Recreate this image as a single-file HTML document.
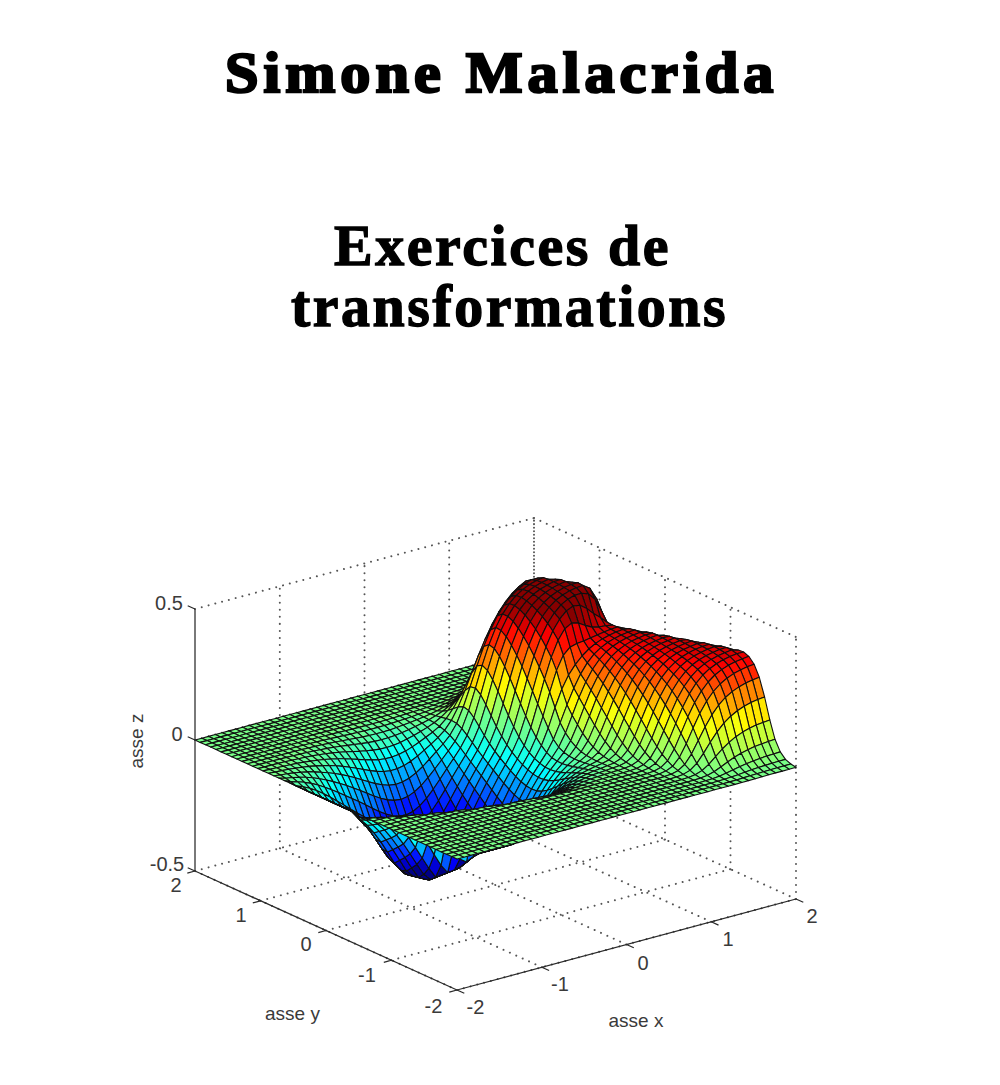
<!DOCTYPE html>
<html><head><meta charset="utf-8">
<style>
html,body{margin:0;padding:0;background:#fff;}
body{width:1000px;height:1085px;position:relative;overflow:hidden;}
.t{position:absolute;white-space:nowrap;color:#000;line-height:1;transform-origin:0 0;font-family:"Liberation Serif",serif;font-weight:bold;}
#author{font-size:60px;left:224.5px;top:44.3px;transform:scale(1.003,0.965);letter-spacing:5px;-webkit-text-stroke:2.6px #000;}
#l1{font-size:56px;left:334px;top:216.8px;transform:scale(1.034,1.02);letter-spacing:2.5px;-webkit-text-stroke:1.3px #000;}
#l2{font-size:56px;left:290.5px;top:277.2px;transform:scale(1.033,1.05);letter-spacing:2.5px;-webkit-text-stroke:1.3px #000;}
svg{position:absolute;left:0;top:0;}
</style></head><body>
<div class="t" id="author">Simone Malacrida</div>
<div class="t" id="l1">Exercices de</div>
<div class="t" id="l2">transformations</div>
<svg width="1000" height="1085" viewBox="0 0 1000 1085"><defs><filter id="bl" x="-5%" y="-5%" width="110%" height="110%"><feGaussianBlur stdDeviation="0.5"/></filter></defs><path d="M457.0 990.0L195.0 871.0M457.0 990.0L796.0 899.0M796.0 899.0L796.0 637.0M541.8 967.2L279.8 848.2M391.5 960.2L730.5 869.2M279.8 848.2L279.8 586.2M730.5 869.2L730.5 607.2M626.5 944.5L364.5 825.5M326.0 930.5L665.0 839.5M364.5 825.5L364.5 563.5M665.0 839.5L665.0 577.5M711.2 921.8L449.2 802.8M260.5 900.8L599.5 809.8M449.2 802.8L449.2 540.8M599.5 809.8L599.5 547.8M796.0 899.0L534.0 780.0M195.0 871.0L534.0 780.0M534.0 780.0L534.0 518.0M195.0 740.0L534.0 649.0M534.0 649.0L796.0 768.0M195.0 609.0L534.0 518.0M534.0 518.0L796.0 637.0" fill="none" stroke="#555" stroke-width="2.0" stroke-dasharray="0.01 7" stroke-linecap="round"/><path d="M534.0 780.0L534.0 518.0" fill="none" stroke="#555" stroke-width="2.0" stroke-dasharray="0.01 7" stroke-dashoffset="3.5" stroke-linecap="round"/><g stroke="#111" stroke-width="1.1" stroke-linejoin="round" filter="url(#bl)"><path fill="#78ff87" d="M532.5 653.2 539.2 651.4 534.0 649.0 527.2 650.8z"/><path fill="#78ff87" d="M525.7 655.0 532.5 653.2 527.2 650.8 520.4 652.6z"/><path fill="#78ff87" d="M537.7 655.6 544.5 653.8 539.2 651.4 532.5 653.2z"/><path fill="#78ff87" d="M518.9 656.8 525.7 655.0 520.4 652.6 513.7 654.5z"/><path fill="#78ff87" d="M530.9 657.4 537.7 655.6 532.5 653.2 525.7 655.0z"/><path fill="#78ff87" d="M542.9 657.9 549.7 656.1 544.5 653.8 537.7 655.6z"/><path fill="#78ff87" d="M512.1 658.6 518.9 656.8 513.7 654.5 506.9 656.3z"/><path fill="#78ff87" d="M524.1 659.2 530.9 657.4 525.7 655.0 518.9 656.8z"/><path fill="#78ff87" d="M536.2 659.7 542.9 657.9 537.7 655.6 530.9 657.4z"/><path fill="#78ff87" d="M548.2 660.3 555.0 658.5 549.7 656.1 542.9 657.9z"/><path fill="#78ff87" d="M505.3 660.5 512.1 658.6 506.9 656.3 500.1 658.1z"/><path fill="#78ff87" d="M517.4 661.0 524.1 659.2 518.9 656.8 512.1 658.6z"/><path fill="#78ff87" d="M529.4 661.5 536.2 659.7 530.9 657.4 524.1 659.2z"/><path fill="#78ff87" d="M541.4 662.1 548.2 660.3 542.9 657.9 536.2 659.7z"/><path fill="#78ff87" d="M498.6 662.3 505.3 660.5 500.1 658.1 493.3 659.9z"/><path fill="#78ff87" d="M553.4 662.6 560.2 660.8 555.0 658.5 548.2 660.3z"/><path fill="#78ff87" d="M510.6 662.8 517.4 661.0 512.1 658.6 505.3 660.5z"/><path fill="#78ff87" d="M522.6 663.3 529.4 661.5 524.1 659.2 517.4 661.0z"/><path fill="#78ff87" d="M534.6 663.8 541.4 662.1 536.2 659.7 529.4 661.5z"/><path fill="#78ff87" d="M491.8 664.1 498.6 662.3 493.3 659.9 486.5 661.7z"/><path fill="#78ff87" d="M546.6 664.3 553.4 662.6 548.2 660.3 541.4 662.1z"/><path fill="#78ff87" d="M503.8 664.6 510.6 662.8 505.3 660.5 498.6 662.3z"/><path fill="#78ff87" d="M558.7 664.8 565.4 663.1 560.2 660.8 553.4 662.6z"/><path fill="#78ff87" d="M515.8 665.1 522.6 663.3 517.4 661.0 510.6 662.8z"/><path fill="#78ff87" d="M527.8 665.5 534.6 663.8 529.4 661.5 522.6 663.3z"/><path fill="#78ff87" d="M485.0 665.9 491.8 664.1 486.5 661.7 479.8 663.5z"/><path fill="#78ff87" d="M539.9 666.0 546.6 664.3 541.4 662.1 534.6 663.8z"/><path fill="#78ff87" d="M497.0 666.4 503.8 664.6 498.6 662.3 491.8 664.1z"/><path fill="#78ff87" d="M551.9 666.4 558.7 664.8 553.4 662.6 546.6 664.3z"/><path fill="#78ff87" d="M509.0 666.9 515.8 665.1 510.6 662.8 503.8 664.6z"/><path fill="#78ff87" d="M563.9 667.0 570.7 665.4 565.4 663.1 558.7 664.8z"/><path fill="#78ff87" d="M521.1 667.3 527.8 665.5 522.6 663.3 515.8 665.1z"/><path fill="#78ff87" d="M478.2 667.7 485.0 665.9 479.8 663.5 473.0 665.4z"/><path fill="#78ff87" d="M533.1 667.6 539.9 666.0 534.6 663.8 527.8 665.5z"/><path fill="#78ff87" d="M490.2 668.2 497.0 666.4 491.8 664.1 485.0 665.9z"/><path fill="#78ff87" d="M545.1 667.9 551.9 666.4 546.6 664.3 539.9 666.0z"/><path fill="#78ff87" d="M502.3 668.6 509.0 666.9 503.8 664.6 497.0 666.4z"/><path fill="#78ff87" d="M557.1 668.4 563.9 667.0 558.7 664.8 551.9 666.4z"/><path fill="#78ff87" d="M514.3 669.0 521.1 667.3 515.8 665.1 509.0 666.9z"/><path fill="#78ff87" d="M471.4 669.5 478.2 667.7 473.0 665.4 466.2 667.2z"/><path fill="#78ff87" d="M569.1 669.1 575.9 667.7 570.7 665.4 563.9 667.0z"/><path fill="#78ff87" d="M526.3 669.1 533.1 667.6 527.8 665.5 521.1 667.3z"/><path fill="#78ff87" d="M483.5 670.0 490.2 668.2 485.0 665.9 478.2 667.7z"/><path fill="#78ff87" d="M538.3 669.2 545.1 667.9 539.9 666.0 533.1 667.6z"/><path fill="#78ff87" d="M495.5 670.4 502.3 668.6 497.0 666.4 490.2 668.2z"/><path fill="#78ff87" d="M550.3 669.5 557.1 668.4 551.9 666.4 545.1 667.9z"/><path fill="#78ff87" d="M507.5 670.7 514.3 669.0 509.0 666.9 502.3 668.6z"/><path fill="#78ff87" d="M464.7 671.3 471.4 669.5 466.2 667.2 459.4 669.0z"/><path fill="#78ff87" d="M562.4 670.2 569.1 669.1 563.9 667.0 557.1 668.4z"/><path fill="#78ff87" d="M519.5 670.6 526.3 669.1 521.1 667.3 514.3 669.0z"/><path fill="#78ff87" d="M476.7 671.8 483.5 670.0 478.2 667.7 471.4 669.5z"/><path fill="#78ff87" d="M574.4 671.1 581.2 669.9 575.9 667.7 569.1 669.1z"/><path fill="#78ff87" d="M531.5 670.4 538.3 669.2 533.1 667.6 526.3 669.1z"/><path fill="#78ff87" d="M488.7 672.2 495.5 670.4 490.2 668.2 483.5 670.0z"/><path fill="#87ff78" d="M543.6 670.3 550.3 669.5 545.1 667.9 538.3 669.2z"/><path fill="#78ff87" d="M500.7 672.4 507.5 670.7 502.3 668.6 495.5 670.4z"/><path fill="#78ff87" d="M457.9 673.2 464.7 671.3 459.4 669.0 452.6 670.8z"/><path fill="#87ff78" d="M555.6 670.9 562.4 670.2 557.1 668.4 550.3 669.5z"/><path fill="#78ff87" d="M512.7 672.2 519.5 670.6 514.3 669.0 507.5 670.7z"/><path fill="#78ff87" d="M469.9 673.6 476.7 671.8 471.4 669.5 464.7 671.3z"/><path fill="#78ff87" d="M567.6 671.9 574.4 671.1 569.1 669.1 562.4 670.2z"/><path fill="#87ff78" d="M524.8 671.5 531.5 670.4 526.3 669.1 519.5 670.6z"/><path fill="#78ff87" d="M481.9 674.0 488.7 672.2 483.5 670.0 476.7 671.8z"/><path fill="#78ff87" d="M579.6 673.1 586.4 672.0 581.2 669.9 574.4 671.1z"/><path fill="#87ff78" d="M536.8 670.8 543.6 670.3 538.3 669.2 531.5 670.4z"/><path fill="#78ff87" d="M493.9 674.1 500.7 672.4 495.5 670.4 488.7 672.2z"/><path fill="#78ff87" d="M451.1 675.0 457.9 673.2 452.6 670.8 445.9 672.6z"/><path fill="#87ff78" d="M548.8 670.9 555.6 670.9 550.3 669.5 543.6 670.3z"/><path fill="#78ff87" d="M506.0 673.7 512.7 672.2 507.5 670.7 500.7 672.4z"/><path fill="#78ff87" d="M463.1 675.5 469.9 673.6 464.7 671.3 457.9 673.2z"/><path fill="#87ff78" d="M560.8 672.0 567.6 671.9 562.4 670.2 555.6 670.9z"/><path fill="#87ff78" d="M518.0 672.6 524.8 671.5 519.5 670.6 512.7 672.2z"/><path fill="#78ff87" d="M475.1 675.8 481.9 674.0 476.7 671.8 469.9 673.6z"/><path fill="#87ff78" d="M572.8 673.5 579.6 673.1 574.4 671.1 567.6 671.9z"/><path fill="#97ff68" d="M530.0 671.0 536.8 670.8 531.5 670.4 524.8 671.5z"/><path fill="#78ff87" d="M487.2 675.9 493.9 674.1 488.7 672.2 481.9 674.0z"/><path fill="#78ff87" d="M584.9 674.9 591.6 674.1 586.4 672.0 579.6 673.1z"/><path fill="#78ff87" d="M444.3 676.8 451.1 675.0 445.9 672.6 439.1 674.5z"/><path fill="#97ff68" d="M542.0 670.3 548.8 670.9 543.6 670.3 536.8 670.8z"/><path fill="#78ff87" d="M499.2 675.4 506.0 673.7 500.7 672.4 493.9 674.1z"/><path fill="#78ff87" d="M456.3 677.3 463.1 675.5 457.9 673.2 451.1 675.0z"/><path fill="#97ff68" d="M554.0 671.2 560.8 672.0 555.6 670.9 548.8 670.9z"/><path fill="#87ff78" d="M511.2 673.9 518.0 672.6 512.7 672.2 506.0 673.7z"/><path fill="#78ff87" d="M468.4 677.6 475.1 675.8 469.9 673.6 463.1 675.5z"/><path fill="#87ff78" d="M566.1 672.9 572.8 673.5 567.6 671.9 560.8 672.0z"/><path fill="#97ff68" d="M523.2 671.3 530.0 671.0 524.8 671.5 518.0 672.6z"/><path fill="#78ff87" d="M480.4 677.7 487.2 675.9 481.9 674.0 475.1 675.8z"/><path fill="#87ff78" d="M578.1 674.8 584.9 674.9 579.6 673.1 572.8 673.5z"/><path fill="#78ff87" d="M437.5 678.6 444.3 676.8 439.1 674.5 432.3 676.3z"/><path fill="#a7ff58" d="M535.2 669.1 542.0 670.3 536.8 670.8 530.0 671.0z"/><path fill="#78ff87" d="M492.4 677.1 499.2 675.4 493.9 674.1 487.2 675.9z"/><path fill="#87ff78" d="M590.1 676.5 596.9 676.1 591.6 674.1 584.9 674.9z"/><path fill="#78ff87" d="M449.6 679.1 456.3 677.3 451.1 675.0 444.3 676.8z"/><path fill="#a7ff58" d="M547.3 669.1 554.0 671.2 548.8 670.9 542.0 670.3z"/><path fill="#87ff78" d="M504.4 675.3 511.2 673.9 506.0 673.7 499.2 675.4z"/><path fill="#78ff87" d="M461.6 679.5 468.4 677.6 463.1 675.5 456.3 677.3z"/><path fill="#a7ff58" d="M559.3 671.1 566.1 672.9 560.8 672.0 554.0 671.2z"/><path fill="#97ff68" d="M516.4 671.7 523.2 671.3 518.0 672.6 511.2 673.9z"/><path fill="#78ff87" d="M473.6 679.6 480.4 677.7 475.1 675.8 468.4 677.6z"/><path fill="#97ff68" d="M571.3 673.6 578.1 674.8 572.8 673.5 566.1 672.9z"/><path fill="#78ff87" d="M430.8 680.5 437.5 678.6 432.3 676.3 425.5 678.1z"/><path fill="#b7ff48" d="M528.5 667.6 535.2 669.1 530.0 671.0 523.2 671.3z"/><path fill="#78ff87" d="M485.6 679.0 492.4 677.1 487.2 675.9 480.4 677.7z"/><path fill="#87ff78" d="M583.3 675.9 590.1 676.5 584.9 674.9 578.1 674.8z"/><path fill="#78ff87" d="M442.8 681.0 449.6 679.1 444.3 676.8 437.5 678.6z"/><path fill="#b7ff48" d="M540.5 665.9 547.3 669.1 542.0 670.3 535.2 669.1z"/><path fill="#87ff78" d="M497.6 677.0 504.4 675.3 499.2 675.4 492.4 677.1z"/><path fill="#87ff78" d="M595.3 677.9 602.1 677.9 596.9 676.1 590.1 676.5z"/><path fill="#78ff87" d="M454.8 681.3 461.6 679.5 456.3 677.3 449.6 679.1z"/><path fill="#b7ff48" d="M552.5 667.5 559.3 671.1 554.0 671.2 547.3 669.1z"/><path fill="#a7ff58" d="M509.7 672.6 516.4 671.7 511.2 673.9 504.4 675.3z"/><path fill="#78ff87" d="M466.8 681.5 473.6 679.6 468.4 677.6 461.6 679.5z"/><path fill="#78ff87" d="M424.0 682.3 430.8 680.5 425.5 678.1 418.7 679.9z"/><path fill="#a7ff58" d="M564.5 670.6 571.3 673.6 566.1 672.9 559.3 671.1z"/><path fill="#c7ff38" d="M521.7 666.3 528.5 667.6 523.2 671.3 516.4 671.7z"/><path fill="#78ff87" d="M478.8 680.9 485.6 679.0 480.4 677.7 473.6 679.6z"/><path fill="#78ff87" d="M436.0 682.8 442.8 681.0 437.5 678.6 430.8 680.5z"/><path fill="#a7ff58" d="M576.5 673.9 583.3 675.9 578.1 674.8 571.3 673.6z"/><path fill="#87ff78" d="M490.9 678.9 497.6 677.0 492.4 677.1 485.6 679.0z"/><path fill="#d7ff28" d="M533.7 661.9 540.5 665.9 535.2 669.1 528.5 667.6z"/><path fill="#97ff68" d="M588.6 676.7 595.3 677.9 590.1 676.5 583.3 675.9z"/><path fill="#78ff87" d="M448.0 683.2 454.8 681.3 449.6 679.1 442.8 681.0z"/><path fill="#d7ff28" d="M545.7 662.2 552.5 667.5 547.3 669.1 540.5 665.9z"/><path fill="#a7ff58" d="M502.9 674.1 509.7 672.6 504.4 675.3 497.6 677.0z"/><path fill="#87ff78" d="M600.6 679.1 607.4 679.6 602.1 677.9 595.3 677.9z"/><path fill="#78ff87" d="M460.0 683.4 466.8 681.5 461.6 679.5 454.8 681.3z"/><path fill="#78ff87" d="M417.2 684.1 424.0 682.3 418.7 679.9 412.0 681.7z"/><path fill="#c7ff38" d="M557.7 665.6 564.5 670.6 559.3 671.1 552.5 667.5z"/><path fill="#78ff87" d="M472.1 683.0 478.8 680.9 473.6 679.6 466.8 681.5z"/><path fill="#c7ff38" d="M514.9 665.8 521.7 666.3 516.4 671.7 509.7 672.6z"/><path fill="#78ff87" d="M429.2 684.6 436.0 682.8 430.8 680.5 424.0 682.3z"/><path fill="#b7ff48" d="M569.8 669.8 576.5 673.9 571.3 673.6 564.5 670.6z"/><path fill="#87ff78" d="M484.1 681.1 490.9 678.9 485.6 679.0 478.8 680.9z"/><path fill="#f7ff08" d="M526.9 657.8 533.7 661.9 528.5 667.6 521.7 666.3z"/><path fill="#78ff87" d="M441.2 685.1 448.0 683.2 442.8 681.0 436.0 682.8z"/><path fill="#a7ff58" d="M581.8 673.8 588.6 676.7 583.3 675.9 576.5 673.9z"/><path fill="#a7ff58" d="M496.1 676.2 502.9 674.1 497.6 677.0 490.9 678.9z"/><path fill="#78ff87" d="M453.3 685.3 460.0 683.4 454.8 681.3 448.0 683.2z"/><path fill="#97ff68" d="M593.8 677.2 600.6 679.1 595.3 677.9 588.6 676.7z"/><path fill="#fff700" d="M538.9 655.4 545.7 662.2 540.5 665.9 533.7 661.9z"/><path fill="#78ff87" d="M410.4 685.9 417.2 684.1 412.0 681.7 405.2 683.6z"/><path fill="#97ff68" d="M605.8 680.0 612.6 681.1 607.4 679.6 600.6 679.1z"/><path fill="#f7ff08" d="M551.0 658.3 557.7 665.6 552.5 667.5 545.7 662.2z"/><path fill="#78ff87" d="M465.3 685.1 472.1 683.0 466.8 681.5 460.0 683.4z"/><path fill="#d7ff28" d="M508.1 666.6 514.9 665.8 509.7 672.6 502.9 674.1z"/><path fill="#78ff87" d="M422.4 686.5 429.2 684.6 424.0 682.3 417.2 684.1z"/><path fill="#e7ff18" d="M563.0 663.3 569.8 669.8 564.5 670.6 557.7 665.6z"/><path fill="#87ff78" d="M477.3 683.5 484.1 681.1 478.8 680.9 472.1 683.0z"/><path fill="#78ff87" d="M434.5 686.9 441.2 685.1 436.0 682.8 429.2 684.6z"/><path fill="#fff700" d="M520.1 654.7 526.9 657.8 521.7 666.3 514.9 665.8z"/><path fill="#c7ff38" d="M575.0 668.5 581.8 673.8 576.5 673.9 569.8 669.8z"/><path fill="#97ff68" d="M489.3 678.9 496.1 676.2 490.9 678.9 484.1 681.1z"/><path fill="#78ff87" d="M446.5 687.3 453.3 685.3 448.0 683.2 441.2 685.1z"/><path fill="#b7ff48" d="M587.0 673.2 593.8 677.2 588.6 676.7 581.8 673.8z"/><path fill="#ffc700" d="M532.2 647.9 538.9 655.4 533.7 661.9 526.9 657.8z"/><path fill="#78ff87" d="M403.6 687.8 410.4 685.9 405.2 683.6 398.4 685.4z"/><path fill="#78ff87" d="M458.5 687.2 465.3 685.1 460.0 683.4 453.3 685.3z"/><path fill="#a7ff58" d="M599.0 677.2 605.8 680.0 600.6 679.1 593.8 677.2z"/><path fill="#d7ff28" d="M501.3 668.8 508.1 666.6 502.9 674.1 496.1 676.2z"/><path fill="#ffd700" d="M544.2 648.8 551.0 658.3 545.7 662.2 538.9 655.4z"/><path fill="#78ff87" d="M415.7 688.3 422.4 686.5 417.2 684.1 410.4 685.9z"/><path fill="#97ff68" d="M611.1 680.5 617.8 682.3 612.6 681.1 605.8 680.0z"/><path fill="#87ff78" d="M470.5 685.9 477.3 683.5 472.1 683.0 465.3 685.1z"/><path fill="#ffe700" d="M556.2 654.1 563.0 663.3 557.7 665.6 551.0 658.3z"/><path fill="#78ff87" d="M427.7 688.8 434.5 686.9 429.2 684.6 422.4 686.5z"/><path fill="#ffe700" d="M513.4 653.6 520.1 654.7 514.9 665.8 508.1 666.6z"/><path fill="#f7ff08" d="M568.2 660.5 575.0 668.5 569.8 669.8 563.0 663.3z"/><path fill="#97ff68" d="M482.5 682.0 489.3 678.9 484.1 681.1 477.3 683.5z"/><path fill="#78ff87" d="M439.7 689.2 446.5 687.3 441.2 685.1 434.5 686.9z"/><path fill="#78ff87" d="M396.9 689.6 403.6 687.8 398.4 685.4 391.6 687.2z"/><path fill="#e7ff18" d="M580.2 666.7 587.0 673.2 581.8 673.8 575.0 668.5z"/><path fill="#ffa700" d="M525.4 641.1 532.2 647.9 526.9 657.8 520.1 654.7z"/><path fill="#78ff87" d="M451.7 689.2 458.5 687.2 453.3 685.3 446.5 687.3z"/><path fill="#c7ff38" d="M494.6 672.3 501.3 668.8 496.1 676.2 489.3 678.9z"/><path fill="#c7ff38" d="M592.3 672.1 599.0 677.2 593.8 677.2 587.0 673.2z"/><path fill="#78ff87" d="M408.9 690.1 415.7 688.3 410.4 685.9 403.6 687.8z"/><path fill="#ff9700" d="M537.4 638.2 544.2 648.8 538.9 655.4 532.2 647.9z"/><path fill="#87ff78" d="M463.7 688.4 470.5 685.9 465.3 685.1 458.5 687.2z"/><path fill="#b7ff48" d="M604.3 676.8 611.1 680.5 605.8 680.0 599.0 677.2z"/><path fill="#78ff87" d="M420.9 690.7 427.7 688.8 422.4 686.5 415.7 688.3z"/><path fill="#ffa700" d="M549.4 642.5 556.2 654.1 551.0 658.3 544.2 648.8z"/><path fill="#ffe700" d="M506.6 655.2 513.4 653.6 508.1 666.6 501.3 668.8z"/><path fill="#a7ff58" d="M616.3 680.7 623.1 683.3 617.8 682.3 611.1 680.5z"/><path fill="#97ff68" d="M475.8 685.2 482.5 682.0 477.3 683.5 470.5 685.9z"/><path fill="#ffc700" d="M561.4 649.7 568.2 660.5 563.0 663.3 556.2 654.1z"/><path fill="#78ff87" d="M432.9 691.1 439.7 689.2 434.5 686.9 427.7 688.8z"/><path fill="#78ff87" d="M390.1 691.4 396.9 689.6 391.6 687.2 384.8 689.0z"/><path fill="#ffe700" d="M573.5 657.2 580.2 666.7 575.0 668.5 568.2 660.5z"/><path fill="#ff8700" d="M518.6 636.8 525.4 641.1 520.1 654.7 513.4 653.6z"/><path fill="#78ff87" d="M444.9 691.3 451.7 689.2 446.5 687.3 439.7 689.2z"/><path fill="#b7ff48" d="M487.8 676.7 494.6 672.3 489.3 678.9 482.5 682.0z"/><path fill="#78ff87" d="M402.1 692.0 408.9 690.1 403.6 687.8 396.9 689.6z"/><path fill="#f7ff08" d="M585.5 664.3 592.3 672.1 587.0 673.2 580.2 666.7z"/><path fill="#78ff87" d="M457.0 690.8 463.7 688.4 458.5 687.2 451.7 689.2z"/><path fill="#ff5800" d="M530.6 627.8 537.4 638.2 532.2 647.9 525.4 641.1z"/><path fill="#78ff87" d="M414.1 692.5 420.9 690.7 415.7 688.3 408.9 690.1z"/><path fill="#d7ff28" d="M597.5 670.5 604.3 676.8 599.0 677.2 592.3 672.1z"/><path fill="#ffe700" d="M499.8 659.4 506.6 655.2 501.3 668.8 494.6 672.3z"/><path fill="#ff6800" d="M542.6 629.4 549.4 642.5 544.2 648.8 537.4 638.2z"/><path fill="#87ff78" d="M469.0 688.5 475.8 685.2 470.5 685.9 463.7 688.4z"/><path fill="#c7ff38" d="M609.5 675.8 616.3 680.7 611.1 680.5 604.3 676.8z"/><path fill="#78ff87" d="M426.1 693.0 432.9 691.1 427.7 688.8 420.9 690.7z"/><path fill="#78ff87" d="M383.3 693.2 390.1 691.4 384.8 689.0 378.1 690.9z"/><path fill="#ff7800" d="M554.7 636.4 561.4 649.7 556.2 654.1 549.4 642.5z"/><path fill="#b7ff48" d="M621.5 680.7 628.3 684.3 623.1 683.3 616.3 680.7z"/><path fill="#ff7800" d="M511.8 636.2 518.6 636.8 513.4 653.6 506.6 655.2z"/><path fill="#a7ff58" d="M481.0 681.5 487.8 676.7 482.5 682.0 475.8 685.2z"/><path fill="#78ff87" d="M438.2 693.3 444.9 691.3 439.7 689.2 432.9 691.1z"/><path fill="#ffa700" d="M566.7 644.9 573.5 657.2 568.2 660.5 561.4 649.7z"/><path fill="#78ff87" d="M395.3 693.8 402.1 692.0 396.9 689.6 390.1 691.4z"/><path fill="#ffc700" d="M578.7 653.4 585.5 664.3 580.2 666.7 573.5 657.2z"/><path fill="#78ff87" d="M450.2 693.1 457.0 690.8 451.7 689.2 444.9 691.3z"/><path fill="#78ff87" d="M407.3 694.3 414.1 692.5 408.9 690.1 402.1 692.0z"/><path fill="#ff2800" d="M523.8 619.8 530.6 627.8 525.4 641.1 518.6 636.8z"/><path fill="#f7ff08" d="M493.0 665.6 499.8 659.4 494.6 672.3 487.8 676.7z"/><path fill="#ffe700" d="M590.7 661.2 597.5 670.5 592.3 672.1 585.5 664.3z"/><path fill="#87ff78" d="M462.2 691.5 469.0 688.5 463.7 688.4 457.0 690.8z"/><path fill="#78ff87" d="M419.4 694.8 426.1 693.0 420.9 690.7 414.1 692.5z"/><path fill="#f7ff08" d="M602.7 668.2 609.5 675.8 604.3 676.8 597.5 670.5z"/><path fill="#ff1800" d="M535.9 616.5 542.6 629.4 537.4 638.2 530.6 627.8z"/><path fill="#78ff87" d="M376.5 695.1 383.3 693.2 378.1 690.9 371.3 692.7z"/><path fill="#a7ff58" d="M474.2 686.3 481.0 681.5 475.8 685.2 469.0 688.5z"/><path fill="#ff8700" d="M505.0 640.0 511.8 636.2 506.6 655.2 499.8 659.4z"/><path fill="#d7ff28" d="M614.8 674.5 621.5 680.7 616.3 680.7 609.5 675.8z"/><path fill="#78ff87" d="M431.4 695.2 438.2 693.3 432.9 691.1 426.1 693.0z"/><path fill="#ff3800" d="M547.9 621.7 554.7 636.4 549.4 642.5 542.6 629.4z"/><path fill="#78ff87" d="M388.5 695.6 395.3 693.8 390.1 691.4 383.3 693.2z"/><path fill="#ff5800" d="M559.9 630.3 566.7 644.9 561.4 649.7 554.7 636.4z"/><path fill="#b7ff48" d="M626.8 681.6 633.6 686.0 628.3 684.3 621.5 680.7z"/><path fill="#78ff87" d="M443.4 695.2 450.2 693.1 444.9 691.3 438.2 693.3z"/><path fill="#e7ff18" d="M486.2 673.0 493.0 665.6 487.8 676.7 481.0 681.5z"/><path fill="#78ff87" d="M400.6 696.2 407.3 694.3 402.1 692.0 395.3 693.8z"/><path fill="#ff8700" d="M571.9 639.8 578.7 653.4 573.5 657.2 566.7 644.9z"/><path fill="#ff1800" d="M517.1 616.0 523.8 619.8 518.6 636.8 511.8 636.2z"/><path fill="#87ff78" d="M455.4 694.3 462.2 691.5 457.0 690.8 450.2 693.1z"/><path fill="#ffa700" d="M583.9 649.0 590.7 661.2 585.5 664.3 578.7 653.4z"/><path fill="#78ff87" d="M412.6 696.7 419.4 694.8 414.1 692.5 407.3 694.3z"/><path fill="#78ff87" d="M369.7 696.9 376.5 695.1 371.3 692.7 364.5 694.5z"/><path fill="#ffd700" d="M596.0 657.6 602.7 668.2 597.5 670.5 590.7 661.2z"/><path fill="#d70000" d="M529.1 605.7 535.9 616.5 530.6 627.8 523.8 619.8z"/><path fill="#ffa700" d="M498.3 647.7 505.0 640.0 499.8 659.4 493.0 665.6z"/><path fill="#97ff68" d="M467.4 690.6 474.2 686.3 469.0 688.5 462.2 691.5z"/><path fill="#78ff87" d="M424.6 697.1 431.4 695.2 426.1 693.0 419.4 694.8z"/><path fill="#fff700" d="M608.0 665.5 614.8 674.5 609.5 675.8 602.7 668.2z"/><path fill="#78ff87" d="M381.8 697.4 388.5 695.6 383.3 693.2 376.5 695.1z"/><path fill="#e70000" d="M541.1 607.3 547.9 621.7 542.6 629.4 535.9 616.5z"/><path fill="#78ff87" d="M436.6 697.3 443.4 695.2 438.2 693.3 431.4 695.2z"/><path fill="#e7ff18" d="M620.0 673.9 626.8 681.6 621.5 680.7 614.8 674.5z"/><path fill="#c7ff38" d="M479.5 680.4 486.2 673.0 481.0 681.5 474.2 686.3z"/><path fill="#78ff87" d="M393.8 698.0 400.6 696.2 395.3 693.8 388.5 695.6z"/><path fill="#ff0800" d="M553.1 614.7 559.9 630.3 554.7 636.4 547.9 621.7z"/><path fill="#ff1800" d="M510.3 618.0 517.1 616.0 511.8 636.2 505.0 640.0z"/><path fill="#b7ff48" d="M632.0 683.0 638.8 687.3 633.6 686.0 626.8 681.6z"/><path fill="#78ff87" d="M448.6 696.8 455.4 694.3 450.2 693.1 443.4 695.2z"/><path fill="#ff2800" d="M565.1 624.3 571.9 639.8 566.7 644.9 559.9 630.3z"/><path fill="#78ff87" d="M405.8 698.5 412.6 696.7 407.3 694.3 400.6 696.2z"/><path fill="#ff5800" d="M577.2 634.3 583.9 649.0 578.7 653.4 571.9 639.8z"/><path fill="#78ff87" d="M363.0 698.7 369.7 696.9 364.5 694.5 357.7 696.3z"/><path fill="#ffc700" d="M491.5 658.1 498.3 647.7 493.0 665.6 486.2 673.0z"/><path fill="#87ff78" d="M460.7 694.3 467.4 690.6 462.2 691.5 455.4 694.3z"/><path fill="#78ff87" d="M417.8 699.0 424.6 697.1 419.4 694.8 412.6 696.7z"/><path fill="#b70000" d="M522.3 599.4 529.1 605.7 523.8 619.8 517.1 616.0z"/><path fill="#ff8700" d="M589.2 644.1 596.0 657.6 590.7 661.2 583.9 649.0z"/><path fill="#78ff87" d="M375.0 699.3 381.8 697.4 376.5 695.1 369.7 696.9z"/><path fill="#ffb700" d="M601.2 653.5 608.0 665.5 602.7 668.2 596.0 657.6z"/><path fill="#78ff87" d="M429.8 699.3 436.6 697.3 431.4 695.2 424.6 697.1z"/><path fill="#b7ff48" d="M472.7 686.7 479.5 680.4 474.2 686.3 467.4 690.6z"/><path fill="#a70000" d="M534.3 595.3 541.1 607.3 535.9 616.5 529.1 605.7z"/><path fill="#78ff87" d="M387.0 699.8 393.8 698.0 388.5 695.6 381.8 697.4z"/><path fill="#ffd700" d="M613.2 663.0 620.0 673.9 614.8 674.5 608.0 665.5z"/><path fill="#ff3800" d="M503.5 625.9 510.3 618.0 505.0 640.0 498.3 647.7z"/><path fill="#78ff87" d="M441.9 699.1 448.6 696.8 443.4 695.2 436.6 697.3z"/><path fill="#b70000" d="M546.3 599.9 553.1 614.7 547.9 621.7 541.1 607.3z"/><path fill="#e7ff18" d="M625.2 675.6 632.0 683.0 626.8 681.6 620.0 673.9z"/><path fill="#78ff87" d="M399.0 700.4 405.8 698.5 400.6 696.2 393.8 698.0z"/><path fill="#fff700" d="M484.7 668.7 491.5 658.1 486.2 673.0 479.5 680.4z"/><path fill="#d70000" d="M558.4 608.3 565.1 624.3 559.9 630.3 553.1 614.7z"/><path fill="#78ff87" d="M356.2 700.5 363.0 698.7 357.7 696.3 350.9 698.1z"/><path fill="#c7ff38" d="M637.3 682.9 644.0 687.6 638.8 687.3 632.0 683.0z"/><path fill="#87ff78" d="M453.9 697.4 460.7 694.3 455.4 694.3 448.6 696.8z"/><path fill="#ff0800" d="M570.4 618.2 577.2 634.3 571.9 639.8 565.1 624.3z"/><path fill="#78ff87" d="M411.0 700.9 417.8 699.0 412.6 696.7 405.8 698.5z"/><path fill="#a70000" d="M515.5 599.3 522.3 599.4 517.1 616.0 510.3 618.0z"/><path fill="#78ff87" d="M368.2 701.1 375.0 699.3 369.7 696.9 363.0 698.7z"/><path fill="#ff3800" d="M582.4 628.6 589.2 644.1 583.9 649.0 577.2 634.3z"/><path fill="#a7ff58" d="M465.9 692.0 472.7 686.7 467.4 690.6 460.7 694.3z"/><path fill="#78ff87" d="M423.1 701.2 429.8 699.3 424.6 697.1 417.8 699.0z"/><path fill="#ff6800" d="M594.4 638.9 601.2 653.5 596.0 657.6 589.2 644.1z"/><path fill="#ff6800" d="M496.7 638.2 503.5 625.9 498.3 647.7 491.5 658.1z"/><path fill="#78ff87" d="M380.2 701.6 387.0 699.8 381.8 697.4 375.0 699.3z"/><path fill="#870000" d="M527.5 587.9 534.3 595.3 529.1 605.7 522.3 599.4z"/><path fill="#ff9700" d="M606.4 649.3 613.2 663.0 608.0 665.5 601.2 653.5z"/><path fill="#78ff87" d="M435.1 701.3 441.9 699.1 436.6 697.3 429.8 699.3z"/><path fill="#78ff87" d="M392.2 702.2 399.0 700.4 393.8 698.0 387.0 699.8z"/><path fill="#e7ff18" d="M477.9 678.0 484.7 668.7 479.5 680.4 472.7 686.7z"/><path fill="#ffd700" d="M618.5 664.0 625.2 675.6 620.0 673.9 613.2 663.0z"/><path fill="#870000" d="M539.6 588.0 546.3 599.9 541.1 607.3 534.3 595.3z"/><path fill="#78ff87" d="M349.4 702.3 356.2 700.5 350.9 698.1 344.2 700.0z"/><path fill="#87ff78" d="M447.1 700.3 453.9 697.4 448.6 696.8 441.9 699.1z"/><path fill="#f7ff08" d="M630.5 675.9 637.3 682.9 632.0 683.0 625.2 675.6z"/><path fill="#870000" d="M551.6 593.9 558.4 608.3 553.1 614.7 546.3 599.9z"/><path fill="#78ff87" d="M404.3 702.7 411.0 700.9 405.8 698.5 399.0 700.4z"/><path fill="#c70000" d="M508.7 606.2 515.5 599.3 510.3 618.0 503.5 625.9z"/><path fill="#78ff87" d="M361.4 702.9 368.2 701.1 363.0 698.7 356.2 700.5z"/><path fill="#d7ff28" d="M642.5 681.8 649.3 687.4 644.0 687.6 637.3 682.9z"/><path fill="#b70000" d="M563.6 602.5 570.4 618.2 565.1 624.3 558.4 608.3z"/><path fill="#97ff68" d="M459.1 696.5 465.9 692.0 460.7 694.3 453.9 697.4z"/><path fill="#ff9700" d="M489.9 651.1 496.7 638.2 491.5 658.1 484.7 668.7z"/><path fill="#78ff87" d="M416.3 703.2 423.1 701.2 417.8 699.0 411.0 700.9z"/><path fill="#d70000" d="M575.6 612.3 582.4 628.6 577.2 634.3 570.4 618.2z"/><path fill="#78ff87" d="M373.4 703.5 380.2 701.6 375.0 699.3 368.2 701.1z"/><path fill="#870000" d="M520.8 587.0 527.5 587.9 522.3 599.4 515.5 599.3z"/><path fill="#ff0800" d="M587.6 622.8 594.4 638.9 589.2 644.1 582.4 628.6z"/><path fill="#78ff87" d="M428.3 703.4 435.1 701.3 429.8 699.3 423.1 701.2z"/><path fill="#c7ff38" d="M471.1 685.9 477.9 678.0 472.7 686.7 465.9 692.0z"/><path fill="#78ff87" d="M385.5 704.0 392.2 702.2 387.0 699.8 380.2 701.6z"/><path fill="#ff3800" d="M599.7 633.6 606.4 649.3 601.2 653.5 594.4 638.9z"/><path fill="#78ff87" d="M342.6 704.2 349.4 702.3 344.2 700.0 337.4 701.8z"/><path fill="#870000" d="M532.8 581.2 539.6 588.0 534.3 595.3 527.5 587.9z"/><path fill="#78ff87" d="M440.3 702.8 447.1 700.3 441.9 699.1 435.1 701.3z"/><path fill="#ff8700" d="M611.7 648.2 618.5 664.0 613.2 663.0 606.4 649.3z"/><path fill="#f70000" d="M502.0 617.8 508.7 606.2 503.5 625.9 496.7 638.2z"/><path fill="#78ff87" d="M397.5 704.6 404.3 702.7 399.0 700.4 392.2 702.2z"/><path fill="#ffd700" d="M623.7 665.9 630.5 675.9 625.2 675.6 618.5 664.0z"/><path fill="#78ff87" d="M354.6 704.7 361.4 702.9 356.2 700.5 349.4 702.3z"/><path fill="#870000" d="M544.8 583.2 551.6 593.9 546.3 599.9 539.6 588.0z"/><path fill="#ffc700" d="M483.2 663.3 489.9 651.1 484.7 668.7 477.9 678.0z"/><path fill="#87ff78" d="M452.3 700.3 459.1 696.5 453.9 697.4 447.1 700.3z"/><path fill="#fff700" d="M635.7 674.1 642.5 681.8 637.3 682.9 630.5 675.9z"/><path fill="#78ff87" d="M409.5 705.1 416.3 703.2 411.0 700.9 404.3 702.7z"/><path fill="#870000" d="M556.8 589.2 563.6 602.5 558.4 608.3 551.6 593.9z"/><path fill="#78ff87" d="M366.7 705.3 373.4 703.5 368.2 701.1 361.4 702.9z"/><path fill="#e7ff18" d="M647.7 680.2 654.5 686.7 649.3 687.4 642.5 681.8z"/><path fill="#870000" d="M514.0 593.1 520.8 587.0 515.5 599.3 508.7 606.2z"/><path fill="#870000" d="M568.8 597.3 575.6 612.3 570.4 618.2 563.6 602.5z"/><path fill="#78ff87" d="M421.5 705.4 428.3 703.4 423.1 701.2 416.3 703.2z"/><path fill="#b7ff48" d="M464.4 692.6 471.1 685.9 465.9 692.0 459.1 696.5z"/><path fill="#78ff87" d="M378.7 705.9 385.5 704.0 380.2 701.6 373.4 703.5z"/><path fill="#b70000" d="M580.9 606.8 587.6 622.8 582.4 628.6 575.6 612.3z"/><path fill="#ff2800" d="M495.2 630.6 502.0 617.8 496.7 638.2 489.9 651.1z"/><path fill="#78ff87" d="M335.8 706.0 342.6 704.2 337.4 701.8 330.6 703.6z"/><path fill="#78ff87" d="M433.5 705.2 440.3 702.8 435.1 701.3 428.3 703.4z"/><path fill="#e70000" d="M592.9 617.1 599.7 633.6 594.4 638.9 587.6 622.8z"/><path fill="#870000" d="M526.0 581.0 532.8 581.2 527.5 587.9 520.8 587.0z"/><path fill="#78ff87" d="M390.7 706.4 397.5 704.6 392.2 702.2 385.5 704.0z"/><path fill="#fff700" d="M476.4 674.5 483.2 663.3 477.9 678.0 471.1 685.9z"/><path fill="#ff2800" d="M604.9 630.3 611.7 648.2 606.4 649.3 599.7 633.6z"/><path fill="#78ff87" d="M347.9 706.5 354.6 704.7 349.4 702.3 342.6 704.2z"/><path fill="#87ff78" d="M445.6 703.6 452.3 700.3 447.1 700.3 440.3 702.8z"/><path fill="#ff8700" d="M616.9 652.4 623.7 665.9 618.5 664.0 611.7 648.2z"/><path fill="#870000" d="M538.0 578.1 544.8 583.2 539.6 588.0 532.8 581.2z"/><path fill="#78ff87" d="M402.7 707.0 409.5 705.1 404.3 702.7 397.5 704.6z"/><path fill="#ffc700" d="M628.9 664.2 635.7 674.1 630.5 675.9 623.7 665.9z"/><path fill="#78ff87" d="M359.9 707.1 366.7 705.3 361.4 702.9 354.6 704.7z"/><path fill="#a70000" d="M507.2 602.2 514.0 593.1 508.7 606.2 502.0 617.8z"/><path fill="#870000" d="M550.0 580.4 556.8 589.2 551.6 593.9 544.8 583.2z"/><path fill="#a7ff58" d="M457.6 698.2 464.4 692.6 459.1 696.5 452.3 700.3z"/><path fill="#78ff87" d="M414.7 707.4 421.5 705.4 416.3 703.2 409.5 705.1z"/><path fill="#ffe700" d="M641.0 671.6 647.7 680.2 642.5 681.8 635.7 674.1z"/><path fill="#ff6800" d="M488.4 644.1 495.2 630.6 489.9 651.1 483.2 663.3z"/><path fill="#78ff87" d="M371.9 707.7 378.7 705.9 373.4 703.5 366.7 705.3z"/><path fill="#870000" d="M562.1 585.6 568.8 597.3 563.6 602.5 556.8 589.2z"/><path fill="#78ff87" d="M329.1 707.8 335.8 706.0 330.6 703.6 323.8 705.4z"/><path fill="#fff700" d="M653.0 678.1 659.8 685.6 654.5 686.7 647.7 680.2z"/><path fill="#78ff87" d="M426.8 707.5 433.5 705.2 428.3 703.4 421.5 705.4z"/><path fill="#870000" d="M519.2 586.4 526.0 581.0 520.8 587.0 514.0 593.1z"/><path fill="#870000" d="M574.1 592.9 580.9 606.8 575.6 612.3 568.8 597.3z"/><path fill="#78ff87" d="M383.9 708.3 390.7 706.4 385.5 704.0 378.7 705.9z"/><path fill="#e7ff18" d="M469.6 684.3 476.4 674.5 471.1 685.9 464.4 692.6z"/><path fill="#78ff87" d="M341.1 708.4 347.9 706.5 342.6 704.2 335.8 706.0z"/><path fill="#970000" d="M586.1 601.7 592.9 617.1 587.6 622.8 580.9 606.8z"/><path fill="#78ff87" d="M438.8 706.6 445.6 703.6 440.3 702.8 433.5 705.2z"/><path fill="#78ff87" d="M395.9 708.8 402.7 707.0 397.5 704.6 390.7 706.4z"/><path fill="#c70000" d="M598.1 612.8 604.9 630.3 599.7 633.6 592.9 617.1z"/><path fill="#870000" d="M531.2 579.7 538.0 578.1 532.8 581.2 526.0 581.0z"/><path fill="#c70000" d="M500.4 613.0 507.2 602.2 502.0 617.8 495.2 630.6z"/><path fill="#78ff87" d="M353.1 708.9 359.9 707.1 354.6 704.7 347.9 706.5z"/><path fill="#ff2800" d="M610.1 634.9 616.9 652.4 611.7 648.2 604.9 630.3z"/><path fill="#ff8700" d="M622.2 652.7 628.9 664.2 623.7 665.9 616.9 652.4z"/><path fill="#97ff68" d="M450.8 703.0 457.6 698.2 452.3 700.3 445.6 703.6z"/><path fill="#ff9700" d="M481.6 657.6 488.4 644.1 483.2 663.3 476.4 674.5z"/><path fill="#78ff87" d="M408.0 709.4 414.7 707.4 409.5 705.1 402.7 707.0z"/><path fill="#870000" d="M543.3 577.7 550.0 580.4 544.8 583.2 538.0 578.1z"/><path fill="#78ff87" d="M365.1 709.5 371.9 707.7 366.7 705.3 359.9 707.1z"/><path fill="#ffa700" d="M634.2 661.2 641.0 671.6 635.7 674.1 628.9 664.2z"/><path fill="#78ff87" d="M322.3 709.6 329.1 707.8 323.8 705.4 317.0 707.2z"/><path fill="#78ff87" d="M420.0 709.7 426.8 707.5 421.5 705.4 414.7 707.4z"/><path fill="#870000" d="M555.3 579.2 562.1 585.6 556.8 589.2 550.0 580.4z"/><path fill="#870000" d="M512.4 593.2 519.2 586.4 514.0 593.1 507.2 602.2z"/><path fill="#c7ff38" d="M462.8 692.7 469.6 684.3 464.4 692.6 457.6 698.2z"/><path fill="#ffc700" d="M646.2 668.6 653.0 678.1 647.7 680.2 641.0 671.6z"/><path fill="#78ff87" d="M377.1 710.1 383.9 708.3 378.7 705.9 371.9 707.7z"/><path fill="#870000" d="M567.3 583.3 574.1 592.9 568.8 597.3 562.1 585.6z"/><path fill="#78ff87" d="M334.3 710.2 341.1 708.4 335.8 706.0 329.1 707.8z"/><path fill="#ffe700" d="M658.2 675.6 665.0 684.0 659.8 685.6 653.0 678.1z"/><path fill="#78ff87" d="M432.0 709.3 438.8 706.6 433.5 705.2 426.8 707.5z"/><path fill="#f70000" d="M493.6 625.3 500.4 613.0 495.2 630.6 488.4 644.1z"/><path fill="#78ff87" d="M389.2 710.7 395.9 708.8 390.7 706.4 383.9 708.3z"/><path fill="#870000" d="M524.5 584.1 531.2 579.7 526.0 581.0 519.2 586.4z"/><path fill="#870000" d="M579.3 589.5 586.1 601.7 580.9 606.8 574.1 592.9z"/><path fill="#78ff87" d="M346.3 710.7 353.1 708.9 347.9 706.5 341.1 708.4z"/><path fill="#ffc700" d="M474.8 670.7 481.6 657.6 476.4 674.5 469.6 684.3z"/><path fill="#87ff78" d="M444.0 707.1 450.8 703.0 445.6 703.6 438.8 706.6z"/><path fill="#870000" d="M591.3 597.8 598.1 612.8 592.9 617.1 586.1 601.7z"/><path fill="#78ff87" d="M401.2 711.3 408.0 709.4 402.7 707.0 395.9 708.8z"/><path fill="#c70000" d="M603.4 615.4 610.1 634.9 604.9 630.3 598.1 612.8z"/><path fill="#870000" d="M536.5 580.6 543.3 577.7 538.0 578.1 531.2 579.7z"/><path fill="#ff3800" d="M615.4 639.9 622.2 652.7 616.9 652.4 610.1 634.9z"/><path fill="#78ff87" d="M358.3 711.3 365.1 709.5 359.9 707.1 353.1 708.9z"/><path fill="#870000" d="M505.7 601.6 512.4 593.2 507.2 602.2 500.4 613.0z"/><path fill="#78ff87" d="M315.5 711.4 322.3 709.6 317.0 707.2 310.3 709.1z"/><path fill="#ff6800" d="M627.4 649.9 634.2 661.2 628.9 664.2 622.2 652.7z"/><path fill="#78ff87" d="M413.2 711.8 420.0 709.7 414.7 707.4 408.0 709.4z"/><path fill="#a7ff58" d="M456.0 699.9 462.8 692.7 457.6 698.2 450.8 703.0z"/><path fill="#870000" d="M548.5 579.3 555.3 579.2 550.0 580.4 543.3 577.7z"/><path fill="#78ff87" d="M370.4 711.9 377.1 710.1 371.9 707.7 365.1 709.5z"/><path fill="#ff8700" d="M639.4 657.7 646.2 668.6 641.0 671.6 634.2 661.2z"/><path fill="#ff3800" d="M486.9 639.1 493.6 625.3 488.4 644.1 481.6 657.6z"/><path fill="#78ff87" d="M327.5 712.0 334.3 710.2 329.1 707.8 322.3 709.6z"/><path fill="#78ff87" d="M425.2 711.9 432.0 709.3 426.8 707.5 420.0 709.7z"/><path fill="#870000" d="M560.5 579.6 567.3 583.3 562.1 585.6 555.3 579.2z"/><path fill="#870000" d="M517.7 589.6 524.5 584.1 519.2 586.4 512.4 593.2z"/><path fill="#78ff87" d="M382.4 712.6 389.2 710.7 383.9 708.3 377.1 710.1z"/><path fill="#ffa700" d="M651.4 665.4 658.2 675.6 653.0 678.1 646.2 668.6z"/><path fill="#fff700" d="M468.1 682.7 474.8 670.7 469.6 684.3 462.8 692.7z"/><path fill="#78ff87" d="M339.5 712.6 346.3 710.7 341.1 708.4 334.3 710.2z"/><path fill="#870000" d="M572.5 582.3 579.3 589.5 574.1 592.9 567.3 583.3z"/><path fill="#87ff78" d="M437.2 710.7 444.0 707.1 438.8 706.6 432.0 709.3z"/><path fill="#ffc700" d="M663.5 672.7 670.2 682.0 665.0 684.0 658.2 675.6z"/><path fill="#78ff87" d="M394.4 713.3 401.2 711.3 395.9 708.8 389.2 710.7z"/><path fill="#870000" d="M529.7 584.5 536.5 580.6 531.2 579.7 524.5 584.1z"/><path fill="#870000" d="M584.6 587.3 591.3 597.8 586.1 601.7 579.3 589.5z"/><path fill="#78ff87" d="M351.6 713.1 358.3 711.3 353.1 708.9 346.3 710.7z"/><path fill="#b70000" d="M498.9 611.9 505.7 601.6 500.4 613.0 493.6 625.3z"/><path fill="#78ff87" d="M308.7 713.3 315.5 711.4 310.3 709.1 303.5 710.9z"/><path fill="#97ff68" d="M449.3 706.0 456.0 699.9 450.8 703.0 444.0 707.1z"/><path fill="#870000" d="M596.6 598.7 603.4 615.4 598.1 612.8 591.3 597.8z"/><path fill="#78ff87" d="M406.4 713.9 413.2 711.8 408.0 709.4 401.2 711.3z"/><path fill="#f70000" d="M608.6 626.0 615.4 639.9 610.1 634.9 603.4 615.4z"/><path fill="#870000" d="M541.7 582.6 548.5 579.3 543.3 577.7 536.5 580.6z"/><path fill="#ff7800" d="M480.1 653.9 486.9 639.1 481.6 657.6 474.8 670.7z"/><path fill="#78ff87" d="M363.6 713.8 370.4 711.9 365.1 709.5 358.3 711.3z"/><path fill="#ff2800" d="M620.6 638.9 627.4 649.9 622.2 652.7 615.4 639.9z"/><path fill="#78ff87" d="M320.7 713.8 327.5 712.0 322.3 709.6 315.5 711.4z"/><path fill="#78ff87" d="M418.4 714.3 425.2 711.9 420.0 709.7 413.2 711.8z"/><path fill="#870000" d="M510.9 596.4 517.7 589.6 512.4 593.2 505.7 601.6z"/><path fill="#ff4800" d="M632.6 646.5 639.4 657.7 634.2 661.2 627.4 649.9z"/><path fill="#870000" d="M553.7 581.8 560.5 579.6 555.3 579.2 548.5 579.3z"/><path fill="#d7ff28" d="M461.3 693.4 468.1 682.7 462.8 692.7 456.0 699.9z"/><path fill="#78ff87" d="M375.6 714.4 382.4 712.6 377.1 710.1 370.4 711.9z"/><path fill="#78ff87" d="M332.8 714.4 339.5 712.6 334.3 710.2 327.5 712.0z"/><path fill="#ff6800" d="M644.7 654.2 651.4 665.4 646.2 668.6 639.4 657.7z"/><path fill="#78ff87" d="M430.5 713.9 437.2 710.7 432.0 709.3 425.2 711.9z"/><path fill="#870000" d="M565.8 581.6 572.5 582.3 567.3 583.3 560.5 579.6z"/><path fill="#78ff87" d="M387.6 715.2 394.4 713.3 389.2 710.7 382.4 712.6z"/><path fill="#e70000" d="M492.1 624.3 498.9 611.9 493.6 625.3 486.9 639.1z"/><path fill="#870000" d="M522.9 589.4 529.7 584.5 524.5 584.1 517.7 589.6z"/><path fill="#ff9700" d="M656.7 662.0 663.5 672.7 658.2 675.6 651.4 665.4z"/><path fill="#78ff87" d="M344.8 715.0 351.6 713.1 346.3 710.7 339.5 712.6z"/><path fill="#870000" d="M577.8 582.8 584.6 587.3 579.3 589.5 572.5 582.3z"/><path fill="#87ff78" d="M442.5 711.2 449.3 706.0 444.0 707.1 437.2 710.7z"/><path fill="#78ff87" d="M301.9 715.1 308.7 713.3 303.5 710.9 296.7 712.7z"/><path fill="#ffb700" d="M473.3 668.9 480.1 653.9 474.8 670.7 468.1 682.7z"/><path fill="#ffb700" d="M668.7 669.6 675.5 679.6 670.2 682.0 663.5 672.7z"/><path fill="#78ff87" d="M399.6 716.0 406.4 713.9 401.2 711.3 394.4 713.3z"/><path fill="#870000" d="M534.9 586.4 541.7 582.6 536.5 580.6 529.7 584.5z"/><path fill="#78ff87" d="M356.8 715.6 363.6 713.8 358.3 711.3 351.6 713.1z"/><path fill="#870000" d="M589.8 588.2 596.6 598.7 591.3 597.8 584.6 587.3z"/><path fill="#a70000" d="M601.8 611.5 608.6 626.0 603.4 615.4 596.6 598.7z"/><path fill="#78ff87" d="M314.0 715.6 320.7 713.8 315.5 711.4 308.7 713.3z"/><path fill="#870000" d="M504.1 605.1 510.9 596.4 505.7 601.6 498.9 611.9z"/><path fill="#f70000" d="M613.8 629.4 620.6 638.9 615.4 639.9 608.6 626.0z"/><path fill="#78ff87" d="M411.7 716.7 418.4 714.3 413.2 711.8 406.4 713.9z"/><path fill="#b7ff48" d="M454.5 702.7 461.3 693.4 456.0 699.9 449.3 706.0z"/><path fill="#870000" d="M547.0 585.2 553.7 581.8 548.5 579.3 541.7 582.6z"/><path fill="#78ff87" d="M368.8 716.3 375.6 714.4 370.4 711.9 363.6 713.8z"/><path fill="#ff1800" d="M625.9 636.4 632.6 646.5 627.4 649.9 620.6 638.9z"/><path fill="#78ff87" d="M326.0 716.2 332.8 714.4 327.5 712.0 320.7 713.8z"/><path fill="#ff2800" d="M485.3 638.9 492.1 624.3 486.9 639.1 480.1 653.9z"/><path fill="#78ff87" d="M423.7 716.9 430.5 713.9 425.2 711.9 418.4 714.3z"/><path fill="#870000" d="M516.1 595.6 522.9 589.4 517.7 589.6 510.9 596.4z"/><path fill="#870000" d="M559.0 584.6 565.8 581.6 560.5 579.6 553.7 581.8z"/><path fill="#ff3800" d="M637.9 643.3 644.7 654.2 639.4 657.7 632.6 646.5z"/><path fill="#78ff87" d="M380.8 717.1 387.6 715.2 382.4 712.6 375.6 714.4z"/><path fill="#78ff87" d="M338.0 716.8 344.8 715.0 339.5 712.6 332.8 714.4z"/><path fill="#ffe700" d="M466.5 683.5 473.3 668.9 468.1 682.7 461.3 693.4z"/><path fill="#78ff87" d="M435.7 715.8 442.5 711.2 437.2 710.7 430.5 713.9z"/><path fill="#ff5800" d="M649.9 650.7 656.7 662.0 651.4 665.4 644.7 654.2z"/><path fill="#78ff87" d="M295.2 716.9 301.9 715.1 296.7 712.7 289.9 714.5z"/><path fill="#870000" d="M571.0 584.5 577.8 582.8 572.5 582.3 565.8 581.6z"/><path fill="#78ff87" d="M392.9 718.0 399.6 716.0 394.4 713.3 387.6 715.2z"/><path fill="#870000" d="M528.2 591.3 534.9 586.4 529.7 584.5 522.9 589.4z"/><path fill="#78ff87" d="M350.0 717.4 356.8 715.6 351.6 713.1 344.8 715.0z"/><path fill="#ff7800" d="M661.9 658.4 668.7 669.6 663.5 672.7 656.7 662.0z"/><path fill="#b70000" d="M497.3 616.1 504.1 605.1 498.9 611.9 492.1 624.3z"/><path fill="#78ff87" d="M307.2 717.5 314.0 715.6 308.7 713.3 301.9 715.1z"/><path fill="#870000" d="M583.0 585.4 589.8 588.2 584.6 587.3 577.8 582.8z"/><path fill="#97ff68" d="M447.7 710.6 454.5 702.7 449.3 706.0 442.5 711.2z"/><path fill="#68ff97" d="M404.9 719.0 411.7 716.7 406.4 713.9 399.6 716.0z"/><path fill="#ff9700" d="M673.9 666.2 680.7 676.8 675.5 679.6 668.7 669.6z"/><path fill="#870000" d="M540.2 589.2 547.0 585.2 541.7 582.6 534.9 586.4z"/><path fill="#870000" d="M595.0 599.2 601.8 611.5 596.6 598.7 589.8 588.2z"/><path fill="#78ff87" d="M362.0 718.1 368.8 716.3 363.6 713.8 356.8 715.6z"/><path fill="#c70000" d="M607.1 622.2 613.8 629.4 608.6 626.0 601.8 611.5z"/><path fill="#ff6800" d="M478.5 655.3 485.3 638.9 480.1 653.9 473.3 668.9z"/><path fill="#78ff87" d="M319.2 718.0 326.0 716.2 320.7 713.8 314.0 715.6z"/><path fill="#68ff97" d="M416.9 719.8 423.7 716.9 418.4 714.3 411.7 716.7z"/><path fill="#e70000" d="M619.1 628.9 625.9 636.4 620.6 638.9 613.8 629.4z"/><path fill="#870000" d="M509.4 603.7 516.1 595.6 510.9 596.4 504.1 605.1z"/><path fill="#870000" d="M552.2 588.1 559.0 584.6 553.7 581.8 547.0 585.2z"/><path fill="#78ff87" d="M374.1 719.0 380.8 717.1 375.6 714.4 368.8 716.3z"/><path fill="#d7ff28" d="M459.7 697.0 466.5 683.5 461.3 693.4 454.5 702.7z"/><path fill="#78ff87" d="M331.2 718.6 338.0 716.8 332.8 714.4 326.0 716.2z"/><path fill="#f70000" d="M631.1 634.2 637.9 643.3 632.6 646.5 625.9 636.4z"/><path fill="#78ff87" d="M428.9 719.7 435.7 715.8 430.5 713.9 423.7 716.9z"/><path fill="#78ff87" d="M288.4 718.7 295.2 716.9 289.9 714.5 283.1 716.3z"/><path fill="#870000" d="M564.2 587.6 571.0 584.5 565.8 581.6 559.0 584.6z"/><path fill="#78ff87" d="M386.1 720.0 392.9 718.0 387.6 715.2 380.8 717.1z"/><path fill="#870000" d="M521.4 597.5 528.2 591.3 522.9 589.4 516.1 595.6z"/><path fill="#e70000" d="M490.6 629.9 497.3 616.1 492.1 624.3 485.3 638.9z"/><path fill="#ff1800" d="M643.1 640.5 649.9 650.7 644.7 654.2 637.9 643.3z"/><path fill="#78ff87" d="M343.2 719.2 350.0 717.4 344.8 715.0 338.0 716.8z"/><path fill="#78ff87" d="M440.9 717.3 447.7 710.6 442.5 711.2 435.7 715.8z"/><path fill="#78ff87" d="M300.4 719.3 307.2 717.5 301.9 715.1 295.2 716.9z"/><path fill="#870000" d="M576.2 587.7 583.0 585.4 577.8 582.8 571.0 584.5z"/><path fill="#ff3800" d="M655.1 647.5 661.9 658.4 656.7 662.0 649.9 650.7z"/><path fill="#ffb700" d="M471.8 672.9 478.5 655.3 473.3 668.9 466.5 683.5z"/><path fill="#68ff97" d="M398.1 721.3 404.9 719.0 399.6 716.0 392.9 718.0z"/><path fill="#870000" d="M533.4 594.3 540.2 589.2 534.9 586.4 528.2 591.3z"/><path fill="#78ff87" d="M355.3 719.9 362.0 718.1 356.8 715.6 350.0 717.4z"/><path fill="#ff5800" d="M667.2 654.9 673.9 666.2 668.7 669.6 661.9 658.4z"/><path fill="#870000" d="M588.3 593.9 595.0 599.2 589.8 588.2 583.0 585.4z"/><path fill="#78ff87" d="M312.4 719.8 319.2 718.0 314.0 715.6 307.2 717.5z"/><path fill="#970000" d="M502.6 614.1 509.4 603.7 504.1 605.1 497.3 616.1z"/><path fill="#a70000" d="M600.3 617.5 607.1 622.2 601.8 611.5 595.0 599.2z"/><path fill="#68ff97" d="M410.1 722.5 416.9 719.8 411.7 716.7 404.9 719.0z"/><path fill="#a7ff58" d="M453.0 708.8 459.7 697.0 454.5 702.7 447.7 710.6z"/><path fill="#870000" d="M545.4 592.5 552.2 588.1 547.0 585.2 540.2 589.2z"/><path fill="#78ff87" d="M367.3 720.8 374.1 719.0 368.8 716.3 362.0 718.1z"/><path fill="#ff7800" d="M679.2 662.6 686.0 673.7 680.7 676.8 673.9 666.2z"/><path fill="#c70000" d="M612.3 625.1 619.1 628.9 613.8 629.4 607.1 622.2z"/><path fill="#78ff87" d="M324.4 720.4 331.2 718.6 326.0 716.2 319.2 718.0z"/><path fill="#68ff97" d="M422.1 723.3 428.9 719.7 423.7 716.9 416.9 719.8z"/><path fill="#ff3800" d="M483.8 646.6 490.6 629.9 485.3 638.9 478.5 655.3z"/><path fill="#870000" d="M514.6 605.6 521.4 597.5 516.1 595.6 509.4 603.7z"/><path fill="#78ff87" d="M281.6 720.5 288.4 718.7 283.1 716.3 276.4 718.2z"/><path fill="#d70000" d="M624.3 628.4 631.1 634.2 625.9 636.4 619.1 628.9z"/><path fill="#870000" d="M557.4 591.4 564.2 587.6 559.0 584.6 552.2 588.1z"/><path fill="#78ff87" d="M379.3 722.0 386.1 720.0 380.8 717.1 374.1 719.0z"/><path fill="#78ff87" d="M336.5 721.0 343.2 719.2 338.0 716.8 331.2 718.6z"/><path fill="#fff700" d="M465.0 690.6 471.8 672.9 466.5 683.5 459.7 697.0z"/><path fill="#68ff97" d="M434.2 722.8 440.9 717.3 435.7 715.8 428.9 719.7z"/><path fill="#e70000" d="M636.3 632.7 643.1 640.5 637.9 643.3 631.1 634.2z"/><path fill="#78ff87" d="M293.6 721.1 300.4 719.3 295.2 716.9 288.4 718.7z"/><path fill="#870000" d="M569.5 590.9 576.2 587.7 571.0 584.5 564.2 587.6z"/><path fill="#68ff97" d="M391.3 723.4 398.1 721.3 392.9 718.0 386.1 720.0z"/><path fill="#870000" d="M526.6 600.9 533.4 594.3 528.2 591.3 521.4 597.5z"/><path fill="#78ff87" d="M348.5 721.7 355.3 719.9 350.0 717.4 343.2 719.2z"/><path fill="#ff0800" d="M648.4 638.1 655.1 647.5 649.9 650.7 643.1 640.5z"/><path fill="#d70000" d="M495.8 627.6 502.6 614.1 497.3 616.1 490.6 629.9z"/><path fill="#78ff87" d="M305.6 721.7 312.4 719.8 307.2 717.5 300.4 719.3z"/><path fill="#87ff78" d="M446.2 718.6 453.0 708.8 447.7 710.6 440.9 717.3z"/><path fill="#870000" d="M581.5 593.2 588.3 593.9 583.0 585.4 576.2 587.7z"/><path fill="#68ff97" d="M403.3 725.1 410.1 722.5 404.9 719.0 398.1 721.3z"/><path fill="#870000" d="M538.6 598.1 545.4 592.5 540.2 589.2 533.4 594.3z"/><path fill="#ff1800" d="M660.4 644.5 667.2 654.9 661.9 658.4 655.1 647.5z"/><path fill="#970000" d="M593.5 613.6 600.3 617.5 595.0 599.2 588.3 593.9z"/><path fill="#78ff87" d="M360.5 722.6 367.3 720.8 362.0 718.1 355.3 719.9z"/><path fill="#ff8700" d="M477.0 665.9 483.8 646.6 478.5 655.3 471.8 672.9z"/><path fill="#c70000" d="M605.5 625.7 612.3 625.1 607.1 622.2 600.3 617.5z"/><path fill="#78ff87" d="M317.7 722.2 324.4 720.4 319.2 718.0 312.4 719.8z"/><path fill="#ff3800" d="M672.4 651.6 679.2 662.6 673.9 666.2 667.2 654.9z"/><path fill="#68ff97" d="M415.4 726.6 422.1 723.3 416.9 719.8 410.1 722.5z"/><path fill="#970000" d="M507.8 616.4 514.6 605.6 509.4 603.7 502.6 614.1z"/><path fill="#870000" d="M550.7 596.2 557.4 591.4 552.2 588.1 545.4 592.5z"/><path fill="#78ff87" d="M274.8 722.4 281.6 720.5 276.4 718.2 269.6 720.0z"/><path fill="#b7ff48" d="M458.2 706.9 465.0 690.6 459.7 697.0 453.0 708.8z"/><path fill="#68ff97" d="M372.5 723.8 379.3 722.0 374.1 719.0 367.3 720.8z"/><path fill="#c70000" d="M617.5 626.9 624.3 628.4 619.1 628.9 612.3 625.1z"/><path fill="#ff5800" d="M684.4 659.1 691.2 670.3 686.0 673.7 679.2 662.6z"/><path fill="#78ff87" d="M329.7 722.8 336.5 721.0 331.2 718.6 324.4 720.4z"/><path fill="#58ffa7" d="M427.4 727.4 434.2 722.8 428.9 719.7 422.1 723.3z"/><path fill="#870000" d="M519.8 609.7 526.6 600.9 521.4 597.5 514.6 605.6z"/><path fill="#78ff87" d="M286.8 722.9 293.6 721.1 288.4 718.7 281.6 720.5z"/><path fill="#870000" d="M562.7 595.0 569.5 590.9 564.2 587.6 557.4 591.4z"/><path fill="#ff1800" d="M489.0 644.7 495.8 627.6 490.6 629.9 483.8 646.6z"/><path fill="#68ff97" d="M384.5 725.5 391.3 723.4 386.1 720.0 379.3 722.0z"/><path fill="#d70000" d="M629.6 628.7 636.3 632.7 631.1 634.2 624.3 628.4z"/><path fill="#78ff87" d="M341.7 723.5 348.5 721.7 343.2 719.2 336.5 721.0z"/><path fill="#68ff97" d="M439.4 726.3 446.2 718.6 440.9 717.3 434.2 722.8z"/><path fill="#ffd700" d="M470.2 686.7 477.0 665.9 471.8 672.9 465.0 690.6z"/><path fill="#d70000" d="M641.6 631.9 648.4 638.1 643.1 640.5 636.3 632.7z"/><path fill="#78ff87" d="M298.9 723.5 305.6 721.7 300.4 719.3 293.6 721.1z"/><path fill="#870000" d="M574.7 595.2 581.5 593.2 576.2 587.7 569.5 590.9z"/><path fill="#68ff97" d="M396.6 727.6 403.3 725.1 398.1 721.3 391.3 723.4z"/><path fill="#870000" d="M531.9 605.4 538.6 598.1 533.4 594.3 526.6 600.9z"/><path fill="#78ff87" d="M353.7 724.4 360.5 722.6 355.3 719.9 348.5 721.7z"/><path fill="#870000" d="M586.7 608.4 593.5 613.6 588.3 593.9 581.5 593.2z"/><path fill="#d70000" d="M501.0 630.5 507.8 616.4 502.6 614.1 495.8 627.6z"/><path fill="#e70000" d="M653.6 636.4 660.4 644.5 655.1 647.5 648.4 638.1z"/><path fill="#c70000" d="M598.7 627.0 605.5 625.7 600.3 617.5 593.5 613.6z"/><path fill="#78ff87" d="M310.9 724.0 317.7 722.2 312.4 719.8 305.6 721.7z"/><path fill="#58ffa7" d="M408.6 729.7 415.4 726.6 410.1 722.5 403.3 725.1z"/><path fill="#87ff78" d="M451.4 720.4 458.2 706.9 453.0 708.8 446.2 718.6z"/><path fill="#870000" d="M543.9 602.5 550.7 596.2 545.4 592.5 538.6 598.1z"/><path fill="#78ff87" d="M268.0 724.2 274.8 722.4 269.6 720.0 262.8 721.8z"/><path fill="#ff0800" d="M665.6 642.0 672.4 651.6 667.2 654.9 660.4 644.5z"/><path fill="#68ff97" d="M365.7 725.6 372.5 723.8 367.3 720.8 360.5 722.6z"/><path fill="#c70000" d="M610.8 629.2 617.5 626.9 612.3 625.1 605.5 625.7z"/><path fill="#ff7800" d="M482.2 665.3 489.0 644.7 483.8 646.6 477.0 665.9z"/><path fill="#78ff87" d="M322.9 724.6 329.7 722.8 324.4 720.4 317.7 722.2z"/><path fill="#58ffa7" d="M420.6 731.5 427.4 727.4 422.1 723.3 415.4 726.6z"/><path fill="#a70000" d="M513.1 621.4 519.8 609.7 514.6 605.6 507.8 616.4z"/><path fill="#ff2800" d="M677.6 648.6 684.4 659.1 679.2 662.6 672.4 651.6z"/><path fill="#870000" d="M555.9 600.3 562.7 595.0 557.4 591.4 550.7 596.2z"/><path fill="#78ff87" d="M280.1 724.7 286.8 722.9 281.6 720.5 274.8 722.4z"/><path fill="#68ff97" d="M377.8 727.4 384.5 725.5 379.3 722.0 372.5 723.8z"/><path fill="#c70000" d="M622.8 629.5 629.6 628.7 624.3 628.4 617.5 626.9z"/><path fill="#c7ff38" d="M463.4 706.8 470.2 686.7 465.0 690.6 458.2 706.9z"/><path fill="#78ff87" d="M334.9 725.3 341.7 723.5 336.5 721.0 329.7 722.8z"/><path fill="#ff4800" d="M689.7 655.7 696.4 666.8 691.2 670.3 684.4 659.1z"/><path fill="#58ffa7" d="M432.6 732.2 439.4 726.3 434.2 722.8 427.4 727.4z"/><path fill="#870000" d="M525.1 615.2 531.9 605.4 526.6 600.9 519.8 609.7z"/><path fill="#870000" d="M567.9 599.2 574.7 595.2 569.5 590.9 562.7 595.0z"/><path fill="#78ff87" d="M292.1 725.3 298.9 723.5 293.6 721.1 286.8 722.9z"/><path fill="#58ffa7" d="M389.8 729.9 396.6 727.6 391.3 723.4 384.5 725.5z"/><path fill="#ff2800" d="M494.3 648.6 501.0 630.5 495.8 627.6 489.0 644.7z"/><path fill="#c70000" d="M634.8 630.0 641.6 631.9 636.3 632.7 629.6 628.7z"/><path fill="#78ff87" d="M346.9 726.1 353.7 724.4 348.5 721.7 341.7 723.5z"/><path fill="#870000" d="M579.9 605.2 586.7 608.4 581.5 593.2 574.7 595.2z"/><path fill="#58ffa7" d="M444.6 730.4 451.4 720.4 446.2 718.6 439.4 726.3z"/><path fill="#78ff87" d="M304.1 725.9 310.9 724.0 305.6 721.7 298.9 723.5z"/><path fill="#58ffa7" d="M401.8 732.7 408.6 729.7 403.3 725.1 396.6 727.6z"/><path fill="#870000" d="M537.1 610.7 543.9 602.5 538.6 598.1 531.9 605.4z"/><path fill="#b70000" d="M592.0 627.1 598.7 627.0 593.5 613.6 586.7 608.4z"/><path fill="#d70000" d="M646.8 632.1 653.6 636.4 648.4 638.1 641.6 631.9z"/><path fill="#ffd700" d="M475.5 688.2 482.2 665.3 477.0 665.9 470.2 686.7z"/><path fill="#78ff87" d="M261.3 726.0 268.0 724.2 262.8 721.8 256.0 723.6z"/><path fill="#78ff87" d="M359.0 727.4 365.7 725.6 360.5 722.6 353.7 724.4z"/><path fill="#e70000" d="M506.3 636.8 513.1 621.4 507.8 616.4 501.0 630.5z"/><path fill="#d70000" d="M604.0 631.9 610.8 629.2 605.5 625.7 598.7 627.0z"/><path fill="#d70000" d="M658.8 635.5 665.6 642.0 660.4 644.5 653.6 636.4z"/><path fill="#48ffb7" d="M413.8 735.4 420.6 731.5 415.4 726.6 408.6 729.7z"/><path fill="#78ff87" d="M316.1 726.4 322.9 724.6 317.7 722.2 310.9 724.0z"/><path fill="#870000" d="M549.1 607.3 555.9 600.3 550.7 596.2 543.9 602.5z"/><path fill="#87ff78" d="M456.7 723.5 463.4 706.8 458.2 706.9 451.4 720.4z"/><path fill="#78ff87" d="M273.3 726.6 280.1 724.7 274.8 722.4 268.0 724.2z"/><path fill="#68ff97" d="M371.0 729.3 377.8 727.4 372.5 723.8 365.7 725.6z"/><path fill="#c70000" d="M616.0 632.1 622.8 629.5 617.5 626.9 610.8 629.2z"/><path fill="#f70000" d="M670.9 640.2 677.6 648.6 672.4 651.6 665.6 642.0z"/><path fill="#ff8700" d="M487.5 670.6 494.3 648.6 489.0 644.7 482.2 665.3z"/><path fill="#48ffb7" d="M425.8 737.3 432.6 732.2 427.4 727.4 420.6 731.5z"/><path fill="#b70000" d="M518.3 628.3 525.1 615.2 519.8 609.7 513.1 621.4z"/><path fill="#78ff87" d="M328.1 727.1 334.9 725.3 329.7 722.8 322.9 724.6z"/><path fill="#870000" d="M561.1 604.9 567.9 599.2 562.7 595.0 555.9 600.3z"/><path fill="#78ff87" d="M285.3 727.1 292.1 725.3 286.8 722.9 280.1 724.7z"/><path fill="#58ffa7" d="M383.0 732.0 389.8 729.9 384.5 725.5 377.8 727.4z"/><path fill="#ff0800" d="M682.9 646.0 689.7 655.7 684.4 659.1 677.6 648.6z"/><path fill="#c70000" d="M628.0 632.2 634.8 630.0 629.6 628.7 622.8 629.5z"/><path fill="#c7ff38" d="M468.7 710.6 475.5 688.2 470.2 686.7 463.4 706.8z"/><path fill="#48ffb7" d="M437.9 737.7 444.6 730.4 439.4 726.3 432.6 732.2z"/><path fill="#78ff87" d="M340.2 727.9 346.9 726.1 341.7 723.5 334.9 725.3z"/><path fill="#970000" d="M530.3 621.8 537.1 610.7 531.9 605.4 525.1 615.2z"/><path fill="#870000" d="M573.2 606.1 579.9 605.2 574.7 595.2 567.9 599.2z"/><path fill="#ff2800" d="M694.9 652.6 701.7 663.3 696.4 666.8 689.7 655.7z"/><path fill="#48ffb7" d="M395.0 735.4 401.8 732.7 396.6 727.6 389.8 729.9z"/><path fill="#78ff87" d="M297.3 727.7 304.1 725.9 298.9 723.5 292.1 725.3z"/><path fill="#ff3800" d="M499.5 656.5 506.3 636.8 501.0 630.5 494.3 648.6z"/><path fill="#a70000" d="M585.2 625.4 592.0 627.1 586.7 608.4 579.9 605.2z"/><path fill="#c70000" d="M640.0 632.4 646.8 632.1 641.6 631.9 634.8 630.0z"/><path fill="#78ff87" d="M254.5 727.8 261.3 726.0 256.0 723.6 249.2 725.4z"/><path fill="#78ff87" d="M352.2 729.1 359.0 727.4 353.7 724.4 346.9 726.1z"/><path fill="#58ffa7" d="M449.9 735.3 456.7 723.5 451.4 720.4 444.6 730.4z"/><path fill="#d70000" d="M597.2 634.9 604.0 631.9 598.7 627.0 592.0 627.1z"/><path fill="#38ffc7" d="M407.0 739.1 413.8 735.4 408.6 729.7 401.8 732.7z"/><path fill="#870000" d="M542.3 616.7 549.1 607.3 543.9 602.5 537.1 610.7z"/><path fill="#78ff87" d="M309.3 728.3 316.1 726.4 310.9 724.0 304.1 725.9z"/><path fill="#ffe700" d="M480.7 694.9 487.5 670.6 482.2 665.3 475.5 688.2z"/><path fill="#c70000" d="M652.1 633.1 658.8 635.5 653.6 636.4 646.8 632.1z"/><path fill="#78ff87" d="M266.5 728.4 273.3 726.6 268.0 724.2 261.3 726.0z"/><path fill="#ff0800" d="M511.5 645.4 518.3 628.3 513.1 621.4 506.3 636.8z"/><path fill="#68ff97" d="M364.2 730.9 371.0 729.3 365.7 725.6 359.0 727.4z"/><path fill="#d70000" d="M609.2 635.2 616.0 632.1 610.8 629.2 604.0 631.9z"/><path fill="#38ffc7" d="M419.1 742.2 425.8 737.3 420.6 731.5 413.8 735.4z"/><path fill="#78ff87" d="M321.4 728.9 328.1 727.1 322.9 724.6 316.1 726.4z"/><path fill="#870000" d="M554.4 612.8 561.1 604.9 555.9 600.3 549.1 607.3z"/><path fill="#d70000" d="M664.1 635.4 670.9 640.2 665.6 642.0 658.8 635.5z"/><path fill="#78ff87" d="M461.9 728.6 468.7 710.6 463.4 706.8 456.7 723.5z"/><path fill="#78ff87" d="M278.5 728.9 285.3 727.1 280.1 724.7 273.3 726.6z"/><path fill="#58ffa7" d="M376.2 733.8 383.0 732.0 377.8 727.4 371.0 729.3z"/><path fill="#d70000" d="M621.2 635.0 628.0 632.2 622.8 629.5 616.0 632.1z"/><path fill="#ffa700" d="M492.7 679.9 499.5 656.5 494.3 648.6 487.5 670.6z"/><path fill="#d70000" d="M523.5 636.5 530.3 621.8 525.1 615.2 518.3 628.3z"/><path fill="#28ffd7" d="M431.1 744.1 437.9 737.7 432.6 732.2 425.8 737.3z"/><path fill="#e70000" d="M676.1 639.1 682.9 646.0 677.6 648.6 670.9 640.2z"/><path fill="#78ff87" d="M333.4 729.6 340.2 727.9 334.9 725.3 328.1 727.1z"/><path fill="#870000" d="M566.4 610.9 573.2 606.1 567.9 599.2 561.1 604.9z"/><path fill="#48ffb7" d="M388.2 737.8 395.0 735.4 389.8 729.9 383.0 732.0z"/><path fill="#78ff87" d="M290.5 729.5 297.3 727.7 292.1 725.3 285.3 727.1z"/><path fill="#f70000" d="M688.1 644.0 694.9 652.6 689.7 655.7 682.9 646.0z"/><path fill="#a7ff58" d="M473.9 717.8 480.7 694.9 475.5 688.2 468.7 710.6z"/><path fill="#c70000" d="M633.3 635.0 640.0 632.4 634.8 630.0 628.0 632.2z"/><path fill="#970000" d="M578.4 622.9 585.2 625.4 579.9 605.2 573.2 606.1z"/><path fill="#78ff87" d="M247.7 729.6 254.5 727.8 249.2 725.4 242.5 727.3z"/><path fill="#28ffd7" d="M443.1 744.0 449.9 735.3 444.6 730.4 437.9 737.7z"/><path fill="#78ff87" d="M345.4 730.7 352.2 729.1 346.9 726.1 340.2 727.9z"/><path fill="#b70000" d="M535.6 629.3 542.3 616.7 537.1 610.7 530.3 621.8z"/><path fill="#d70000" d="M590.4 638.0 597.2 634.9 592.0 627.1 585.2 625.4z"/><path fill="#ff6800" d="M504.7 666.7 511.5 645.4 506.3 636.8 499.5 656.5z"/><path fill="#38ffc7" d="M400.3 742.4 407.0 739.1 401.8 732.7 395.0 735.4z"/><path fill="#78ff87" d="M302.6 730.1 309.3 728.3 304.1 725.9 297.3 727.7z"/><path fill="#ff1800" d="M700.1 649.9 706.9 659.9 701.7 663.3 694.9 652.6z"/><path fill="#c70000" d="M645.3 635.1 652.1 633.1 646.8 632.1 640.0 632.4z"/><path fill="#78ff87" d="M259.7 730.2 266.5 728.4 261.3 726.0 254.5 727.8z"/><path fill="#68ff97" d="M357.4 732.5 364.2 730.9 359.0 727.4 352.2 729.1z"/><path fill="#48ffb7" d="M455.1 741.3 461.9 728.6 456.7 723.5 449.9 735.3z"/><path fill="#d70000" d="M602.4 638.9 609.2 635.2 604.0 631.9 597.2 634.9z"/><path fill="#28ffd7" d="M412.3 746.9 419.1 742.2 413.8 735.4 407.0 739.1z"/><path fill="#970000" d="M547.6 623.4 554.4 612.8 549.1 607.3 542.3 616.7z"/><path fill="#e7ff18" d="M485.9 704.8 492.7 679.9 487.5 670.6 480.7 694.9z"/><path fill="#78ff87" d="M314.6 730.7 321.4 728.9 316.1 726.4 309.3 728.3z"/><path fill="#ff2800" d="M516.8 655.4 523.5 636.5 518.3 628.3 511.5 645.4z"/><path fill="#c70000" d="M657.3 635.2 664.1 635.4 658.8 635.5 652.1 633.1z"/><path fill="#78ff87" d="M271.7 730.8 278.5 728.9 273.3 726.6 266.5 728.4z"/><path fill="#58ffa7" d="M369.4 735.5 376.2 733.8 371.0 729.3 364.2 730.9z"/><path fill="#18ffe7" d="M424.3 750.2 431.1 744.1 425.8 737.3 419.1 742.2z"/><path fill="#d70000" d="M614.5 638.4 621.2 635.0 616.0 632.1 609.2 635.2z"/><path fill="#870000" d="M559.6 619.2 566.4 610.9 561.1 604.9 554.4 612.8z"/><path fill="#78ff87" d="M326.6 731.4 333.4 729.6 328.1 727.1 321.4 728.9z"/><path fill="#68ff97" d="M467.1 735.4 473.9 717.8 468.7 710.6 461.9 728.6z"/><path fill="#c70000" d="M669.3 636.3 676.1 639.1 670.9 640.2 664.1 635.4z"/><path fill="#48ffb7" d="M381.5 739.8 388.2 737.8 383.0 732.0 376.2 733.8z"/><path fill="#78ff87" d="M283.8 731.3 290.5 729.5 285.3 727.1 278.5 728.9z"/><path fill="#ffd700" d="M498.0 691.4 504.7 666.7 499.5 656.5 492.7 679.9z"/><path fill="#f70000" d="M528.8 645.8 535.6 629.3 530.3 621.8 523.5 636.5z"/><path fill="#18ffe7" d="M436.3 751.7 443.1 744.0 437.9 737.7 431.1 744.1z"/><path fill="#d70000" d="M626.5 638.0 633.3 635.0 628.0 632.2 621.2 635.0z"/><path fill="#78ff87" d="M240.9 731.5 247.7 729.6 242.5 727.3 235.7 729.1z"/><path fill="#870000" d="M571.6 623.1 578.4 622.9 573.2 606.1 566.4 610.9z"/><path fill="#78ff87" d="M338.6 732.4 345.4 730.7 340.2 727.9 333.4 729.6z"/><path fill="#d70000" d="M681.3 638.8 688.1 644.0 682.9 646.0 676.1 639.1z"/><path fill="#38ffc7" d="M393.5 745.2 400.3 742.4 395.0 735.4 388.2 737.8z"/><path fill="#e70000" d="M583.6 640.9 590.4 638.0 585.2 625.4 578.4 622.9z"/><path fill="#78ff87" d="M295.8 731.9 302.6 730.1 297.3 727.7 290.5 729.5z"/><path fill="#87ff78" d="M479.2 726.7 485.9 704.8 480.7 694.9 473.9 717.8z"/><path fill="#18ffe7" d="M448.3 751.0 455.1 741.3 449.9 735.3 443.1 744.0z"/><path fill="#d70000" d="M638.5 637.9 645.3 635.1 640.0 632.4 633.3 635.0z"/><path fill="#78ff87" d="M252.9 732.0 259.7 730.2 254.5 727.8 247.7 729.6z"/><path fill="#d70000" d="M540.8 637.6 547.6 623.4 542.3 616.7 535.6 629.3z"/><path fill="#e70000" d="M693.4 642.7 700.1 649.9 694.9 652.6 688.1 644.0z"/><path fill="#68ff97" d="M350.6 734.1 357.4 732.5 352.2 729.1 345.4 730.7z"/><path fill="#ff9700" d="M510.0 678.5 516.8 655.4 511.5 645.4 504.7 666.7z"/><path fill="#e70000" d="M595.7 643.4 602.4 638.9 597.2 634.9 590.4 638.0z"/><path fill="#18ffe7" d="M405.5 751.1 412.3 746.9 407.0 739.1 400.3 742.4z"/><path fill="#78ff87" d="M307.8 732.5 314.6 730.7 309.3 728.3 302.6 730.1z"/><path fill="#f70000" d="M705.4 647.8 712.2 656.7 706.9 659.9 700.1 649.9z"/><path fill="#c70000" d="M650.5 637.8 657.3 635.2 652.1 633.1 645.3 635.1z"/><path fill="#78ff87" d="M265.0 732.6 271.7 730.8 266.5 728.4 259.7 730.2z"/><path fill="#68ff97" d="M362.7 736.9 369.4 735.5 364.2 730.9 357.4 732.5z"/><path fill="#28ffd7" d="M460.4 748.0 467.1 735.4 461.9 728.6 455.1 741.3z"/><path fill="#08fff7" d="M417.5 756.1 424.3 750.2 419.1 742.2 412.3 746.9z"/><path fill="#c7ff38" d="M491.2 715.9 498.0 691.4 492.7 679.9 485.9 704.8z"/><path fill="#e70000" d="M607.7 642.5 614.5 638.4 609.2 635.2 602.4 638.9z"/><path fill="#a70000" d="M552.8 631.0 559.6 619.2 554.4 612.8 547.6 623.4z"/><path fill="#ff5800" d="M522.0 666.6 528.8 645.8 523.5 636.5 516.8 655.4z"/><path fill="#78ff87" d="M319.8 733.1 326.6 731.4 321.4 728.9 314.6 730.7z"/><path fill="#c70000" d="M662.5 637.9 669.3 636.3 664.1 635.4 657.3 635.2z"/><path fill="#48ffb7" d="M374.7 741.4 381.5 739.8 376.2 733.8 369.4 735.5z"/><path fill="#78ff87" d="M277.0 733.1 283.8 731.3 278.5 728.9 271.7 730.8z"/><path fill="#00f7ff" d="M429.5 759.2 436.3 751.7 431.1 744.1 424.3 750.2z"/><path fill="#d70000" d="M619.7 641.7 626.5 638.0 621.2 635.0 614.5 638.4z"/><path fill="#a70000" d="M564.8 628.8 571.6 623.1 566.4 610.9 559.6 619.2z"/><path fill="#78ff87" d="M234.1 733.3 240.9 731.5 235.7 729.1 228.9 730.9z"/><path fill="#48ffb7" d="M472.4 742.8 479.2 726.7 473.9 717.8 467.1 735.4z"/><path fill="#78ff87" d="M331.8 734.1 338.6 732.4 333.4 729.6 326.6 731.4z"/><path fill="#fff700" d="M503.2 703.7 510.0 678.5 504.7 666.7 498.0 691.4z"/><path fill="#38ffc7" d="M386.7 747.5 393.5 745.2 388.2 737.8 381.5 739.8z"/><path fill="#c70000" d="M674.6 638.1 681.3 638.8 676.1 639.1 669.3 636.3z"/><path fill="#e70000" d="M576.9 643.6 583.6 640.9 578.4 622.9 571.6 623.1z"/><path fill="#ff2800" d="M534.0 656.0 540.8 637.6 535.6 629.3 528.8 645.8z"/><path fill="#78ff87" d="M289.0 733.7 295.8 731.9 290.5 729.5 283.8 731.3z"/><path fill="#00f7ff" d="M441.6 760.0 448.3 751.0 443.1 744.0 436.3 751.7z"/><path fill="#d70000" d="M631.7 641.1 638.5 637.9 633.3 635.0 626.5 638.0z"/><path fill="#78ff87" d="M246.2 733.8 252.9 732.0 247.7 729.6 240.9 731.5z"/><path fill="#f70000" d="M588.9 649.0 595.7 643.4 590.4 638.0 583.6 640.9z"/><path fill="#68ff97" d="M343.9 735.6 350.6 734.1 345.4 730.7 338.6 732.4z"/><path fill="#08fff7" d="M398.7 754.5 405.5 751.1 400.3 742.4 393.5 745.2z"/><path fill="#c70000" d="M686.6 639.5 693.4 642.7 688.1 644.0 681.3 638.8z"/><path fill="#68ff97" d="M484.4 735.7 491.2 715.9 485.9 704.8 479.2 726.7z"/><path fill="#78ff87" d="M301.0 734.3 307.8 732.5 302.6 730.1 295.8 731.9z"/><path fill="#00f7ff" d="M453.6 758.5 460.4 748.0 455.1 741.3 448.3 751.0z"/><path fill="#ffc700" d="M515.2 691.0 522.0 666.6 516.8 655.4 510.0 678.5z"/><path fill="#f70000" d="M546.0 646.9 552.8 631.0 547.6 623.4 540.8 637.6z"/><path fill="#d70000" d="M643.7 640.8 650.5 637.8 645.3 635.1 638.5 637.9z"/><path fill="#78ff87" d="M258.2 734.4 265.0 732.6 259.7 730.2 252.9 732.0z"/><path fill="#00f7ff" d="M410.7 761.3 417.5 756.1 412.3 746.9 405.5 751.1z"/><path fill="#68ff97" d="M355.9 738.2 362.7 736.9 357.4 732.5 350.6 734.1z"/><path fill="#f70000" d="M600.9 647.6 607.7 642.5 602.4 638.9 595.7 643.4z"/><path fill="#d70000" d="M698.6 642.2 705.4 647.8 700.1 649.9 693.4 642.7z"/><path fill="#78ff87" d="M313.0 734.9 319.8 733.1 314.6 730.7 307.8 732.5z"/><path fill="#00d7ff" d="M422.8 766.5 429.5 759.2 424.3 750.2 417.5 756.1z"/><path fill="#97ff68" d="M496.4 726.7 503.2 703.7 498.0 691.4 491.2 715.9z"/><path fill="#d70000" d="M655.8 640.7 662.5 637.9 657.3 635.2 650.5 637.8z"/><path fill="#18ffe7" d="M465.6 755.0 472.4 742.8 467.1 735.4 460.4 748.0z"/><path fill="#58ffa7" d="M367.9 742.6 374.7 741.4 369.4 735.5 362.7 736.9z"/><path fill="#78ff87" d="M270.2 735.0 277.0 733.1 271.7 730.8 265.0 732.6z"/><path fill="#d70000" d="M558.1 640.3 564.8 628.8 559.6 619.2 552.8 631.0z"/><path fill="#e70000" d="M710.6 646.4 717.4 653.9 712.2 656.7 705.4 647.8z"/><path fill="#e70000" d="M612.9 646.2 619.7 641.7 614.5 638.4 607.7 642.5z"/><path fill="#ff8700" d="M527.2 678.7 534.0 656.0 528.8 645.8 522.0 666.6z"/><path fill="#78ff87" d="M227.4 735.1 234.1 733.3 228.9 730.9 222.1 732.7z"/><path fill="#78ff87" d="M325.1 735.7 331.8 734.1 326.6 731.4 319.8 733.1z"/><path fill="#38ffc7" d="M379.9 749.1 386.7 747.5 381.5 739.8 374.7 741.4z"/><path fill="#00c7ff" d="M434.8 769.0 441.6 760.0 436.3 751.7 429.5 759.2z"/><path fill="#e70000" d="M570.1 647.2 576.9 643.6 571.6 623.1 564.8 628.8z"/><path fill="#c70000" d="M667.8 640.7 674.6 638.1 669.3 636.3 662.5 637.9z"/><path fill="#78ff87" d="M282.2 735.5 289.0 733.7 283.8 731.3 277.0 733.1z"/><path fill="#28ffd7" d="M477.6 750.1 484.4 735.7 479.2 726.7 472.4 742.8z"/><path fill="#e70000" d="M624.9 645.1 631.7 641.1 626.5 638.0 619.7 641.7z"/><path fill="#d7ff28" d="M508.4 715.8 515.2 691.0 510.0 678.5 503.2 703.7z"/><path fill="#78ff87" d="M239.4 735.7 246.2 733.8 240.9 731.5 234.1 733.3z"/><path fill="#ff1800" d="M582.1 656.0 588.9 649.0 583.6 640.9 576.9 643.6z"/><path fill="#08fff7" d="M391.9 757.1 398.7 754.5 393.5 745.2 386.7 747.5z"/><path fill="#68ff97" d="M337.1 737.1 343.9 735.6 338.6 732.4 331.8 734.1z"/><path fill="#ff4800" d="M539.3 667.2 546.0 646.9 540.8 637.6 534.0 656.0z"/><path fill="#00d7ff" d="M446.8 768.8 453.6 758.5 448.3 751.0 441.6 760.0z"/><path fill="#c70000" d="M679.8 640.8 686.6 639.5 681.3 638.8 674.6 638.1z"/><path fill="#78ff87" d="M294.2 736.1 301.0 734.3 295.8 731.9 289.0 733.7z"/><path fill="#d70000" d="M637.0 644.4 643.7 640.8 638.5 637.9 631.7 641.1z"/><path fill="#00e7ff" d="M404.0 765.6 410.7 761.3 405.5 751.1 398.7 754.5z"/><path fill="#ff0800" d="M594.1 654.2 600.9 647.6 595.7 643.4 588.9 649.0z"/><path fill="#78ff87" d="M251.4 736.2 258.2 734.4 252.9 732.0 246.2 733.8z"/><path fill="#68ff97" d="M349.1 739.5 355.9 738.2 350.6 734.1 343.9 735.6z"/><path fill="#58ffa7" d="M489.6 743.9 496.4 726.7 491.2 715.9 484.4 735.7z"/><path fill="#fff700" d="M520.5 703.8 527.2 678.7 522.0 666.6 515.2 691.0z"/><path fill="#c70000" d="M691.8 641.1 698.6 642.2 693.4 642.7 686.6 639.5z"/><path fill="#ff1800" d="M551.3 657.4 558.1 640.3 552.8 631.0 546.0 646.9z"/><path fill="#00e7ff" d="M458.8 766.2 465.6 755.0 460.4 748.0 453.6 758.5z"/><path fill="#78ff87" d="M306.3 736.7 313.0 734.9 307.8 732.5 301.0 734.3z"/><path fill="#00c7ff" d="M416.0 772.9 422.8 766.5 417.5 756.1 410.7 761.3z"/><path fill="#d70000" d="M649.0 643.9 655.8 640.7 650.5 637.8 643.7 640.8z"/><path fill="#58ffa7" d="M361.1 743.6 367.9 742.6 362.7 736.9 355.9 738.2z"/><path fill="#78ff87" d="M263.4 736.8 270.2 735.0 265.0 732.6 258.2 734.4z"/><path fill="#f70000" d="M606.1 652.0 612.9 646.2 607.7 642.5 600.9 647.6z"/><path fill="#c70000" d="M703.8 642.7 710.6 646.4 705.4 647.8 698.6 642.2z"/><path fill="#78ff87" d="M220.6 736.9 227.4 735.1 222.1 732.7 215.3 734.5z"/><path fill="#78ff87" d="M501.7 736.4 508.4 715.8 503.2 703.7 496.4 726.7z"/><path fill="#00a7ff" d="M428.0 777.7 434.8 769.0 429.5 759.2 422.8 766.5z"/><path fill="#78ff87" d="M318.3 737.5 325.1 735.7 319.8 733.1 313.0 734.9z"/><path fill="#ff0800" d="M563.3 655.3 570.1 647.2 564.8 628.8 558.1 640.3z"/><path fill="#00f7ff" d="M470.8 762.0 477.6 750.1 472.4 742.8 465.6 755.0z"/><path fill="#38ffc7" d="M373.1 750.1 379.9 749.1 374.7 741.4 367.9 742.6z"/><path fill="#ffb700" d="M532.5 691.3 539.3 667.2 534.0 656.0 527.2 678.7z"/><path fill="#d70000" d="M661.0 643.6 667.8 640.7 662.5 637.9 655.8 640.7z"/><path fill="#78ff87" d="M275.4 737.3 282.2 735.5 277.0 733.1 270.2 735.0z"/><path fill="#f70000" d="M618.2 650.2 624.9 645.1 619.7 641.7 612.9 646.2z"/><path fill="#d70000" d="M715.9 645.7 722.6 651.7 717.4 653.9 710.6 646.4z"/><path fill="#ff3800" d="M575.3 664.6 582.1 656.0 576.9 643.6 570.1 647.2z"/><path fill="#78ff87" d="M232.6 737.5 239.4 735.7 234.1 733.3 227.4 735.1z"/><path fill="#08fff7" d="M385.2 758.8 391.9 757.1 386.7 747.5 379.9 749.1z"/><path fill="#00a7ff" d="M440.0 779.2 446.8 768.8 441.6 760.0 434.8 769.0z"/><path fill="#78ff87" d="M330.3 738.6 337.1 737.1 331.8 734.1 325.1 735.7z"/><path fill="#d70000" d="M673.0 643.5 679.8 640.8 674.6 638.1 667.8 640.7z"/><path fill="#a7ff58" d="M513.7 727.1 520.5 703.8 515.2 691.0 508.4 715.8z"/><path fill="#18ffe7" d="M482.9 757.0 489.6 743.9 484.4 735.7 477.6 750.1z"/><path fill="#78ff87" d="M287.5 737.9 294.2 736.1 289.0 733.7 282.2 735.5z"/><path fill="#e70000" d="M630.2 648.8 637.0 644.4 631.7 641.1 624.9 645.1z"/><path fill="#ff2800" d="M587.3 662.9 594.1 654.2 588.9 649.0 582.1 656.0z"/><path fill="#00d7ff" d="M397.2 768.8 404.0 765.6 398.7 754.5 391.9 757.1z"/><path fill="#ff7800" d="M544.5 679.2 551.3 657.4 546.0 646.9 539.3 667.2z"/><path fill="#78ff87" d="M244.6 738.0 251.4 736.2 246.2 733.8 239.4 735.7z"/><path fill="#68ff97" d="M342.3 740.7 349.1 739.5 343.9 735.6 337.1 737.1z"/><path fill="#00b7ff" d="M452.0 777.7 458.8 766.2 453.6 758.5 446.8 768.8z"/><path fill="#c70000" d="M685.0 643.5 691.8 641.1 686.6 639.5 679.8 640.8z"/><path fill="#00a7ff" d="M409.2 778.2 416.0 772.9 410.7 761.3 404.0 765.6z"/><path fill="#78ff87" d="M299.5 738.5 306.3 736.7 301.0 734.3 294.2 736.1z"/><path fill="#e70000" d="M642.2 647.8 649.0 643.9 643.7 640.8 637.0 644.4z"/><path fill="#38ffc7" d="M494.9 751.4 501.7 736.4 496.4 726.7 489.6 743.9z"/><path fill="#ff1800" d="M599.4 659.5 606.1 652.0 600.9 647.6 594.1 654.2z"/><path fill="#78ff87" d="M256.6 738.6 263.4 736.8 258.2 734.4 251.4 736.2z"/><path fill="#58ffa7" d="M354.3 744.5 361.1 743.6 355.9 738.2 349.1 739.5z"/><path fill="#d7ff28" d="M525.7 716.1 532.5 691.3 527.2 678.7 520.5 703.8z"/><path fill="#ff4800" d="M556.5 670.6 563.3 655.3 558.1 640.3 551.3 657.4z"/><path fill="#0087ff" d="M421.2 785.5 428.0 777.7 422.8 766.5 416.0 772.9z"/><path fill="#00c7ff" d="M464.1 774.0 470.8 762.0 465.6 755.0 458.8 766.2z"/><path fill="#78ff87" d="M213.8 738.7 220.6 736.9 215.3 734.5 208.6 736.4z"/><path fill="#c70000" d="M697.1 643.7 703.8 642.7 698.6 642.2 691.8 641.1z"/><path fill="#78ff87" d="M311.5 739.2 318.3 737.5 313.0 734.9 306.3 736.7z"/><path fill="#38ffc7" d="M366.4 750.8 373.1 750.1 367.9 742.6 361.1 743.6z"/><path fill="#d70000" d="M654.2 647.1 661.0 643.6 655.8 640.7 649.0 643.9z"/><path fill="#ff0800" d="M611.4 656.7 618.2 650.2 612.9 646.2 606.1 652.0z"/><path fill="#78ff87" d="M268.7 739.2 275.4 737.3 270.2 735.0 263.4 736.8z"/><path fill="#ff5800" d="M568.5 675.3 575.3 664.6 570.1 647.2 563.3 655.3z"/><path fill="#58ffa7" d="M506.9 745.0 513.7 727.1 508.4 715.8 501.7 736.4z"/><path fill="#0078ff" d="M433.2 789.3 440.0 779.2 434.8 769.0 428.0 777.7z"/><path fill="#78ff87" d="M225.8 739.3 232.6 737.5 227.4 735.1 220.6 736.9z"/><path fill="#c70000" d="M709.1 644.2 715.9 645.7 710.6 646.4 703.8 642.7z"/><path fill="#ffe700" d="M537.7 704.0 544.5 679.2 539.3 667.2 532.5 691.3z"/><path fill="#18ffe7" d="M378.4 759.7 385.2 758.8 379.9 749.1 373.1 750.1z"/><path fill="#78ff87" d="M323.5 740.2 330.3 738.6 325.1 735.7 318.3 737.5z"/><path fill="#00e7ff" d="M476.1 769.0 482.9 757.0 477.6 750.1 470.8 762.0z"/><path fill="#d70000" d="M666.2 646.7 673.0 643.5 667.8 640.7 661.0 643.6z"/><path fill="#ff5800" d="M580.6 674.1 587.3 662.9 582.1 656.0 575.3 664.6z"/><path fill="#78ff87" d="M280.7 739.7 287.5 737.9 282.2 735.5 275.4 737.3z"/><path fill="#f70000" d="M623.4 654.5 630.2 648.8 624.9 645.1 618.2 650.2z"/><path fill="#00d7ff" d="M390.4 770.7 397.2 768.8 391.9 757.1 385.2 758.8z"/><path fill="#0078ff" d="M445.3 789.4 452.0 777.7 446.8 768.8 440.0 779.2z"/><path fill="#d70000" d="M721.1 646.1 727.9 650.2 722.6 651.7 715.9 645.7z"/><path fill="#78ff87" d="M237.8 739.9 244.6 738.0 239.4 735.7 232.6 737.5z"/><path fill="#68ff97" d="M335.5 742.0 342.3 740.7 337.1 737.1 330.3 738.6z"/><path fill="#87ff78" d="M518.9 737.1 525.7 716.1 520.5 703.8 513.7 727.1z"/><path fill="#08fff7" d="M488.1 763.6 494.9 751.4 489.6 743.9 482.9 757.0z"/><path fill="#00a7ff" d="M402.4 782.1 409.2 778.2 404.0 765.6 397.2 768.8z"/><path fill="#d70000" d="M678.3 646.5 685.0 643.5 679.8 640.8 673.0 643.5z"/><path fill="#ffa700" d="M549.7 692.3 556.5 670.6 551.3 657.4 544.5 679.2z"/><path fill="#78ff87" d="M292.7 740.3 299.5 738.5 294.2 736.1 287.5 737.9z"/><path fill="#ff3800" d="M592.6 669.3 599.4 659.5 594.1 654.2 587.3 662.9z"/><path fill="#f70000" d="M635.4 652.7 642.2 647.8 637.0 644.4 630.2 648.8z"/><path fill="#0097ff" d="M457.3 786.5 464.1 774.0 458.8 766.2 452.0 777.7z"/><path fill="#78ff87" d="M249.9 740.4 256.6 738.6 251.4 736.2 244.6 738.0z"/><path fill="#58ffa7" d="M347.6 745.4 354.3 744.5 349.1 739.5 342.3 740.7z"/><path fill="#0078ff" d="M414.4 791.9 421.2 785.5 416.0 772.9 409.2 778.2z"/><path fill="#78ff87" d="M207.0 740.6 213.8 738.7 208.6 736.4 201.8 738.2z"/><path fill="#c70000" d="M690.3 646.4 697.1 643.7 691.8 641.1 685.0 643.5z"/><path fill="#78ff87" d="M304.7 741.0 311.5 739.2 306.3 736.7 299.5 738.5z"/><path fill="#ff9700" d="M561.8 689.3 568.5 675.3 563.3 655.3 556.5 670.6z"/><path fill="#28ffd7" d="M500.1 758.2 506.9 745.0 501.7 736.4 494.9 751.4z"/><path fill="#b7ff48" d="M530.9 727.5 537.7 704.0 532.5 691.3 525.7 716.1z"/><path fill="#e70000" d="M647.4 651.5 654.2 647.1 649.0 643.9 642.2 647.8z"/><path fill="#ff2800" d="M604.6 665.1 611.4 656.7 606.1 652.0 599.4 659.5z"/><path fill="#48ffb7" d="M359.6 751.2 366.4 750.8 361.1 743.6 354.3 744.5z"/><path fill="#0058ff" d="M426.5 798.4 433.2 789.3 428.0 777.7 421.2 785.5z"/><path fill="#78ff87" d="M261.9 741.0 268.7 739.2 263.4 736.8 256.6 738.6z"/><path fill="#00a7ff" d="M469.3 781.6 476.1 769.0 470.8 762.0 464.1 774.0z"/><path fill="#78ff87" d="M219.0 741.1 225.8 739.3 220.6 736.9 213.8 738.7z"/><path fill="#c70000" d="M702.3 646.4 709.1 644.2 703.8 642.7 697.1 643.7z"/><path fill="#ff9700" d="M573.8 688.2 580.6 674.1 575.3 664.6 568.5 675.3z"/><path fill="#78ff87" d="M316.7 741.9 323.5 740.2 318.3 737.5 311.5 739.2z"/><path fill="#18ffe7" d="M371.6 759.9 378.4 759.7 373.1 750.1 366.4 750.8z"/><path fill="#e70000" d="M659.5 650.5 666.2 646.7 661.0 643.6 654.2 647.1z"/><path fill="#ff1800" d="M616.6 661.8 623.4 654.5 618.2 650.2 611.4 656.7z"/><path fill="#0048ff" d="M438.5 800.7 445.3 789.4 440.0 779.2 433.2 789.3z"/><path fill="#48ffb7" d="M512.1 752.4 518.9 737.1 513.7 727.1 506.9 745.0z"/><path fill="#78ff87" d="M273.9 741.5 280.7 739.7 275.4 737.3 268.7 739.2z"/><path fill="#e7ff18" d="M543.0 716.4 549.7 692.3 544.5 679.2 537.7 704.0z"/><path fill="#00e7ff" d="M383.6 771.5 390.4 770.7 385.2 758.8 378.4 759.7z"/><path fill="#78ff87" d="M231.1 741.7 237.8 739.9 232.6 737.5 225.8 739.3z"/><path fill="#00c7ff" d="M481.3 775.9 488.1 763.6 482.9 757.0 476.1 769.0z"/><path fill="#c70000" d="M714.3 646.7 721.1 646.1 715.9 645.7 709.1 644.2z"/><path fill="#68ff97" d="M328.8 743.4 335.5 742.0 330.3 738.6 323.5 740.2z"/><path fill="#ff7800" d="M585.8 682.0 592.6 669.3 587.3 662.9 580.6 674.1z"/><path fill="#00a7ff" d="M395.6 784.4 402.4 782.1 397.2 768.8 390.4 770.7z"/><path fill="#d70000" d="M671.5 649.9 678.3 646.5 673.0 643.5 666.2 646.7z"/><path fill="#78ff87" d="M285.9 742.1 292.7 740.3 287.5 737.9 280.7 739.7z"/><path fill="#ff0800" d="M628.6 659.1 635.4 652.7 630.2 648.8 623.4 654.5z"/><path fill="#0058ff" d="M450.5 799.3 457.3 786.5 452.0 777.7 445.3 789.4z"/><path fill="#68ff97" d="M524.2 745.7 530.9 727.5 525.7 716.1 518.9 737.1z"/><path fill="#78ff87" d="M243.1 742.2 249.9 740.4 244.6 738.0 237.8 739.9z"/><path fill="#c70000" d="M726.3 647.5 733.1 649.5 727.9 650.2 721.1 646.1z"/><path fill="#0068ff" d="M407.7 796.6 414.4 791.9 409.2 778.2 402.4 782.1z"/><path fill="#ffe700" d="M555.0 707.7 561.8 689.3 556.5 670.6 549.7 692.3z"/><path fill="#68ff97" d="M340.8 746.3 347.6 745.4 342.3 740.7 335.5 742.0z"/><path fill="#00e7ff" d="M493.3 770.2 500.1 758.2 494.9 751.4 488.1 763.6z"/><path fill="#78ff87" d="M200.2 742.4 207.0 740.6 201.8 738.2 195.0 740.0z"/><path fill="#d70000" d="M683.5 649.5 690.3 646.4 685.0 643.5 678.3 646.5z"/><path fill="#ff5800" d="M597.8 676.2 604.6 665.1 599.4 659.5 592.6 669.3z"/><path fill="#78ff87" d="M297.9 742.7 304.7 741.0 299.5 738.5 292.7 740.3z"/><path fill="#f70000" d="M640.7 657.0 647.4 651.5 642.2 647.8 635.4 652.7z"/><path fill="#0038ff" d="M419.7 805.9 426.5 798.4 421.2 785.5 414.4 791.9z"/><path fill="#0078ff" d="M462.5 795.0 469.3 781.6 464.1 774.0 457.3 786.5z"/><path fill="#48ffb7" d="M352.8 751.5 359.6 751.2 354.3 744.5 347.6 745.4z"/><path fill="#78ff87" d="M255.1 742.8 261.9 741.0 256.6 738.6 249.9 740.4z"/><path fill="#ffd700" d="M567.0 704.9 573.8 688.2 568.5 675.3 561.8 689.3z"/><path fill="#97ff68" d="M536.2 737.4 543.0 716.4 537.7 704.0 530.9 727.5z"/><path fill="#78ff87" d="M212.3 742.9 219.0 741.1 213.8 738.7 207.0 740.6z"/><path fill="#08fff7" d="M505.4 764.7 512.1 752.4 506.9 745.0 500.1 758.2z"/><path fill="#d70000" d="M695.5 649.3 702.3 646.4 697.1 643.7 690.3 646.4z"/><path fill="#78ff87" d="M310.0 743.5 316.7 741.9 311.5 739.2 304.7 741.0z"/><path fill="#0028ff" d="M431.7 811.0 438.5 800.7 433.2 789.3 426.5 798.4z"/><path fill="#28ffd7" d="M364.8 759.8 371.6 759.9 366.4 750.8 359.6 751.2z"/><path fill="#ff3800" d="M609.8 671.3 616.6 661.8 611.4 656.7 604.6 665.1z"/><path fill="#e70000" d="M652.7 655.3 659.5 650.5 654.2 647.1 647.4 651.5z"/><path fill="#78ff87" d="M267.1 743.4 273.9 741.5 268.7 739.2 261.9 741.0z"/><path fill="#0097ff" d="M474.5 789.1 481.3 775.9 476.1 769.0 469.3 781.6z"/><path fill="#ffb700" d="M579.0 697.6 585.8 682.0 580.6 674.1 573.8 688.2z"/><path fill="#00e7ff" d="M376.8 771.4 383.6 771.5 378.4 759.7 371.6 759.9z"/><path fill="#78ff87" d="M224.3 743.5 231.1 741.7 225.8 739.3 219.0 741.1z"/><path fill="#c70000" d="M707.5 649.3 714.3 646.7 709.1 644.2 702.3 646.4z"/><path fill="#78ff87" d="M322.0 744.8 328.8 743.4 323.5 740.2 316.7 741.9z"/><path fill="#0028ff" d="M443.7 811.6 450.5 799.3 445.3 789.4 438.5 800.7z"/><path fill="#b7ff48" d="M548.2 728.3 555.0 707.7 549.7 692.3 543.0 716.4z"/><path fill="#28ffd7" d="M517.4 759.0 524.2 745.7 518.9 737.1 512.1 752.4z"/><path fill="#e70000" d="M664.7 654.1 671.5 649.9 666.2 646.7 659.5 650.5z"/><path fill="#ff2800" d="M621.9 667.3 628.6 659.1 623.4 654.5 616.6 661.8z"/><path fill="#00a7ff" d="M388.9 785.2 395.6 784.4 390.4 770.7 383.6 771.5z"/><path fill="#78ff87" d="M279.1 743.9 285.9 742.1 280.7 739.7 273.9 741.5z"/><path fill="#00b7ff" d="M486.6 782.9 493.3 770.2 488.1 763.6 481.3 775.9z"/><path fill="#0068ff" d="M400.9 799.4 407.7 796.6 402.4 782.1 395.6 784.4z"/><path fill="#78ff87" d="M236.3 744.1 243.1 742.2 237.8 739.9 231.1 741.7z"/><path fill="#68ff97" d="M334.0 747.3 340.8 746.3 335.5 742.0 328.8 743.4z"/><path fill="#c70000" d="M719.6 649.5 726.3 647.5 721.1 646.1 714.3 646.7z"/><path fill="#ff8700" d="M591.0 690.2 597.8 676.2 592.6 669.3 585.8 682.0z"/><path fill="#0038ff" d="M455.7 808.6 462.5 795.0 457.3 786.5 450.5 799.3z"/><path fill="#d70000" d="M676.7 653.3 683.5 649.5 678.3 646.5 671.5 649.9z"/><path fill="#ff1800" d="M633.9 664.1 640.7 657.0 635.4 652.7 628.6 659.1z"/><path fill="#d7ff28" d="M560.2 722.9 567.0 704.9 561.8 689.3 555.0 707.7z"/><path fill="#78ff87" d="M291.2 744.5 297.9 742.7 292.7 740.3 285.9 742.1z"/><path fill="#0028ff" d="M412.9 811.5 419.7 805.9 414.4 791.9 407.7 796.6z"/><path fill="#48ffb7" d="M529.4 752.8 536.2 737.4 530.9 727.5 524.2 745.7z"/><path fill="#58ffa7" d="M346.0 751.8 352.8 751.5 347.6 745.4 340.8 746.3z"/><path fill="#78ff87" d="M248.3 744.6 255.1 742.8 249.9 740.4 243.1 742.2z"/><path fill="#c70000" d="M731.6 650.1 738.4 650.0 733.1 649.5 726.3 647.5z"/><path fill="#00d7ff" d="M498.6 776.8 505.4 764.7 500.1 758.2 493.3 770.2z"/><path fill="#0008ff" d="M424.9 819.5 431.7 811.0 426.5 798.4 419.7 805.9z"/><path fill="#ff6800" d="M603.1 683.6 609.8 671.3 604.6 665.1 597.8 676.2z"/><path fill="#78ff87" d="M205.5 744.8 212.3 742.9 207.0 740.6 200.2 742.4z"/><path fill="#d70000" d="M688.7 652.7 695.5 649.3 690.3 646.4 683.5 649.5z"/><path fill="#0058ff" d="M467.8 803.1 474.5 789.1 469.3 781.6 462.5 795.0z"/><path fill="#78ff87" d="M303.2 745.3 310.0 743.5 304.7 741.0 297.9 742.7z"/><path fill="#ff0800" d="M645.9 661.5 652.7 655.3 647.4 651.5 640.7 657.0z"/><path fill="#28ffd7" d="M358.0 759.4 364.8 759.8 359.6 751.2 352.8 751.5z"/><path fill="#fff700" d="M572.2 715.5 579.0 697.6 573.8 688.2 567.0 704.9z"/><path fill="#78ff87" d="M260.3 745.2 267.1 743.4 261.9 741.0 255.1 742.8z"/><path fill="#78ff87" d="M541.4 745.7 548.2 728.3 543.0 716.4 536.2 737.4z"/><path fill="#0000f7" d="M436.9 822.8 443.7 811.6 438.5 800.7 431.7 811.0z"/><path fill="#00f7ff" d="M510.6 770.8 517.4 759.0 512.1 752.4 505.4 764.7z"/><path fill="#00f7ff" d="M370.1 770.6 376.8 771.4 371.6 759.9 364.8 759.8z"/><path fill="#78ff87" d="M217.5 745.3 224.3 743.5 219.0 741.1 212.3 742.9z"/><path fill="#d70000" d="M700.8 652.4 707.5 649.3 702.3 646.4 695.5 649.3z"/><path fill="#ff4800" d="M615.1 678.0 621.9 667.3 616.6 661.8 609.8 671.3z"/><path fill="#78ff87" d="M315.2 746.4 322.0 744.8 316.7 741.9 310.0 743.5z"/><path fill="#f70000" d="M657.9 659.5 664.7 654.1 659.5 650.5 652.7 655.3z"/><path fill="#0078ff" d="M479.8 796.5 486.6 782.9 481.3 775.9 474.5 789.1z"/><path fill="#00b7ff" d="M382.1 784.8 388.9 785.2 383.6 771.5 376.8 771.4z"/><path fill="#78ff87" d="M272.4 745.7 279.1 743.9 273.9 741.5 267.1 743.4z"/><path fill="#ffd700" d="M584.3 706.9 591.0 690.2 585.8 682.0 579.0 697.6z"/><path fill="#97ff68" d="M553.4 739.5 560.2 722.9 555.0 707.7 548.2 728.3z"/><path fill="#0000f7" d="M449.0 821.6 455.7 808.6 450.5 799.3 443.7 811.6z"/><path fill="#0068ff" d="M394.1 800.4 400.9 799.4 395.6 784.4 388.9 785.2z"/><path fill="#78ff87" d="M229.5 745.9 236.3 744.1 231.1 741.7 224.3 743.5z"/><path fill="#d70000" d="M712.8 652.4 719.6 649.5 714.3 646.7 707.5 649.3z"/><path fill="#68ff97" d="M327.2 748.4 334.0 747.3 328.8 743.4 322.0 744.8z"/><path fill="#18ffe7" d="M522.6 764.8 529.4 752.8 524.2 745.7 517.4 759.0z"/><path fill="#ff3800" d="M627.1 673.3 633.9 664.1 628.6 659.1 621.9 667.3z"/><path fill="#e70000" d="M669.9 657.9 676.7 653.3 671.5 649.9 664.7 654.1z"/><path fill="#0018ff" d="M406.1 814.9 412.9 811.5 407.7 796.6 400.9 799.4z"/><path fill="#78ff87" d="M284.4 746.3 291.2 744.5 285.9 742.1 279.1 743.9z"/><path fill="#0097ff" d="M491.8 789.9 498.6 776.8 493.3 770.2 486.6 782.9z"/><path fill="#ffa700" d="M596.3 698.8 603.1 683.6 597.8 676.2 591.0 690.2z"/><path fill="#78ff87" d="M241.5 746.4 248.3 744.6 243.1 742.2 236.3 744.1z"/><path fill="#58ffa7" d="M339.2 752.3 346.0 751.8 340.8 746.3 334.0 747.3z"/><path fill="#d70000" d="M724.8 652.7 731.6 650.1 726.3 647.5 719.6 649.5z"/><path fill="#0018ff" d="M461.0 817.2 467.8 803.1 462.5 795.0 455.7 808.6z"/><path fill="#b7ff48" d="M565.5 733.1 572.2 715.5 567.0 704.9 560.2 722.9z"/><path fill="#0000e7" d="M418.1 825.9 424.9 819.5 419.7 805.9 412.9 811.5z"/><path fill="#e70000" d="M682.0 656.8 688.7 652.7 683.5 649.5 676.7 653.3z"/><path fill="#ff2800" d="M639.1 669.5 645.9 661.5 640.7 657.0 633.9 664.1z"/><path fill="#38ffc7" d="M534.6 758.6 541.4 745.7 536.2 737.4 529.4 752.8z"/><path fill="#78ff87" d="M296.4 747.0 303.2 745.3 297.9 742.7 291.2 744.5z"/><path fill="#38ffc7" d="M351.3 759.0 358.0 759.4 352.8 751.5 346.0 751.8z"/><path fill="#00c7ff" d="M503.8 783.3 510.6 770.8 505.4 764.7 498.6 776.8z"/><path fill="#0000c7" d="M430.2 832.2 436.9 822.8 431.7 811.0 424.9 819.5z"/><path fill="#78ff87" d="M253.6 747.0 260.3 745.2 255.1 742.8 248.3 744.6z"/><path fill="#d70000" d="M736.8 653.8 743.6 652.0 738.4 650.0 731.6 650.1z"/><path fill="#ff8700" d="M608.3 691.6 615.1 678.0 609.8 671.3 603.1 683.6z"/><path fill="#0038ff" d="M473.0 810.8 479.8 796.5 474.5 789.1 467.8 803.1z"/><path fill="#78ff87" d="M210.7 747.1 217.5 745.3 212.3 742.9 205.5 744.8z"/><path fill="#d70000" d="M694.0 656.1 700.8 652.4 695.5 649.3 688.7 652.7z"/><path fill="#d7ff28" d="M577.5 724.8 584.3 706.9 579.0 697.6 572.2 715.5z"/><path fill="#08fff7" d="M363.3 769.5 370.1 770.6 364.8 759.8 358.0 759.4z"/><path fill="#ff0800" d="M651.1 666.4 657.9 659.5 652.7 655.3 645.9 661.5z"/><path fill="#78ff87" d="M308.4 748.0 315.2 746.4 310.0 743.5 303.2 745.3z"/><path fill="#58ffa7" d="M546.7 752.6 553.4 739.5 548.2 728.3 541.4 745.7z"/><path fill="#0000c7" d="M442.2 833.4 449.0 821.6 443.7 811.6 436.9 822.8z"/><path fill="#78ff87" d="M265.6 747.6 272.4 745.7 267.1 743.4 260.3 745.2z"/><path fill="#00c7ff" d="M375.3 783.6 382.1 784.8 376.8 771.4 370.1 770.6z"/><path fill="#00e7ff" d="M515.8 776.6 522.6 764.8 517.4 759.0 510.6 770.8z"/><path fill="#ff6800" d="M620.3 685.3 627.1 673.3 621.9 667.3 615.1 678.0z"/><path fill="#78ff87" d="M222.7 747.7 229.5 745.9 224.3 743.5 217.5 745.3z"/><path fill="#0078ff" d="M387.3 799.9 394.1 800.4 388.9 785.2 382.1 784.8z"/><path fill="#d70000" d="M706.0 655.7 712.8 652.4 707.5 649.3 700.8 652.4z"/><path fill="#68ff97" d="M320.4 749.7 327.2 748.4 322.0 744.8 315.2 746.4z"/><path fill="#ff0800" d="M663.2 664.0 669.9 657.9 664.7 654.1 657.9 659.5z"/><path fill="#0058ff" d="M485.0 803.9 491.8 789.9 486.6 782.9 479.8 796.5z"/><path fill="#fff700" d="M589.5 716.2 596.3 698.8 591.0 690.2 584.3 706.9z"/><path fill="#0028ff" d="M399.3 816.3 406.1 814.9 400.9 799.4 394.1 800.4z"/><path fill="#78ff87" d="M558.7 747.3 565.5 733.1 560.2 722.9 553.4 739.5z"/><path fill="#78ff87" d="M277.6 748.1 284.4 746.3 279.1 743.9 272.4 745.7z"/><path fill="#0000d7" d="M454.2 830.6 461.0 817.2 455.7 808.6 449.0 821.6z"/><path fill="#78ff87" d="M234.8 748.3 241.5 746.4 236.3 744.1 229.5 745.9z"/><path fill="#08fff7" d="M527.9 769.9 534.6 758.6 529.4 752.8 522.6 764.8z"/><path fill="#0000d7" d="M411.4 830.0 418.1 825.9 412.9 811.5 406.1 814.9z"/><path fill="#58ffa7" d="M332.5 752.9 339.2 752.3 334.0 747.3 327.2 748.4z"/><path fill="#d70000" d="M718.0 655.8 724.8 652.7 719.6 649.5 712.8 652.4z"/><path fill="#ff4800" d="M632.3 679.9 639.1 669.5 633.9 664.1 627.1 673.3z"/><path fill="#f70000" d="M675.2 662.1 682.0 656.8 676.7 653.3 669.9 657.9z"/><path fill="#0087ff" d="M497.0 796.8 503.8 783.3 498.6 776.8 491.8 789.9z"/><path fill="#78ff87" d="M289.6 748.8 296.4 747.0 291.2 744.5 284.4 746.3z"/><path fill="#ffc700" d="M601.5 707.9 608.3 691.6 603.1 683.6 596.3 698.8z"/><path fill="#0000b7" d="M423.4 839.3 430.2 832.2 424.9 819.5 418.1 825.9z"/><path fill="#48ffb7" d="M344.5 758.8 351.3 759.0 346.0 751.8 339.2 752.3z"/><path fill="#97ff68" d="M570.7 740.8 577.5 724.8 572.2 715.5 565.5 733.1z"/><path fill="#0000f7" d="M466.2 825.1 473.0 810.8 467.8 803.1 461.0 817.2z"/><path fill="#78ff87" d="M246.8 748.8 253.6 747.0 248.3 744.6 241.5 746.4z"/><path fill="#d70000" d="M730.0 656.6 736.8 653.8 731.6 650.1 724.8 652.7z"/><path fill="#28ffd7" d="M539.9 763.4 546.7 752.6 541.4 745.7 534.6 758.6z"/><path fill="#ff3800" d="M644.4 675.5 651.1 666.4 645.9 661.5 639.1 669.5z"/><path fill="#e70000" d="M687.2 660.7 694.0 656.1 688.7 652.7 682.0 656.8z"/><path fill="#18ffe7" d="M356.5 768.3 363.3 769.5 358.0 759.4 351.3 759.0z"/><path fill="#78ff87" d="M301.6 749.6 308.4 748.0 303.2 745.3 296.4 747.0z"/><path fill="#0000a7" d="M435.4 843.3 442.2 833.4 436.9 822.8 430.2 832.2z"/><path fill="#00a7ff" d="M509.1 789.4 515.8 776.6 510.6 770.8 503.8 783.3z"/><path fill="#ffa700" d="M613.5 700.1 620.3 685.3 615.1 678.0 608.3 691.6z"/><path fill="#78ff87" d="M258.8 749.4 265.6 747.6 260.3 745.2 253.6 747.0z"/><path fill="#e70000" d="M742.1 658.9 748.8 656.3 743.6 652.0 736.8 653.8z"/><path fill="#00d7ff" d="M368.5 781.8 375.3 783.6 370.1 770.6 363.3 769.5z"/><path fill="#0018ff" d="M478.2 818.3 485.0 803.9 479.8 796.5 473.0 810.8z"/><path fill="#c7ff38" d="M582.7 733.4 589.5 716.2 584.3 706.9 577.5 724.8z"/><path fill="#78ff87" d="M216.0 749.5 222.7 747.7 217.5 745.3 210.7 747.1z"/><path fill="#e70000" d="M699.2 659.7 706.0 655.7 700.8 652.4 694.0 656.1z"/><path fill="#ff1800" d="M656.4 671.8 663.2 664.0 657.9 659.5 651.1 666.4z"/><path fill="#48ffb7" d="M551.9 757.8 558.7 747.3 553.4 739.5 546.7 752.6z"/><path fill="#68ff97" d="M313.7 751.0 320.4 749.7 315.2 746.4 308.4 748.0z"/><path fill="#0087ff" d="M380.5 798.3 387.3 799.9 382.1 784.8 375.3 783.6z"/><path fill="#0000a7" d="M447.4 842.7 454.2 830.6 449.0 821.6 442.2 833.4z"/><path fill="#0028ff" d="M392.6 815.8 399.3 816.3 394.1 800.4 387.3 799.9z"/><path fill="#78ff87" d="M270.8 750.0 277.6 748.1 272.4 745.7 265.6 747.6z"/><path fill="#00d7ff" d="M521.1 781.8 527.9 769.9 522.6 764.8 515.8 776.6z"/><path fill="#ff7800" d="M625.6 693.2 632.3 679.9 627.1 673.3 620.3 685.3z"/><path fill="#78ff87" d="M228.0 750.1 234.8 748.3 229.5 745.9 222.7 747.7z"/><path fill="#0000d7" d="M404.6 831.8 411.4 830.0 406.1 814.9 399.3 816.3z"/><path fill="#e70000" d="M711.2 659.4 718.0 655.8 712.8 652.4 706.0 655.7z"/><path fill="#0048ff" d="M490.3 811.2 497.0 796.8 491.8 789.9 485.0 803.9z"/><path fill="#68ff97" d="M325.7 753.7 332.5 752.9 327.2 748.4 320.4 749.7z"/><path fill="#e7ff18" d="M594.7 725.4 601.5 707.9 596.3 698.8 589.5 716.2z"/><path fill="#ff0800" d="M668.4 668.8 675.2 662.1 669.9 657.9 663.2 664.0z"/><path fill="#68ff97" d="M563.9 752.4 570.7 740.8 565.5 733.1 558.7 747.3z"/><path fill="#0000b7" d="M459.4 838.6 466.2 825.1 461.0 817.2 454.2 830.6z"/><path fill="#0000a7" d="M416.6 843.9 423.4 839.3 418.1 825.9 411.4 830.0z"/><path fill="#78ff87" d="M282.8 750.6 289.6 748.8 284.4 746.3 277.6 748.1z"/><path fill="#08fff7" d="M533.1 774.1 539.9 763.4 534.6 758.6 527.9 769.9z"/><path fill="#48ffb7" d="M337.7 758.8 344.5 758.8 339.2 752.3 332.5 752.9z"/><path fill="#78ff87" d="M240.0 750.6 246.8 748.8 241.5 746.4 234.8 748.3z"/><path fill="#ff5800" d="M637.6 687.1 644.4 675.5 639.1 669.5 632.3 679.9z"/><path fill="#d70000" d="M723.3 659.8 730.0 656.6 724.8 652.7 718.0 655.8z"/><path fill="#f70000" d="M680.4 666.5 687.2 660.7 682.0 656.8 675.2 662.1z"/><path fill="#0078ff" d="M502.3 803.4 509.1 789.4 503.8 783.3 497.0 796.8z"/><path fill="#000087" d="M428.6 850.9 435.4 843.3 430.2 832.2 423.4 839.3z"/><path fill="#ffe700" d="M606.8 717.1 613.5 700.1 608.3 691.6 601.5 707.9z"/><path fill="#78ff87" d="M294.9 751.3 301.6 749.6 296.4 747.0 289.6 748.8z"/><path fill="#87ff78" d="M575.9 746.9 582.7 733.4 577.5 724.8 570.7 740.8z"/><path fill="#28ffd7" d="M349.7 767.2 356.5 768.3 351.3 759.0 344.5 758.8z"/><path fill="#0000d7" d="M471.5 832.5 478.2 818.3 473.0 810.8 466.2 825.1z"/><path fill="#e70000" d="M735.3 661.8 742.1 658.9 736.8 653.8 730.0 656.6z"/><path fill="#78ff87" d="M252.0 751.2 258.8 749.4 253.6 747.0 246.8 748.8z"/><path fill="#28ffd7" d="M545.1 767.2 551.9 757.8 546.7 752.6 539.9 763.4z"/><path fill="#ff4800" d="M649.6 681.9 656.4 671.8 651.1 666.4 644.4 675.5z"/><path fill="#00e7ff" d="M361.7 779.7 368.5 781.8 363.3 769.5 356.5 768.3z"/><path fill="#f70000" d="M692.4 664.8 699.2 659.7 694.0 656.1 687.2 660.7z"/><path fill="#000087" d="M440.6 852.8 447.4 842.7 442.2 833.4 435.4 843.3z"/><path fill="#78ff87" d="M306.9 752.5 313.7 751.0 308.4 748.0 301.6 749.6z"/><path fill="#0097ff" d="M514.3 794.9 521.1 781.8 515.8 776.6 509.1 789.4z"/><path fill="#0097ff" d="M373.8 795.9 380.5 798.3 375.3 783.6 368.5 781.8z"/><path fill="#ffc700" d="M618.8 709.1 625.6 693.2 620.3 685.3 613.5 700.1z"/><path fill="#f70000" d="M747.3 666.8 754.1 664.2 748.8 656.3 742.1 658.9z"/><path fill="#a7ff58" d="M588.0 740.9 594.7 725.4 589.5 716.2 582.7 733.4z"/><path fill="#0008ff" d="M483.5 825.7 490.3 811.2 485.0 803.9 478.2 818.3z"/><path fill="#78ff87" d="M264.0 751.8 270.8 750.0 265.6 747.6 258.8 749.4z"/><path fill="#0038ff" d="M385.8 814.1 392.6 815.8 387.3 799.9 380.5 798.3z"/><path fill="#ff2800" d="M661.6 677.6 668.4 668.8 663.2 664.0 656.4 671.8z"/><path fill="#e70000" d="M704.5 663.8 711.2 659.4 706.0 655.7 699.2 659.7z"/><path fill="#78ff87" d="M221.2 751.9 228.0 750.1 222.7 747.7 216.0 749.5z"/><path fill="#48ffb7" d="M557.1 761.3 563.9 752.4 558.7 747.3 551.9 757.8z"/><path fill="#000087" d="M452.7 850.6 459.4 838.6 454.2 830.6 447.4 842.7z"/><path fill="#0000e7" d="M397.8 831.7 404.6 831.8 399.3 816.3 392.6 815.8z"/><path fill="#68ff97" d="M318.9 754.8 325.7 753.7 320.4 749.7 313.7 751.0z"/><path fill="#0000a7" d="M409.8 846.2 416.6 843.9 411.4 830.0 404.6 831.8z"/><path fill="#00c7ff" d="M526.3 786.0 533.1 774.1 527.9 769.9 521.1 781.8z"/><path fill="#78ff87" d="M276.1 752.4 282.8 750.6 277.6 748.1 270.8 750.0z"/><path fill="#ff9700" d="M630.8 701.6 637.6 687.1 632.3 679.9 625.6 693.2z"/><path fill="#0028ff" d="M495.5 818.0 502.3 803.4 497.0 796.8 490.3 811.2z"/><path fill="#c7ff38" d="M600.0 734.0 606.8 717.1 601.5 707.9 594.7 725.4z"/><path fill="#e70000" d="M716.5 663.7 723.3 659.8 718.0 655.8 711.2 659.4z"/><path fill="#58ffa7" d="M330.9 759.0 337.7 758.8 332.5 752.9 325.7 753.7z"/><path fill="#78ff87" d="M233.2 752.5 240.0 750.6 234.8 748.3 228.0 750.1z"/><path fill="#ff1800" d="M673.6 674.1 680.4 666.5 675.2 662.1 668.4 668.8z"/><path fill="#000087" d="M421.8 856.0 428.6 850.9 423.4 839.3 416.6 843.9z"/><path fill="#0000a7" d="M464.7 845.7 471.5 832.5 466.2 825.1 459.4 838.6z"/><path fill="#68ff97" d="M569.2 756.2 575.9 746.9 570.7 740.8 563.9 752.4z"/><path fill="#78ff87" d="M288.1 753.1 294.9 751.3 289.6 748.8 282.8 750.6z"/><path fill="#38ffc7" d="M342.9 766.4 349.7 767.2 344.5 758.8 337.7 758.8z"/><path fill="#ff7800" d="M642.8 694.9 649.6 681.9 644.4 675.5 637.6 687.1z"/><path fill="#00f7ff" d="M538.3 777.4 545.1 767.2 539.9 763.4 533.1 774.1z"/><path fill="#e70000" d="M728.5 665.3 735.3 661.8 730.0 656.6 723.3 659.8z"/><path fill="#78ff87" d="M245.2 753.0 252.0 751.2 246.8 748.8 240.0 750.6z"/><path fill="#000087" d="M433.9 860.6 440.6 852.8 435.4 843.3 428.6 850.9z"/><path fill="#ff0800" d="M685.7 671.4 692.4 664.8 687.2 660.7 680.4 666.5z"/><path fill="#f7ff08" d="M612.0 726.3 618.8 709.1 613.5 700.1 606.8 717.1z"/><path fill="#0058ff" d="M507.5 809.2 514.3 794.9 509.1 789.4 502.3 803.4z"/><path fill="#00f7ff" d="M355.0 777.8 361.7 779.7 356.5 768.3 349.7 767.2z"/><path fill="#78ff87" d="M581.2 751.8 588.0 740.9 582.7 733.4 575.9 746.9z"/><path fill="#0000c7" d="M476.7 839.6 483.5 825.7 478.2 818.3 471.5 832.5z"/><path fill="#78ff87" d="M300.1 754.1 306.9 752.5 301.6 749.6 294.9 751.3z"/><path fill="#ff0800" d="M740.5 669.9 747.3 666.8 742.1 658.9 735.3 661.8z"/><path fill="#00b7ff" d="M367.0 793.2 373.8 795.9 368.5 781.8 361.7 779.7z"/><path fill="#78ff87" d="M257.3 753.6 264.0 751.8 258.8 749.4 252.0 751.2z"/><path fill="#ff5800" d="M654.8 689.0 661.6 677.6 656.4 671.8 649.6 681.9z"/><path fill="#000087" d="M445.9 860.6 452.7 850.6 447.4 842.7 440.6 852.8z"/><path fill="#28ffd7" d="M550.4 769.8 557.1 761.3 551.9 757.8 545.1 767.2z"/><path fill="#0058ff" d="M379.0 811.4 385.8 814.1 380.5 798.3 373.8 795.9z"/><path fill="#f70000" d="M697.7 669.5 704.5 663.8 699.2 659.7 692.4 664.8z"/><path fill="#ffe700" d="M624.0 718.4 630.8 701.6 625.6 693.2 618.8 709.1z"/><path fill="#68ff97" d="M312.1 755.9 318.9 754.8 313.7 751.0 306.9 752.5z"/><path fill="#0000f7" d="M391.0 830.0 397.8 831.7 392.6 815.8 385.8 814.1z"/><path fill="#0097ff" d="M519.5 799.3 526.3 786.0 521.1 781.8 514.3 794.9z"/><path fill="#ff2800" d="M752.5 680.0 759.3 677.3 754.1 664.2 747.3 666.8z"/><path fill="#97ff68" d="M593.2 747.2 600.0 734.0 594.7 725.4 588.0 740.9z"/><path fill="#0000e7" d="M488.7 832.5 495.5 818.0 490.3 811.2 483.5 825.7z"/><path fill="#0000a7" d="M403.0 846.5 409.8 846.2 404.6 831.8 397.8 831.7z"/><path fill="#78ff87" d="M269.3 754.2 276.1 752.4 270.8 750.0 264.0 751.8z"/><path fill="#ff4800" d="M666.9 684.0 673.6 674.1 668.4 668.8 661.6 677.6z"/><path fill="#000087" d="M457.9 857.4 464.7 845.7 459.4 838.6 452.7 850.6z"/><path fill="#f70000" d="M709.7 668.7 716.5 663.7 711.2 659.4 704.5 663.8z"/><path fill="#48ffb7" d="M562.4 763.7 569.2 756.2 563.9 752.4 557.1 761.3z"/><path fill="#78ff87" d="M226.4 754.3 233.2 752.5 228.0 750.1 221.2 751.9z"/><path fill="#58ffa7" d="M324.1 759.5 330.9 759.0 325.7 753.7 318.9 754.8z"/><path fill="#000087" d="M415.1 858.8 421.8 856.0 416.6 843.9 409.8 846.2z"/><path fill="#ffb700" d="M636.0 710.5 642.8 694.9 637.6 687.1 630.8 701.6z"/><path fill="#00c7ff" d="M531.6 789.1 538.3 777.4 533.1 774.1 526.3 786.0z"/><path fill="#78ff87" d="M281.3 754.8 288.1 753.1 282.8 750.6 276.1 752.4z"/><path fill="#b7ff48" d="M605.2 741.7 612.0 726.3 606.8 717.1 600.0 734.0z"/><path fill="#0018ff" d="M500.7 823.9 507.5 809.2 502.3 803.4 495.5 818.0z"/><path fill="#38ffc7" d="M336.2 765.8 342.9 766.4 337.7 758.8 330.9 759.0z"/><path fill="#000087" d="M427.1 866.1 433.9 860.6 428.6 850.9 421.8 856.0z"/><path fill="#f70000" d="M721.7 669.6 728.5 665.3 723.3 659.8 716.5 663.7z"/><path fill="#ff2800" d="M678.9 680.0 685.7 671.4 680.4 666.5 673.6 674.1z"/><path fill="#78ff87" d="M238.5 754.8 245.2 753.0 240.0 750.6 233.2 752.5z"/><path fill="#000087" d="M469.9 852.3 476.7 839.6 471.5 832.5 464.7 845.7z"/><path fill="#68ff97" d="M574.4 759.1 581.2 751.8 575.9 746.9 569.2 756.2z"/><path fill="#08fff7" d="M348.2 776.0 355.0 777.8 349.7 767.2 342.9 766.4z"/><path fill="#78ff87" d="M293.3 755.7 300.1 754.1 294.9 751.3 288.1 753.1z"/><path fill="#ff9700" d="M648.1 703.2 654.8 689.0 649.6 681.9 642.8 694.9z"/><path fill="#ff0800" d="M733.7 673.6 740.5 669.9 735.3 661.8 728.5 665.3z"/><path fill="#000087" d="M439.1 868.4 445.9 860.6 440.6 852.8 433.9 860.6z"/><path fill="#00f7ff" d="M543.6 779.6 550.4 769.8 545.1 767.2 538.3 777.4z"/><path fill="#d7ff28" d="M617.2 735.2 624.0 718.4 618.8 709.1 612.0 726.3z"/><path fill="#78ff87" d="M250.5 755.4 257.3 753.6 252.0 751.2 245.2 753.0z"/><path fill="#00c7ff" d="M360.2 790.4 367.0 793.2 361.7 779.7 355.0 777.8z"/><path fill="#ff1800" d="M690.9 676.9 697.7 669.5 692.4 664.8 685.7 671.4z"/><path fill="#0058ff" d="M512.8 813.6 519.5 799.3 514.3 794.9 507.5 809.2z"/><path fill="#0000b7" d="M481.9 846.2 488.7 832.5 483.5 825.7 476.7 839.6z"/><path fill="#78ff87" d="M586.4 755.6 593.2 747.2 588.0 740.9 581.2 751.8z"/><path fill="#0078ff" d="M372.2 808.2 379.0 811.4 373.8 795.9 367.0 793.2z"/><path fill="#ff3800" d="M745.8 683.1 752.5 680.0 747.3 666.8 740.5 669.9z"/><path fill="#68ff97" d="M305.3 757.2 312.1 755.9 306.9 752.5 300.1 754.1z"/><path fill="#0018ff" d="M384.2 827.2 391.0 830.0 385.8 814.1 379.0 811.4z"/><path fill="#ff7800" d="M660.1 696.6 666.9 684.0 661.6 677.6 654.8 689.0z"/><path fill="#000087" d="M451.1 867.0 457.9 857.4 452.7 850.6 445.9 860.6z"/><path fill="#78ff87" d="M262.5 756.0 269.3 754.2 264.0 751.8 257.3 753.6z"/><path fill="#ff8700" d="M757.8 699.6 764.6 697.0 759.3 677.3 752.5 680.0z"/><path fill="#0000b7" d="M396.3 845.2 403.0 846.5 397.8 831.7 391.0 830.0z"/><path fill="#28ffd7" d="M555.6 771.5 562.4 763.7 557.1 761.3 550.4 769.8z"/><path fill="#ff0800" d="M702.9 675.0 709.7 668.7 704.5 663.8 697.7 669.5z"/><path fill="#f7ff08" d="M629.3 727.6 636.0 710.5 630.8 701.6 624.0 718.4z"/><path fill="#68ff97" d="M317.4 760.2 324.1 759.5 318.9 754.8 312.1 755.9z"/><path fill="#0087ff" d="M524.8 802.3 531.6 789.1 526.3 786.0 519.5 799.3z"/><path fill="#000087" d="M408.3 859.6 415.1 858.8 409.8 846.2 403.0 846.5z"/><path fill="#87ff78" d="M598.4 752.3 605.2 741.7 600.0 734.0 593.2 747.2z"/><path fill="#0000d7" d="M494.0 838.4 500.7 823.9 495.5 818.0 488.7 832.5z"/><path fill="#78ff87" d="M274.5 756.6 281.3 754.8 276.1 752.4 269.3 754.2z"/><path fill="#000087" d="M463.1 863.3 469.9 852.3 464.7 845.7 457.9 857.4z"/><path fill="#ff5800" d="M672.1 691.0 678.9 680.0 673.6 674.1 666.9 684.0z"/><path fill="#ff0800" d="M714.9 675.0 721.7 669.6 716.5 663.7 709.7 668.7z"/><path fill="#000087" d="M420.3 869.3 427.1 866.1 421.8 856.0 415.1 858.8z"/><path fill="#48ffb7" d="M329.4 765.6 336.2 765.8 330.9 759.0 324.1 759.5z"/><path fill="#48ffb7" d="M567.6 765.4 574.4 759.1 569.2 756.2 562.4 763.7z"/><path fill="#78ff87" d="M231.7 756.7 238.5 754.8 233.2 752.5 226.4 754.3z"/><path fill="#ffd700" d="M641.3 719.8 648.1 703.2 642.8 694.9 636.0 710.5z"/><path fill="#97ff68" d="M610.5 748.4 617.2 735.2 612.0 726.3 605.2 741.7z"/><path fill="#00c7ff" d="M536.8 790.9 543.6 779.6 538.3 777.4 531.6 789.1z"/><path fill="#78ff87" d="M286.5 757.4 293.3 755.7 288.1 753.1 281.3 754.8z"/><path fill="#18ffe7" d="M341.4 774.6 348.2 776.0 342.9 766.4 336.2 765.8z"/><path fill="#000087" d="M432.3 874.0 439.1 868.4 433.9 860.6 427.1 866.1z"/><path fill="#0008ff" d="M506.0 828.4 512.8 813.6 507.5 809.2 500.7 823.9z"/><path fill="#ff1800" d="M727.0 678.2 733.7 673.6 728.5 665.3 721.7 669.6z"/><path fill="#ff3800" d="M684.1 686.5 690.9 676.9 685.7 671.4 678.9 680.0z"/><path fill="#000087" d="M475.2 854.4 481.9 846.2 476.7 839.6 469.9 852.3z"/><path fill="#78ff87" d="M243.7 757.2 250.5 755.4 245.2 753.0 238.5 754.8z"/><path fill="#68ff97" d="M579.6 761.3 586.4 755.6 581.2 751.8 574.4 759.1z"/><path fill="#00d7ff" d="M353.4 787.9 360.2 790.4 355.0 777.8 348.2 776.0z"/><path fill="#ffb700" d="M653.3 712.0 660.1 696.6 654.8 689.0 648.1 703.2z"/><path fill="#ff3800" d="M739.0 686.9 745.8 683.1 740.5 669.9 733.7 673.6z"/><path fill="#78ff87" d="M298.6 758.7 305.3 757.2 300.1 754.1 293.3 755.7z"/><path fill="#0087ff" d="M365.4 804.8 372.2 808.2 367.0 793.2 360.2 790.4z"/><path fill="#000087" d="M444.3 873.9 451.1 867.0 445.9 860.6 439.1 868.4z"/><path fill="#b7ff48" d="M622.5 743.2 629.3 727.6 624.0 718.4 617.2 735.2z"/><path fill="#08fff7" d="M548.8 780.6 555.6 771.5 550.4 769.8 543.6 779.6z"/><path fill="#0028ff" d="M377.5 823.9 384.2 827.2 379.0 811.4 372.2 808.2z"/><path fill="#ff2800" d="M696.1 683.3 702.9 675.0 697.7 669.5 690.9 676.9z"/><path fill="#ff8700" d="M751.0 702.6 757.8 699.6 752.5 680.0 745.8 683.1z"/><path fill="#78ff87" d="M255.7 757.8 262.5 756.0 257.3 753.6 250.5 755.4z"/><path fill="#0048ff" d="M518.0 816.5 524.8 802.3 519.5 799.3 512.8 813.6z"/><path fill="#0000a7" d="M487.2 851.1 494.0 838.4 488.7 832.5 481.9 846.2z"/><path fill="#0000c7" d="M389.5 842.7 396.3 845.2 391.0 830.0 384.2 827.2z"/><path fill="#78ff87" d="M591.7 758.6 598.4 752.3 593.2 747.2 586.4 755.6z"/><path fill="#ffe700" d="M763.0 722.4 769.8 719.9 764.6 697.0 757.8 699.6z"/><path fill="#68ff97" d="M310.6 761.1 317.4 760.2 312.1 755.9 305.3 757.2z"/><path fill="#000087" d="M401.5 858.8 408.3 859.6 403.0 846.5 396.3 845.2z"/><path fill="#ff9700" d="M665.3 704.9 672.1 691.0 666.9 684.0 660.1 696.6z"/><path fill="#000087" d="M456.4 869.1 463.1 863.3 457.9 857.4 451.1 867.0z"/><path fill="#78ff87" d="M267.7 758.4 274.5 756.6 269.3 754.2 262.5 756.0z"/><path fill="#d7ff28" d="M634.5 736.6 641.3 719.8 636.0 710.5 629.3 727.6z"/><path fill="#ff2800" d="M708.2 682.0 714.9 675.0 709.7 668.7 702.9 675.0z"/><path fill="#28ffd7" d="M560.8 772.4 567.6 765.4 562.4 763.7 555.6 771.5z"/><path fill="#000087" d="M413.5 870.5 420.3 869.3 415.1 858.8 408.3 859.6z"/><path fill="#58ffa7" d="M322.6 765.6 329.4 765.6 324.1 759.5 317.4 760.2z"/><path fill="#87ff78" d="M603.7 756.5 610.5 748.4 605.2 741.7 598.4 752.3z"/><path fill="#0097ff" d="M530.0 803.6 536.8 790.9 531.6 789.1 524.8 802.3z"/><path fill="#0000c7" d="M499.2 842.6 506.0 828.4 500.7 823.9 494.0 838.4z"/><path fill="#ff7800" d="M677.3 698.8 684.1 686.5 678.9 680.0 672.1 691.0z"/><path fill="#000087" d="M425.5 877.4 432.3 874.0 427.1 866.1 420.3 869.3z"/><path fill="#ff2800" d="M720.2 684.0 727.0 678.2 721.7 669.6 714.9 675.0z"/><path fill="#78ff87" d="M279.8 759.1 286.5 757.4 281.3 754.8 274.5 756.6z"/><path fill="#000087" d="M468.4 860.5 475.2 854.4 469.9 852.3 463.1 863.3z"/><path fill="#28ffd7" d="M334.6 773.5 341.4 774.6 336.2 765.8 329.4 765.6z"/><path fill="#fff700" d="M646.5 729.1 653.3 712.0 648.1 703.2 641.3 719.8z"/><path fill="#58ffa7" d="M572.9 766.6 579.6 761.3 574.4 759.1 567.6 765.4z"/><path fill="#78ff87" d="M236.9 759.0 243.7 757.2 238.5 754.8 231.7 756.7z"/><path fill="#97ff68" d="M615.7 753.9 622.5 743.2 617.2 735.2 610.5 748.4z"/><path fill="#00f7ff" d="M346.6 785.6 353.4 787.9 348.2 776.0 341.4 774.6z"/><path fill="#ff4800" d="M732.2 691.6 739.0 686.9 733.7 673.6 727.0 678.2z"/><path fill="#000087" d="M437.6 876.6 444.3 873.9 439.1 868.4 432.3 874.0z"/><path fill="#00d7ff" d="M542.0 791.2 548.8 780.6 543.6 779.6 536.8 790.9z"/><path fill="#78ff87" d="M291.8 760.2 298.6 758.7 293.3 755.7 286.5 757.4z"/><path fill="#0008ff" d="M511.2 830.9 518.0 816.5 512.8 813.6 506.0 828.4z"/><path fill="#ff5800" d="M689.4 693.9 696.1 683.3 690.9 676.9 684.1 686.5z"/><path fill="#00a7ff" d="M358.7 801.6 365.4 804.8 360.2 790.4 353.4 787.9z"/><path fill="#0000a7" d="M480.4 853.0 487.2 851.1 481.9 846.2 475.2 854.4z"/><path fill="#ff8700" d="M744.2 706.2 751.0 702.6 745.8 683.1 739.0 686.9z"/><path fill="#78ff87" d="M248.9 759.6 255.7 757.8 250.5 755.4 243.7 757.2z"/><path fill="#0048ff" d="M370.7 820.3 377.5 823.9 372.2 808.2 365.4 804.8z"/><path fill="#68ff97" d="M584.9 763.1 591.7 758.6 586.4 755.6 579.6 761.3z"/><path fill="#ffd700" d="M658.5 721.3 665.3 704.9 660.1 696.6 653.3 712.0z"/><path fill="#ffe700" d="M756.2 725.1 763.0 722.4 757.8 699.6 751.0 702.6z"/><path fill="#0000e7" d="M382.7 839.5 389.5 842.7 384.2 827.2 377.5 823.9z"/><path fill="#a7ff58" d="M627.7 750.2 634.5 736.6 629.3 727.6 622.5 743.2z"/><path fill="#68ff97" d="M303.8 762.1 310.6 761.1 305.3 757.2 298.6 758.7z"/><path fill="#c7ff38" d="M768.3 741.5 775.0 739.3 769.8 719.9 763.0 722.4z"/><path fill="#000087" d="M449.6 871.8 456.4 869.1 451.1 867.0 444.3 873.9z"/><path fill="#000097" d="M394.7 856.8 401.5 858.8 396.3 845.2 389.5 842.7z"/><path fill="#ff4800" d="M701.4 691.1 708.2 682.0 702.9 675.0 696.1 683.3z"/><path fill="#08fff7" d="M554.1 780.6 560.8 772.4 555.6 771.5 548.8 780.6z"/><path fill="#78ff87" d="M261.0 760.2 267.7 758.4 262.5 756.0 255.7 757.8z"/><path fill="#0058ff" d="M523.2 817.3 530.0 803.6 524.8 802.3 518.0 816.5z"/><path fill="#0000b7" d="M492.4 849.7 499.2 842.6 494.0 838.4 487.2 851.1z"/><path fill="#000087" d="M406.7 870.3 413.5 870.5 408.3 859.6 401.5 858.8z"/><path fill="#78ff87" d="M596.9 761.2 603.7 756.5 598.4 752.3 591.7 758.6z"/><path fill="#58ffa7" d="M315.8 765.9 322.6 765.6 317.4 760.2 310.6 761.1z"/><path fill="#ffa700" d="M670.6 713.9 677.3 698.8 672.1 691.0 665.3 704.9z"/><path fill="#c7ff38" d="M639.7 744.9 646.5 729.1 641.3 719.8 634.5 736.6z"/><path fill="#ff4800" d="M713.4 691.5 720.2 684.0 714.9 675.0 708.2 682.0z"/><path fill="#000087" d="M461.6 865.9 468.4 860.5 463.1 863.3 456.4 869.1z"/><path fill="#000087" d="M418.8 877.4 425.5 877.4 420.3 869.3 413.5 870.5z"/><path fill="#78ff87" d="M273.0 760.8 279.8 759.1 274.5 756.6 267.7 758.4z"/><path fill="#38ffc7" d="M327.8 772.7 334.6 773.5 329.4 765.6 322.6 765.6z"/><path fill="#38ffc7" d="M566.1 772.7 572.9 766.6 567.6 765.4 560.8 772.4z"/><path fill="#78ff87" d="M608.9 759.9 615.7 753.9 610.5 748.4 603.7 756.5z"/><path fill="#0000c7" d="M504.4 844.9 511.2 830.9 506.0 828.4 499.2 842.6z"/><path fill="#0097ff" d="M535.3 803.2 542.0 791.2 536.8 790.9 530.0 803.6z"/><path fill="#ff5800" d="M725.4 697.5 732.2 691.6 727.0 678.2 720.2 684.0z"/><path fill="#ff8700" d="M682.6 707.4 689.4 693.9 684.1 686.5 677.3 698.8z"/><path fill="#000087" d="M430.8 879.3 437.6 876.6 432.3 874.0 425.5 877.4z"/><path fill="#08fff7" d="M339.9 783.5 346.6 785.6 341.4 774.6 334.6 773.5z"/><path fill="#78ff87" d="M285.0 761.8 291.8 760.2 286.5 757.4 279.8 759.1z"/><path fill="#e7ff18" d="M651.8 738.2 658.5 721.3 653.3 712.0 646.5 729.1z"/><path fill="#000097" d="M473.6 856.3 480.4 853.0 475.2 854.4 468.4 860.5z"/><path fill="#ff9700" d="M737.4 710.7 744.2 706.2 739.0 686.9 732.2 691.6z"/><path fill="#00b7ff" d="M351.9 798.5 358.7 801.6 353.4 787.9 346.6 785.6z"/><path fill="#78ff87" d="M242.2 761.4 248.9 759.6 243.7 757.2 236.9 759.0z"/><path fill="#58ffa7" d="M578.1 767.6 584.9 763.1 579.6 761.3 572.9 766.6z"/><path fill="#87ff78" d="M620.9 758.5 627.7 750.2 622.5 743.2 615.7 753.9z"/><path fill="#ffe700" d="M749.5 728.3 756.2 725.1 751.0 702.6 744.2 706.2z"/><path fill="#0068ff" d="M363.9 816.7 370.7 820.3 365.4 804.8 358.7 801.6z"/><path fill="#ff7800" d="M694.6 702.7 701.4 691.1 696.1 683.3 689.4 693.9z"/><path fill="#000087" d="M442.8 874.5 449.6 871.8 444.3 873.9 437.6 876.6z"/><path fill="#68ff97" d="M297.0 763.4 303.8 762.1 298.6 758.7 291.8 760.2z"/><path fill="#c7ff38" d="M761.5 743.9 768.3 741.5 763.0 722.4 756.2 725.1z"/><path fill="#0008ff" d="M375.9 836.0 382.7 839.5 377.5 823.9 370.7 820.3z"/><path fill="#0018ff" d="M516.5 831.3 523.2 817.3 518.0 816.5 511.2 830.9z"/><path fill="#00e7ff" d="M547.3 790.3 554.1 780.6 548.8 780.6 542.0 791.2z"/><path fill="#0000a7" d="M387.9 854.1 394.7 856.8 389.5 842.7 382.7 839.5z"/><path fill="#fff700" d="M663.8 730.8 670.6 713.9 665.3 704.9 658.5 721.3z"/><path fill="#78ff87" d="M254.2 762.0 261.0 760.2 255.7 757.8 248.9 759.6z"/><path fill="#0000b7" d="M485.6 851.6 492.4 849.7 487.2 851.1 480.4 853.0z"/><path fill="#97ff68" d="M773.5 754.0 780.3 751.9 775.0 739.3 768.3 741.5z"/><path fill="#68ff97" d="M590.1 764.8 596.9 761.2 591.7 758.6 584.9 763.1z"/><path fill="#97ff68" d="M633.0 756.1 639.7 744.9 634.5 736.6 627.7 750.2z"/><path fill="#000087" d="M400.0 869.0 406.7 870.3 401.5 858.8 394.7 856.8z"/><path fill="#68ff97" d="M309.0 766.4 315.8 765.9 310.6 761.1 303.8 762.1z"/><path fill="#ff6800" d="M706.6 701.2 713.4 691.5 708.2 682.0 701.4 691.1z"/><path fill="#000087" d="M454.8 869.7 461.6 865.9 456.4 869.1 449.6 871.8z"/><path fill="#78ff87" d="M266.2 762.6 273.0 760.8 267.7 758.4 261.0 760.2z"/><path fill="#000087" d="M412.0 875.7 418.8 877.4 413.5 870.5 406.7 870.3z"/><path fill="#18ffe7" d="M559.3 780.0 566.1 772.7 560.8 772.4 554.1 780.6z"/><path fill="#0058ff" d="M528.5 816.1 535.3 803.2 530.0 803.6 523.2 817.3z"/><path fill="#0000c7" d="M497.7 848.3 504.4 844.9 499.2 842.6 492.4 849.7z"/><path fill="#78ff87" d="M602.1 763.6 608.9 759.9 603.7 756.5 596.9 761.2z"/><path fill="#ffd700" d="M675.8 723.4 682.6 707.4 677.3 698.8 670.6 713.9z"/><path fill="#48ffb7" d="M321.1 772.2 327.8 772.7 322.6 765.6 315.8 765.9z"/><path fill="#ff7800" d="M718.6 705.2 725.4 697.5 720.2 684.0 713.4 691.5z"/><path fill="#a7ff58" d="M645.0 752.2 651.8 738.2 646.5 729.1 639.7 744.9z"/><path fill="#000087" d="M424.0 878.7 430.8 879.3 425.5 877.4 418.8 877.4z"/><path fill="#18ffe7" d="M333.1 781.6 339.9 783.5 334.6 773.5 327.8 772.7z"/><path fill="#78ff87" d="M278.2 763.4 285.0 761.8 279.8 759.1 273.0 760.8z"/><path fill="#000087" d="M466.8 861.7 473.6 856.3 468.4 860.5 461.6 865.9z"/><path fill="#ffa700" d="M730.7 716.2 737.4 710.7 732.2 691.6 725.4 697.5z"/><path fill="#48ffb7" d="M571.3 772.8 578.1 767.6 572.9 766.6 566.1 772.7z"/><path fill="#78ff87" d="M614.2 762.9 620.9 758.5 615.7 753.9 608.9 759.9z"/><path fill="#ffb700" d="M687.8 717.1 694.6 702.7 689.4 693.9 682.6 707.4z"/><path fill="#00d7ff" d="M345.1 795.4 351.9 798.5 346.6 785.6 339.9 783.5z"/><path fill="#0000d7" d="M509.7 844.8 516.5 831.3 511.2 830.9 504.4 844.9z"/><path fill="#fff700" d="M742.7 732.1 749.5 728.3 744.2 706.2 737.4 710.7z"/><path fill="#00a7ff" d="M540.5 801.3 547.3 790.3 542.0 791.2 535.3 803.2z"/><path fill="#c7ff38" d="M657.0 746.8 663.8 730.8 658.5 721.3 651.8 738.2z"/><path fill="#0078ff" d="M357.1 812.9 363.9 816.7 358.7 801.6 351.9 798.5z"/><path fill="#000087" d="M436.0 877.2 442.8 874.5 437.6 876.6 430.8 879.3z"/><path fill="#c7ff38" d="M754.7 746.6 761.5 743.9 756.2 725.1 749.5 728.3z"/><path fill="#78ff87" d="M290.2 764.7 297.0 763.4 291.8 760.2 285.0 761.8z"/><path fill="#0028ff" d="M369.1 829.2 375.9 836.0 370.7 820.3 363.9 816.7z"/><path fill="#78ff87" d="M626.2 762.2 633.0 756.1 627.7 750.2 620.9 758.5z"/><path fill="#0000a7" d="M478.9 853.4 485.6 851.6 480.4 853.0 473.6 856.3z"/><path fill="#78ff87" d="M247.4 763.8 254.2 762.0 248.9 759.6 242.2 761.4z"/><path fill="#58ffa7" d="M583.3 768.6 590.1 764.8 584.9 763.1 578.1 767.6z"/><path fill="#97ff68" d="M766.7 756.1 773.5 754.0 768.3 741.5 761.5 743.9z"/><path fill="#0000d7" d="M381.2 847.2 387.9 854.1 382.7 839.5 375.9 836.0z"/><path fill="#ff9700" d="M699.8 713.5 706.6 701.2 701.4 691.1 694.6 702.7z"/><path fill="#68ff97" d="M302.3 767.2 309.0 766.4 303.8 762.1 297.0 763.4z"/><path fill="#000087" d="M393.2 862.2 400.0 869.0 394.7 856.8 387.9 854.1z"/><path fill="#e7ff18" d="M669.0 740.1 675.8 723.4 670.6 713.9 663.8 730.8z"/><path fill="#000087" d="M448.0 872.4 454.8 869.7 449.6 871.8 442.8 874.5z"/><path fill="#0028ff" d="M521.7 829.3 528.5 816.1 523.2 817.3 516.5 831.3z"/><path fill="#00f7ff" d="M552.5 788.5 559.3 780.0 554.1 780.6 547.3 790.3z"/><path fill="#87ff78" d="M778.7 761.3 785.5 759.4 780.3 751.9 773.5 754.0z"/><path fill="#78ff87" d="M259.4 764.4 266.2 762.6 261.0 760.2 254.2 762.0z"/><path fill="#000087" d="M405.2 874.0 412.0 875.7 406.7 870.3 400.0 869.0z"/><path fill="#87ff78" d="M638.2 760.9 645.0 752.2 639.7 744.9 633.0 756.1z"/><path fill="#68ff97" d="M595.4 766.5 602.1 763.6 596.9 761.2 590.1 764.8z"/><path fill="#0000b7" d="M490.9 850.2 497.7 848.3 492.4 849.7 485.6 851.6z"/><path fill="#ffa700" d="M711.9 714.9 718.6 705.2 713.4 691.5 706.6 701.2z"/><path fill="#58ffa7" d="M314.3 771.9 321.1 772.2 315.8 765.9 309.0 766.4z"/><path fill="#ffc700" d="M723.9 723.2 730.7 716.2 725.4 697.5 718.6 705.2z"/><path fill="#000087" d="M417.2 877.1 424.0 878.7 418.8 877.4 412.0 875.7z"/><path fill="#000087" d="M460.1 867.2 466.8 861.7 461.6 865.9 454.8 869.7z"/><path fill="#fff700" d="M681.0 733.4 687.8 717.1 682.6 707.4 675.8 723.4z"/><path fill="#78ff87" d="M271.4 765.1 278.2 763.4 273.0 760.8 266.2 762.6z"/><path fill="#28ffd7" d="M326.3 780.0 333.1 781.6 327.8 772.7 321.1 772.2z"/><path fill="#28ffd7" d="M564.5 778.9 571.3 772.8 566.1 772.7 559.3 780.0z"/><path fill="#78ff87" d="M607.4 765.8 614.2 762.9 608.9 759.9 602.1 763.6z"/><path fill="#0000c7" d="M502.9 846.9 509.7 844.8 504.4 844.9 497.7 848.3z"/><path fill="#0078ff" d="M533.7 813.1 540.5 801.3 535.3 803.2 528.5 816.1z"/><path fill="#97ff68" d="M650.2 758.4 657.0 746.8 651.8 738.2 645.0 752.2z"/><path fill="#f7ff08" d="M735.9 736.7 742.7 732.1 737.4 710.7 730.7 716.2z"/><path fill="#00e7ff" d="M338.3 792.5 345.1 795.4 339.9 783.5 333.1 781.6z"/><path fill="#c7ff38" d="M747.9 749.7 754.7 746.6 749.5 728.3 742.7 732.1z"/><path fill="#000087" d="M429.2 879.9 436.0 877.2 430.8 879.3 424.0 878.7z"/><path fill="#78ff87" d="M283.5 766.2 290.2 764.7 285.0 761.8 278.2 763.4z"/><path fill="#0097ff" d="M350.3 809.0 357.1 812.9 351.9 798.5 345.1 795.4z"/><path fill="#ffd700" d="M693.1 728.1 699.8 713.5 694.6 702.7 687.8 717.1z"/><path fill="#78ff87" d="M619.4 765.7 626.2 762.2 620.9 758.5 614.2 762.9z"/><path fill="#0000a7" d="M472.1 857.5 478.9 853.4 473.6 856.3 466.8 861.7z"/><path fill="#48ffb7" d="M576.6 772.9 583.3 768.6 578.1 767.6 571.3 772.8z"/><path fill="#97ff68" d="M759.9 758.4 766.7 756.1 761.5 743.9 754.7 746.6z"/><path fill="#0058ff" d="M362.4 822.4 369.1 829.2 363.9 816.7 357.1 812.9z"/><path fill="#a7ff58" d="M662.2 754.4 669.0 740.1 663.8 730.8 657.0 746.8z"/><path fill="#0000e7" d="M514.9 842.1 521.7 829.3 516.5 831.3 509.7 844.8z"/><path fill="#00c7ff" d="M545.7 798.1 552.5 788.5 547.3 790.3 540.5 801.3z"/><path fill="#0018ff" d="M374.4 837.1 381.2 847.2 375.9 836.0 369.1 829.2z"/><path fill="#68ff97" d="M295.5 768.1 302.3 767.2 297.0 763.4 290.2 764.7z"/><path fill="#000087" d="M441.3 875.1 448.0 872.4 442.8 874.5 436.0 877.2z"/><path fill="#87ff78" d="M772.0 763.3 778.7 761.3 773.5 754.0 766.7 756.1z"/><path fill="#0000b7" d="M386.4 855.1 393.2 862.2 387.9 854.1 381.2 847.2z"/><path fill="#ffd700" d="M705.1 726.9 711.9 714.9 706.6 701.2 699.8 713.5z"/><path fill="#78ff87" d="M631.4 765.5 638.2 760.9 633.0 756.1 626.2 762.2z"/><path fill="#78ff87" d="M252.6 766.2 259.4 764.4 254.2 762.0 247.4 763.8z"/><path fill="#68ff97" d="M588.6 769.7 595.4 766.5 590.1 764.8 583.3 768.6z"/><path fill="#0000b7" d="M484.1 852.0 490.9 850.2 485.6 851.6 478.9 853.4z"/><path fill="#000087" d="M398.4 867.4 405.2 874.0 400.0 869.0 393.2 862.2z"/><path fill="#58ffa7" d="M307.5 771.9 314.3 771.9 309.0 766.4 302.3 767.2z"/><path fill="#c7ff38" d="M674.3 749.1 681.0 733.4 675.8 723.4 669.0 740.1z"/><path fill="#78ff87" d="M784.0 765.9 790.8 764.0 785.5 759.4 778.7 761.3z"/><path fill="#ffe700" d="M717.1 731.9 723.9 723.2 718.6 705.2 711.9 714.9z"/><path fill="#000087" d="M453.3 870.3 460.1 867.2 454.8 869.7 448.0 872.4z"/><path fill="#08fff7" d="M557.8 786.2 564.5 778.9 559.3 780.0 552.5 788.5z"/><path fill="#0038ff" d="M526.9 825.2 533.7 813.1 528.5 816.1 521.7 829.3z"/><path fill="#78ff87" d="M264.7 766.9 271.4 765.1 266.2 762.6 259.4 764.4z"/><path fill="#87ff78" d="M643.4 764.8 650.2 758.4 645.0 752.2 638.2 760.9z"/><path fill="#000087" d="M410.4 875.4 417.2 877.1 412.0 875.7 405.2 874.0z"/><path fill="#68ff97" d="M600.6 768.4 607.4 765.8 602.1 763.6 595.4 766.5z"/><path fill="#38ffc7" d="M319.5 778.8 326.3 780.0 321.1 772.2 314.3 771.9z"/><path fill="#0000c7" d="M496.1 848.8 502.9 846.9 497.7 848.3 490.9 850.2z"/><path fill="#e7ff18" d="M729.1 742.3 735.9 736.7 730.7 716.2 723.9 723.2z"/><path fill="#e7ff18" d="M686.3 743.7 693.1 728.1 687.8 717.1 681.0 733.4z"/><path fill="#08fff7" d="M331.5 789.7 338.3 792.5 333.1 781.6 326.3 780.0z"/><path fill="#b7ff48" d="M741.1 753.2 747.9 749.7 742.7 732.1 735.9 736.7z"/><path fill="#78ff87" d="M276.7 767.7 283.5 766.2 278.2 763.4 271.4 765.1z"/><path fill="#000087" d="M422.5 878.4 429.2 879.9 424.0 878.7 417.2 877.1z"/><path fill="#87ff78" d="M655.5 763.4 662.2 754.4 657.0 746.8 650.2 758.4z"/><path fill="#78ff87" d="M612.6 768.1 619.4 765.7 614.2 762.9 607.4 765.8z"/><path fill="#000087" d="M465.3 863.0 472.1 857.5 466.8 861.7 460.1 867.2z"/><path fill="#38ffc7" d="M569.8 778.0 576.6 772.9 571.3 772.8 564.5 778.9z"/><path fill="#00b7ff" d="M343.6 804.9 350.3 809.0 345.1 795.4 338.3 792.5z"/><path fill="#97ff68" d="M753.2 760.9 759.9 758.4 754.7 746.6 747.9 749.7z"/><path fill="#0000d7" d="M508.1 845.5 514.9 842.1 509.7 844.8 502.9 846.9z"/><path fill="#0097ff" d="M539.0 808.6 545.7 798.1 540.5 801.3 533.7 813.1z"/><path fill="#0097ff" d="M355.6 812.9 362.4 822.4 357.1 812.9 350.3 809.0z"/><path fill="#f7ff08" d="M698.3 740.6 705.1 726.9 699.8 713.5 693.1 728.1z"/><path fill="#68ff97" d="M288.7 769.3 295.5 768.1 290.2 764.7 283.5 766.2z"/><path fill="#000087" d="M434.5 877.8 441.3 875.1 436.0 877.2 429.2 879.9z"/><path fill="#87ff78" d="M765.2 765.4 772.0 763.3 766.7 756.1 759.9 758.4z"/><path fill="#78ff87" d="M624.6 768.2 631.4 765.5 626.2 762.2 619.4 765.7z"/><path fill="#0048ff" d="M367.6 827.6 374.4 837.1 369.1 829.2 362.4 822.4z"/><path fill="#97ff68" d="M667.5 760.9 674.3 749.1 669.0 740.1 662.2 754.4z"/><path fill="#58ffa7" d="M581.8 773.2 588.6 769.7 583.3 768.6 576.6 772.9z"/><path fill="#0000b7" d="M477.3 853.8 484.1 852.0 478.9 853.4 472.1 857.5z"/><path fill="#0000f7" d="M379.6 844.9 386.4 855.1 381.2 847.2 374.4 837.1z"/><path fill="#f7ff08" d="M710.3 742.3 717.1 731.9 711.9 714.9 705.1 726.9z"/><path fill="#68ff97" d="M300.7 772.3 307.5 771.9 302.3 767.2 295.5 768.1z"/><path fill="#0000f7" d="M520.2 837.2 526.9 825.2 521.7 829.3 514.9 842.1z"/><path fill="#00e7ff" d="M551.0 794.4 557.8 786.2 552.5 788.5 545.7 798.1z"/><path fill="#78ff87" d="M777.2 767.8 784.0 765.9 778.7 761.3 772.0 763.3z"/><path fill="#0000a7" d="M391.6 860.6 398.4 867.4 393.2 862.2 386.4 855.1z"/><path fill="#000087" d="M446.5 873.0 453.3 870.3 448.0 872.4 441.3 875.1z"/><path fill="#78ff87" d="M636.7 768.4 643.4 764.8 638.2 760.9 631.4 765.5z"/><path fill="#78ff87" d="M257.9 768.6 264.7 766.9 259.4 764.4 252.6 766.2z"/><path fill="#d7ff28" d="M722.3 749.0 729.1 742.3 723.9 723.2 717.1 731.9z"/><path fill="#68ff97" d="M593.8 771.0 600.6 768.4 595.4 766.5 588.6 769.7z"/><path fill="#a7ff58" d="M679.5 757.3 686.3 743.7 681.0 733.4 674.3 749.1z"/><path fill="#000087" d="M403.7 872.7 410.4 875.4 405.2 874.0 398.4 867.4z"/><path fill="#48ffb7" d="M312.7 777.8 319.5 778.8 314.3 771.9 307.5 771.9z"/><path fill="#0000c7" d="M489.3 850.6 496.1 848.8 490.9 850.2 484.1 852.0z"/><path fill="#78ff87" d="M789.2 769.2 796.0 767.3 790.8 764.0 784.0 765.9z"/><path fill="#a7ff58" d="M734.4 757.3 741.1 753.2 735.9 736.7 729.1 742.3z"/><path fill="#78ff87" d="M648.7 768.2 655.5 763.4 650.2 758.4 643.4 764.8z"/><path fill="#18ffe7" d="M324.8 787.2 331.5 789.7 326.3 780.0 319.5 778.8z"/><path fill="#78ff87" d="M269.9 769.4 276.7 767.7 271.4 765.1 264.7 766.9z"/><path fill="#18ffe7" d="M563.0 783.9 569.8 778.0 564.5 778.9 557.8 786.2z"/><path fill="#000087" d="M458.5 868.2 465.3 863.0 460.1 867.2 453.3 870.3z"/><path fill="#000087" d="M415.7 876.7 422.5 878.4 417.2 877.1 410.4 875.4z"/><path fill="#78ff87" d="M605.8 770.4 612.6 768.1 607.4 765.8 600.6 768.4z"/><path fill="#0058ff" d="M532.2 819.5 539.0 808.6 533.7 813.1 526.9 825.2z"/><path fill="#b7ff48" d="M691.5 754.1 698.3 740.6 693.1 728.1 686.3 743.7z"/><path fill="#97ff68" d="M746.4 763.7 753.2 760.9 747.9 749.7 741.1 753.2z"/><path fill="#0000d7" d="M501.4 847.3 508.1 845.5 502.9 846.9 496.1 848.8z"/><path fill="#00d7ff" d="M336.8 800.9 343.6 804.9 338.3 792.5 331.5 789.7z"/><path fill="#78ff87" d="M281.9 770.6 288.7 769.3 283.5 766.2 276.7 767.7z"/><path fill="#87ff78" d="M660.7 767.6 667.5 760.9 662.2 754.4 655.5 763.4z"/><path fill="#00a7ff" d="M348.8 809.9 355.6 812.9 350.3 809.0 343.6 804.9z"/><path fill="#000087" d="M427.7 879.7 434.5 877.8 429.2 879.9 422.5 878.4z"/><path fill="#87ff78" d="M758.4 767.5 765.2 765.4 759.9 758.4 753.2 760.9z"/><path fill="#78ff87" d="M617.9 770.4 624.6 768.2 619.4 765.7 612.6 768.1z"/><path fill="#48ffb7" d="M575.0 777.3 581.8 773.2 576.6 772.9 569.8 778.0z"/><path fill="#c7ff38" d="M703.5 753.4 710.3 742.3 705.1 726.9 698.3 740.6z"/><path fill="#0000a7" d="M470.5 858.8 477.3 853.8 472.1 857.5 465.3 863.0z"/><path fill="#0078ff" d="M360.8 820.8 367.6 827.6 362.4 822.4 355.6 812.9z"/><path fill="#0000d7" d="M513.4 844.1 520.2 837.2 514.9 842.1 508.1 845.5z"/><path fill="#00b7ff" d="M544.2 803.4 551.0 794.4 545.7 798.1 539.0 808.6z"/><path fill="#68ff97" d="M293.9 772.9 300.7 772.3 295.5 768.1 288.7 769.3z"/><path fill="#78ff87" d="M770.4 769.7 777.2 767.8 772.0 763.3 765.2 765.4z"/><path fill="#0038ff" d="M372.8 834.8 379.6 844.9 374.4 837.1 367.6 827.6z"/><path fill="#87ff78" d="M672.7 766.3 679.5 757.3 674.3 749.1 667.5 760.9z"/><path fill="#78ff87" d="M629.9 770.7 636.7 768.4 631.4 765.5 624.6 768.2z"/><path fill="#000087" d="M439.7 875.7 446.5 873.0 441.3 875.1 434.5 877.8z"/><path fill="#b7ff48" d="M715.6 756.7 722.3 749.0 717.1 731.9 710.3 742.3z"/><path fill="#0000d7" d="M384.9 852.8 391.6 860.6 386.4 855.1 379.6 844.9z"/><path fill="#68ff97" d="M587.0 773.9 593.8 771.0 588.6 769.7 581.8 773.2z"/><path fill="#0000c7" d="M482.6 852.4 489.3 850.6 484.1 852.0 477.3 853.8z"/><path fill="#58ffa7" d="M306.0 777.3 312.7 777.8 307.5 771.9 300.7 772.3z"/><path fill="#000097" d="M396.9 865.9 403.7 872.7 398.4 867.4 391.6 860.6z"/><path fill="#a7ff58" d="M727.6 762.0 734.4 757.3 729.1 742.3 722.3 749.0z"/><path fill="#78ff87" d="M782.4 771.1 789.2 769.2 784.0 765.9 777.2 767.8z"/><path fill="#0028ff" d="M525.4 830.4 532.2 819.5 526.9 825.2 520.2 837.2z"/><path fill="#78ff87" d="M641.9 771.1 648.7 768.2 643.4 764.8 636.7 768.4z"/><path fill="#00f7ff" d="M556.2 790.7 563.0 783.9 557.8 786.2 551.0 794.4z"/><path fill="#97ff68" d="M684.7 764.5 691.5 754.1 686.3 743.7 679.5 757.3z"/><path fill="#78ff87" d="M263.1 770.9 269.9 769.4 264.7 766.9 257.9 768.6z"/><path fill="#000087" d="M451.7 870.9 458.5 868.2 453.3 870.3 446.5 873.0z"/><path fill="#38ffc7" d="M318.0 785.0 324.8 787.2 319.5 778.8 312.7 777.8z"/><path fill="#68ff97" d="M599.1 772.7 605.8 770.4 600.6 768.4 593.8 771.0z"/><path fill="#000087" d="M408.9 875.0 415.7 876.7 410.4 875.4 403.7 872.7z"/><path fill="#87ff78" d="M739.6 766.7 746.4 763.7 741.1 753.2 734.4 757.3z"/><path fill="#0000c7" d="M494.6 849.2 501.4 847.3 496.1 848.8 489.3 850.6z"/><path fill="#00f7ff" d="M330.0 797.0 336.8 800.9 331.5 789.7 324.8 787.2z"/><path fill="#78ff87" d="M653.9 771.2 660.7 767.6 655.5 763.4 648.7 768.2z"/><path fill="#78ff87" d="M275.1 772.1 281.9 770.6 276.7 767.7 269.9 769.4z"/><path fill="#97ff68" d="M696.8 763.4 703.5 753.4 698.3 740.6 691.5 754.1z"/><path fill="#87ff78" d="M751.6 769.8 758.4 767.5 753.2 760.9 746.4 763.7z"/><path fill="#000087" d="M420.9 878.0 427.7 879.7 422.5 878.4 415.7 876.7z"/><path fill="#78ff87" d="M611.1 772.5 617.9 770.4 612.6 768.1 605.8 770.4z"/><path fill="#38ffc7" d="M568.2 782.1 575.0 777.3 569.8 778.0 563.0 783.9z"/><path fill="#00c7ff" d="M342.0 806.8 348.8 809.9 343.6 804.9 336.8 800.9z"/><path fill="#000087" d="M463.8 864.2 470.5 858.8 465.3 863.0 458.5 868.2z"/><path fill="#0087ff" d="M537.4 812.9 544.2 803.4 539.0 808.6 532.2 819.5z"/><path fill="#0000d7" d="M506.6 845.9 513.4 844.1 508.1 845.5 501.4 847.3z"/><path fill="#78ff87" d="M665.9 771.1 672.7 766.3 667.5 760.9 660.7 767.6z"/><path fill="#68ff97" d="M287.2 773.8 293.9 772.9 288.7 769.3 281.9 770.6z"/><path fill="#00a7ff" d="M354.0 812.2 360.8 820.8 355.6 812.9 348.8 809.9z"/><path fill="#97ff68" d="M708.8 764.3 715.6 756.7 710.3 742.3 703.5 753.4z"/><path fill="#78ff87" d="M763.6 771.7 770.4 769.7 765.2 765.4 758.4 767.5z"/><path fill="#78ff87" d="M623.1 772.8 629.9 770.7 624.6 768.2 617.9 770.4z"/><path fill="#000087" d="M432.9 878.4 439.7 875.7 434.5 877.8 427.7 879.7z"/><path fill="#58ffa7" d="M580.3 777.3 587.0 773.9 581.8 773.2 575.0 777.3z"/><path fill="#0068ff" d="M366.1 826.1 372.8 834.8 367.6 827.6 360.8 820.8z"/><path fill="#0000b7" d="M475.8 854.2 482.6 852.4 477.3 853.8 470.5 858.8z"/><path fill="#58ffa7" d="M299.2 777.2 306.0 777.3 300.7 772.3 293.9 772.9z"/><path fill="#97ff68" d="M720.8 767.0 727.6 762.0 722.3 749.0 715.6 756.7z"/><path fill="#0018ff" d="M378.1 842.6 384.9 852.8 379.6 844.9 372.8 834.8z"/><path fill="#0000e7" d="M518.6 840.8 525.4 830.4 520.2 837.2 513.4 844.1z"/><path fill="#78ff87" d="M775.7 772.9 782.4 771.1 777.2 767.8 770.4 769.7z"/><path fill="#87ff78" d="M678.0 770.7 684.7 764.5 679.5 757.3 672.7 766.3z"/><path fill="#00d7ff" d="M549.4 798.2 556.2 790.7 551.0 794.4 544.2 803.4z"/><path fill="#78ff87" d="M635.1 773.2 641.9 771.1 636.7 768.4 629.9 770.7z"/><path fill="#0000c7" d="M390.1 859.1 396.9 865.9 391.6 860.6 384.9 852.8z"/><path fill="#000087" d="M445.0 873.6 451.7 870.9 446.5 873.0 439.7 875.7z"/><path fill="#68ff97" d="M592.3 775.1 599.1 772.7 593.8 771.0 587.0 773.9z"/><path fill="#48ffb7" d="M311.2 783.4 318.0 785.0 312.7 777.8 306.0 777.3z"/><path fill="#87ff78" d="M732.8 770.0 739.6 766.7 734.4 757.3 727.6 762.0z"/><path fill="#0000c7" d="M487.8 851.0 494.6 849.2 489.3 850.6 482.6 852.4z"/><path fill="#000087" d="M402.1 871.1 408.9 875.0 403.7 872.7 396.9 865.9z"/><path fill="#87ff78" d="M690.0 770.4 696.8 763.4 691.5 754.1 684.7 764.5z"/><path fill="#78ff87" d="M647.1 773.6 653.9 771.2 648.7 768.2 641.9 771.1z"/><path fill="#18ffe7" d="M323.2 793.5 330.0 797.0 324.8 787.2 318.0 785.0z"/><path fill="#78ff87" d="M268.4 773.3 275.1 772.1 269.9 769.4 263.1 770.9z"/><path fill="#18ffe7" d="M561.5 787.6 568.2 782.1 563.0 783.9 556.2 790.7z"/><path fill="#78ff87" d="M744.8 772.2 751.6 769.8 746.4 763.7 739.6 766.7z"/><path fill="#0048ff" d="M530.6 822.5 537.4 812.9 532.2 819.5 525.4 830.4z"/><path fill="#78ff87" d="M604.3 774.6 611.1 772.5 605.8 770.4 599.1 772.7z"/><path fill="#000087" d="M457.0 868.8 463.8 864.2 458.5 868.2 451.7 870.9z"/><path fill="#000087" d="M414.1 876.3 420.9 878.0 415.7 876.7 408.9 875.0z"/><path fill="#00d7ff" d="M335.2 803.7 342.0 806.8 336.8 800.9 330.0 797.0z"/><path fill="#0000c7" d="M499.8 847.8 506.6 845.9 501.4 847.3 494.6 849.2z"/><path fill="#87ff78" d="M702.0 770.6 708.8 764.3 703.5 753.4 696.8 763.4z"/><path fill="#78ff87" d="M659.2 774.0 665.9 771.1 660.7 767.6 653.9 771.2z"/><path fill="#78ff87" d="M280.4 775.0 287.2 773.8 281.9 770.6 275.1 772.1z"/><path fill="#78ff87" d="M756.9 773.8 763.6 771.7 758.4 767.5 751.6 769.8z"/><path fill="#78ff87" d="M616.3 774.7 623.1 772.8 617.9 770.4 611.1 772.5z"/><path fill="#00c7ff" d="M347.3 809.2 354.0 812.2 348.8 809.9 342.0 806.8z"/><path fill="#000087" d="M426.2 879.3 432.9 878.4 427.7 879.7 420.9 878.0z"/><path fill="#48ffb7" d="M573.5 781.1 580.3 777.3 575.0 777.3 568.2 782.1z"/><path fill="#0000a7" d="M469.0 860.0 475.8 854.2 470.5 858.8 463.8 864.2z"/><path fill="#87ff78" d="M714.0 771.7 720.8 767.0 715.6 756.7 708.8 764.3z"/><path fill="#0000d7" d="M511.8 844.5 518.6 840.8 513.4 844.1 506.6 845.9z"/><path fill="#00a7ff" d="M542.7 806.2 549.4 798.2 544.2 803.4 537.4 812.9z"/><path fill="#0097ff" d="M359.3 819.3 366.1 826.1 360.8 820.8 354.0 812.2z"/><path fill="#78ff87" d="M671.2 774.2 678.0 770.7 672.7 766.3 665.9 771.1z"/><path fill="#68ff97" d="M292.4 777.5 299.2 777.2 293.9 772.9 287.2 773.8z"/><path fill="#78ff87" d="M768.9 774.8 775.7 772.9 770.4 769.7 763.6 771.7z"/><path fill="#78ff87" d="M628.3 775.1 635.1 773.2 629.9 770.7 623.1 772.8z"/><path fill="#0058ff" d="M371.3 832.4 378.1 842.6 372.8 834.8 366.1 826.1z"/><path fill="#000087" d="M438.2 876.3 445.0 873.6 439.7 875.7 432.9 878.4z"/><path fill="#68ff97" d="M585.5 777.9 592.3 775.1 587.0 773.9 580.3 777.3z"/><path fill="#87ff78" d="M726.0 773.2 732.8 770.0 727.6 762.0 720.8 767.0z"/><path fill="#0000f7" d="M383.3 850.5 390.1 859.1 384.9 852.8 378.1 842.6z"/><path fill="#58ffa7" d="M304.4 782.3 311.2 783.4 306.0 777.3 299.2 777.2z"/><path fill="#0000c7" d="M481.0 852.8 487.8 851.0 482.6 852.4 475.8 854.2z"/><path fill="#78ff87" d="M683.2 774.4 690.0 770.4 684.7 764.5 678.0 770.7z"/><path fill="#0000a7" d="M395.3 864.3 402.1 871.1 396.9 865.9 390.1 859.1z"/><path fill="#78ff87" d="M640.4 775.6 647.1 773.6 641.9 771.1 635.1 773.2z"/><path fill="#0018ff" d="M523.9 832.0 530.6 822.5 525.4 830.4 518.6 840.8z"/><path fill="#00f7ff" d="M554.7 793.7 561.5 787.6 556.2 790.7 549.4 798.2z"/><path fill="#28ffd7" d="M316.4 790.5 323.2 793.5 318.0 785.0 311.2 783.4z"/><path fill="#78ff87" d="M738.1 774.7 744.8 772.2 739.6 766.7 732.8 770.0z"/><path fill="#68ff97" d="M597.5 776.7 604.3 774.6 599.1 772.7 592.3 775.1z"/><path fill="#000087" d="M450.2 871.5 457.0 868.8 451.7 870.9 445.0 873.6z"/><path fill="#000087" d="M407.4 874.6 414.1 876.3 408.9 875.0 402.1 871.1z"/><path fill="#78ff87" d="M695.2 774.8 702.0 770.6 696.8 763.4 690.0 770.4z"/><path fill="#0000c7" d="M493.0 849.6 499.8 847.8 494.6 849.2 487.8 851.0z"/><path fill="#00f7ff" d="M328.5 800.6 335.2 803.7 330.0 797.0 323.2 793.5z"/><path fill="#78ff87" d="M652.4 776.1 659.2 774.0 653.9 771.2 647.1 773.6z"/><path fill="#78ff87" d="M273.6 775.7 280.4 775.0 275.1 772.1 268.4 773.3z"/><path fill="#78ff87" d="M750.1 775.8 756.9 773.8 751.6 769.8 744.8 772.2z"/><path fill="#78ff87" d="M609.5 776.7 616.3 774.7 611.1 772.5 604.3 774.6z"/><path fill="#38ffc7" d="M566.7 785.4 573.5 781.1 568.2 782.1 561.5 787.6z"/><path fill="#000087" d="M419.4 877.6 426.2 879.3 420.9 878.0 414.1 876.3z"/><path fill="#00d7ff" d="M340.5 806.1 347.3 809.2 342.0 806.8 335.2 803.7z"/><path fill="#000087" d="M462.2 865.4 469.0 860.0 463.8 864.2 457.0 868.8z"/><path fill="#0078ff" d="M535.9 814.5 542.7 806.2 537.4 812.9 530.6 822.5z"/><path fill="#78ff87" d="M707.2 775.4 714.0 771.7 708.8 764.3 702.0 770.6z"/><path fill="#0000c7" d="M505.1 846.4 511.8 844.5 506.6 845.9 499.8 847.8z"/><path fill="#78ff87" d="M664.4 776.6 671.2 774.2 665.9 771.1 659.2 774.0z"/><path fill="#68ff97" d="M285.6 778.2 292.4 777.5 287.2 773.8 280.4 775.0z"/><path fill="#78ff87" d="M762.1 776.7 768.9 774.8 763.6 771.7 756.9 773.8z"/><path fill="#00c7ff" d="M352.5 811.5 359.3 819.3 354.0 812.2 347.3 809.2z"/><path fill="#78ff87" d="M621.6 777.0 628.3 775.1 623.1 772.8 616.3 774.7z"/><path fill="#000087" d="M431.4 879.0 438.2 876.3 432.9 878.4 426.2 879.3z"/><path fill="#58ffa7" d="M578.7 781.0 585.5 777.9 580.3 777.3 573.5 781.1z"/><path fill="#78ff87" d="M719.3 776.2 726.0 773.2 720.8 767.0 714.0 771.7z"/><path fill="#0087ff" d="M364.5 824.5 371.3 832.4 366.1 826.1 359.3 819.3z"/><path fill="#0000b7" d="M474.2 854.6 481.0 852.8 475.8 854.2 469.0 860.0z"/><path fill="#58ffa7" d="M297.6 781.8 304.4 782.3 299.2 777.2 292.4 777.5z"/><path fill="#78ff87" d="M676.4 777.0 683.2 774.4 678.0 770.7 671.2 774.2z"/><path fill="#0000e7" d="M517.1 841.0 523.9 832.0 518.6 840.8 511.8 844.5z"/><path fill="#00d7ff" d="M547.9 800.2 554.7 793.7 549.4 798.2 542.7 806.2z"/><path fill="#0038ff" d="M376.5 840.3 383.3 850.5 378.1 842.6 371.3 832.4z"/><path fill="#78ff87" d="M633.6 777.5 640.4 775.6 635.1 773.2 628.3 775.1z"/><path fill="#78ff87" d="M731.3 777.1 738.1 774.7 732.8 770.0 726.0 773.2z"/><path fill="#68ff97" d="M590.7 779.1 597.5 776.7 592.3 775.1 585.5 777.9z"/><path fill="#0000d7" d="M388.6 857.6 395.3 864.3 390.1 859.1 383.3 850.5z"/><path fill="#000087" d="M443.4 874.2 450.2 871.5 445.0 873.6 438.2 876.3z"/><path fill="#38ffc7" d="M309.7 788.2 316.4 790.5 311.2 783.4 304.4 782.3z"/><path fill="#78ff87" d="M688.4 777.5 695.2 774.8 690.0 770.4 683.2 774.4z"/><path fill="#0000b7" d="M486.3 851.4 493.0 849.6 487.8 851.0 481.0 852.8z"/><path fill="#000097" d="M400.6 869.6 407.4 874.6 402.1 871.1 395.3 864.3z"/><path fill="#78ff87" d="M645.6 778.0 652.4 776.1 647.1 773.6 640.4 775.6z"/><path fill="#18ffe7" d="M321.7 797.5 328.5 800.6 323.2 793.5 316.4 790.5z"/><path fill="#78ff87" d="M743.3 777.9 750.1 775.8 744.8 772.2 738.1 774.7z"/><path fill="#18ffe7" d="M559.9 790.3 566.7 785.4 561.5 787.6 554.7 793.7z"/><path fill="#78ff87" d="M602.8 778.7 609.5 776.7 604.3 774.6 597.5 776.7z"/><path fill="#0048ff" d="M529.1 822.8 535.9 814.5 530.6 822.5 523.9 832.0z"/><path fill="#000087" d="M455.4 869.4 462.2 865.4 457.0 868.8 450.2 871.5z"/><path fill="#78ff87" d="M700.5 778.1 707.2 775.4 702.0 770.6 695.2 774.8z"/><path fill="#000087" d="M412.6 875.9 419.4 877.6 414.1 876.3 407.4 874.6z"/><path fill="#00f7ff" d="M333.7 803.0 340.5 806.1 335.2 803.7 328.5 800.6z"/><path fill="#0000c7" d="M498.3 848.2 505.1 846.4 499.8 847.8 493.0 849.6z"/><path fill="#78ff87" d="M657.6 778.6 664.4 776.6 659.2 774.0 652.4 776.1z"/><path fill="#78ff87" d="M278.8 778.1 285.6 778.2 280.4 775.0 273.6 775.7z"/><path fill="#78ff87" d="M755.3 778.7 762.1 776.7 756.9 773.8 750.1 775.8z"/><path fill="#78ff87" d="M614.8 778.9 621.6 777.0 616.3 774.7 609.5 776.7z"/><path fill="#48ffb7" d="M571.9 784.4 578.7 781.0 573.5 781.1 566.7 785.4z"/><path fill="#00d7ff" d="M345.7 808.5 352.5 811.5 347.3 809.2 340.5 806.1z"/><path fill="#000087" d="M424.6 878.9 431.4 879.0 426.2 879.3 419.4 877.6z"/><path fill="#78ff87" d="M712.5 778.7 719.3 776.2 714.0 771.7 707.2 775.4z"/><path fill="#000097" d="M467.5 861.2 474.2 854.6 469.0 860.0 462.2 865.4z"/><path fill="#78ff87" d="M669.6 779.1 676.4 777.0 671.2 774.2 664.4 776.6z"/><path fill="#00b7ff" d="M541.1 807.1 547.9 800.2 542.7 806.2 535.9 814.5z"/><path fill="#68ff97" d="M290.9 781.9 297.6 781.8 292.4 777.5 285.6 778.2z"/><path fill="#0000c7" d="M510.3 844.9 517.1 841.0 511.8 844.5 505.1 846.4z"/><path fill="#00b7ff" d="M357.7 817.7 364.5 824.5 359.3 819.3 352.5 811.5z"/><path fill="#78ff87" d="M626.8 779.4 633.6 777.5 628.3 775.1 621.6 777.0z"/><path fill="#78ff87" d="M724.5 779.3 731.3 777.1 726.0 773.2 719.3 776.2z"/><path fill="#68ff97" d="M584.0 781.6 590.7 779.1 585.5 777.9 578.7 781.0z"/><path fill="#000087" d="M436.6 876.9 443.4 874.2 438.2 876.3 431.4 879.0z"/><path fill="#0078ff" d="M369.8 830.1 376.5 840.3 371.3 832.4 364.5 824.5z"/><path fill="#48ffb7" d="M302.9 786.7 309.7 788.2 304.4 782.3 297.6 781.8z"/><path fill="#78ff87" d="M681.7 779.6 688.4 777.5 683.2 774.4 676.4 777.0z"/><path fill="#0018ff" d="M381.8 848.2 388.6 857.6 383.3 850.5 376.5 840.3z"/><path fill="#0000b7" d="M479.5 853.2 486.3 851.4 481.0 852.8 474.2 854.6z"/><path fill="#78ff87" d="M638.8 779.9 645.6 778.0 640.4 775.6 633.6 777.5z"/><path fill="#08fff7" d="M553.1 795.5 559.9 790.3 554.7 793.7 547.9 800.2z"/><path fill="#0018ff" d="M522.3 830.9 529.1 822.8 523.9 832.0 517.1 841.0z"/><path fill="#0000c7" d="M393.8 862.8 400.6 869.6 395.3 864.3 388.6 857.6z"/><path fill="#78ff87" d="M736.5 780.0 743.3 777.9 738.1 774.7 731.3 777.1z"/><path fill="#28ffd7" d="M314.9 794.5 321.7 797.5 316.4 790.5 309.7 788.2z"/><path fill="#78ff87" d="M596.0 780.7 602.8 778.7 597.5 776.7 590.7 779.1z"/><path fill="#000087" d="M448.7 872.1 455.4 869.4 450.2 871.5 443.4 874.2z"/><path fill="#78ff87" d="M693.7 780.2 700.5 778.1 695.2 774.8 688.4 777.5z"/><path fill="#000087" d="M405.8 874.2 412.6 875.9 407.4 874.6 400.6 869.6z"/><path fill="#0000b7" d="M491.5 850.0 498.3 848.2 493.0 849.6 486.3 851.4z"/><path fill="#18ffe7" d="M326.9 799.9 333.7 803.0 328.5 800.6 321.7 797.5z"/><path fill="#78ff87" d="M650.8 780.4 657.6 778.6 652.4 776.1 645.6 778.0z"/><path fill="#78ff87" d="M748.5 780.6 755.3 778.7 750.1 775.8 743.3 777.9z"/><path fill="#78ff87" d="M608.0 780.8 614.8 778.9 609.5 776.7 602.8 778.7z"/><path fill="#38ffc7" d="M565.2 788.2 571.9 784.4 566.7 785.4 559.9 790.3z"/><path fill="#78ff87" d="M705.7 780.8 712.5 778.7 707.2 775.4 700.5 778.1z"/><path fill="#000087" d="M417.8 877.2 424.6 878.9 419.4 877.6 412.6 875.9z"/><path fill="#000087" d="M460.7 866.7 467.5 861.2 462.2 865.4 455.4 869.4z"/><path fill="#00f7ff" d="M338.9 805.4 345.7 808.5 340.5 806.1 333.7 803.0z"/><path fill="#0087ff" d="M534.3 814.2 541.1 807.1 535.9 814.5 529.1 822.8z"/><path fill="#78ff87" d="M662.9 781.0 669.6 779.1 664.4 776.6 657.6 778.6z"/><path fill="#0000c7" d="M503.5 846.8 510.3 844.9 505.1 846.4 498.3 848.2z"/><path fill="#78ff87" d="M284.1 780.5 290.9 781.9 285.6 778.2 278.8 778.1z"/><path fill="#78ff87" d="M620.0 781.2 626.8 779.4 621.6 777.0 614.8 778.9z"/><path fill="#00d7ff" d="M351.0 810.8 357.7 817.7 352.5 811.5 345.7 808.5z"/><path fill="#78ff87" d="M717.7 781.3 724.5 779.3 719.3 776.2 712.5 778.7z"/><path fill="#58ffa7" d="M577.2 784.4 584.0 781.6 578.7 781.0 571.9 784.4z"/><path fill="#000087" d="M429.9 879.7 436.6 876.9 431.4 879.0 424.6 878.9z"/><path fill="#78ff87" d="M674.9 781.5 681.7 779.6 676.4 777.0 669.6 779.1z"/><path fill="#58ffa7" d="M296.1 785.9 302.9 786.7 297.6 781.8 290.9 781.9z"/><path fill="#0000a7" d="M472.7 857.0 479.5 853.2 474.2 854.6 467.5 861.2z"/><path fill="#0097ff" d="M363.0 823.0 369.8 830.1 364.5 824.5 357.7 817.7z"/><path fill="#0000e7" d="M515.5 838.8 522.3 830.9 517.1 841.0 510.3 844.9z"/><path fill="#78ff87" d="M632.0 781.7 638.8 779.9 633.6 777.5 626.8 779.4z"/><path fill="#00e7ff" d="M546.4 801.1 553.1 795.5 547.9 800.2 541.1 807.1z"/><path fill="#0058ff" d="M375.0 838.0 381.8 848.2 376.5 840.3 369.8 830.1z"/><path fill="#78ff87" d="M729.7 781.9 736.5 780.0 731.3 777.1 724.5 779.3z"/><path fill="#68ff97" d="M589.2 782.9 596.0 780.7 590.7 779.1 584.0 781.6z"/><path fill="#48ffb7" d="M308.1 791.4 314.9 794.5 309.7 788.2 302.9 786.7z"/><path fill="#000087" d="M441.9 874.8 448.7 872.1 443.4 874.2 436.6 876.9z"/><path fill="#0000e7" d="M387.0 856.0 393.8 862.8 388.6 857.6 381.8 848.2z"/><path fill="#78ff87" d="M686.9 782.1 693.7 780.2 688.4 777.5 681.7 779.6z"/><path fill="#0000b7" d="M484.7 851.8 491.5 850.0 486.3 851.4 479.5 853.2z"/><path fill="#78ff87" d="M644.1 782.3 650.8 780.4 645.6 778.0 638.8 779.9z"/><path fill="#0000a7" d="M399.0 868.0 405.8 874.2 400.6 869.6 393.8 862.8z"/><path fill="#28ffd7" d="M320.1 796.8 326.9 799.9 321.7 797.5 314.9 794.5z"/><path fill="#78ff87" d="M741.8 782.5 748.5 780.6 743.3 777.9 736.5 780.0z"/><path fill="#28ffd7" d="M558.4 792.3 565.2 788.2 559.9 790.3 553.1 795.5z"/><path fill="#78ff87" d="M601.2 782.7 608.0 780.8 602.8 778.7 596.0 780.7z"/><path fill="#78ff87" d="M698.9 782.7 705.7 780.8 700.5 778.1 693.7 780.2z"/><path fill="#0058ff" d="M527.6 821.3 534.3 814.2 529.1 822.8 522.3 830.9z"/><path fill="#000087" d="M453.9 870.0 460.7 866.7 455.4 869.4 448.7 872.1z"/><path fill="#000087" d="M411.1 875.5 417.8 877.2 412.6 875.9 405.8 874.2z"/><path fill="#18ffe7" d="M332.2 802.3 338.9 805.4 333.7 803.0 326.9 799.9z"/><path fill="#78ff87" d="M656.1 782.8 662.9 781.0 657.6 778.6 650.8 780.4z"/><path fill="#0000b7" d="M496.7 848.6 503.5 846.8 498.3 848.2 491.5 850.0z"/><path fill="#78ff87" d="M613.2 783.0 620.0 781.2 614.8 778.9 608.0 780.8z"/><path fill="#78ff87" d="M710.9 783.2 717.7 781.3 712.5 778.7 705.7 780.8z"/><path fill="#58ffa7" d="M570.4 787.4 577.2 784.4 571.9 784.4 565.2 788.2z"/><path fill="#000087" d="M423.1 878.5 429.9 879.7 424.6 878.9 417.8 877.2z"/><path fill="#00f7ff" d="M344.2 807.8 351.0 810.8 345.7 808.5 338.9 805.4z"/><path fill="#78ff87" d="M668.1 783.4 674.9 781.5 669.6 779.1 662.9 781.0z"/><path fill="#000087" d="M465.9 862.5 472.7 857.0 467.5 861.2 460.7 866.7z"/><path fill="#78ff87" d="M289.3 782.8 296.1 785.9 290.9 781.9 284.1 780.5z"/><path fill="#00c7ff" d="M539.6 806.9 546.4 801.1 541.1 807.1 534.3 814.2z"/><path fill="#0000c7" d="M508.8 845.4 515.5 838.8 510.3 844.9 503.5 846.8z"/><path fill="#78ff87" d="M625.3 783.5 632.0 781.7 626.8 779.4 620.0 781.2z"/><path fill="#00d7ff" d="M356.2 813.2 363.0 823.0 357.7 817.7 351.0 810.8z"/><path fill="#78ff87" d="M723.0 783.8 729.7 781.9 724.5 779.3 717.7 781.3z"/><path fill="#68ff97" d="M582.4 785.2 589.2 782.9 584.0 781.6 577.2 784.4z"/><path fill="#000087" d="M435.1 877.6 441.9 874.8 436.6 876.9 429.9 879.7z"/><path fill="#58ffa7" d="M301.3 788.3 308.1 791.4 302.9 786.7 296.1 785.9z"/><path fill="#78ff87" d="M680.1 783.9 686.9 782.1 681.7 779.6 674.9 781.5z"/><path fill="#0087ff" d="M368.2 828.2 375.0 838.0 369.8 830.1 363.0 823.0z"/><path fill="#0000a7" d="M477.9 853.6 484.7 851.8 479.5 853.2 472.7 857.0z"/><path fill="#0028ff" d="M380.2 845.9 387.0 856.0 381.8 848.2 375.0 838.0z"/><path fill="#78ff87" d="M637.3 784.1 644.1 782.3 638.8 779.9 632.0 781.7z"/><path fill="#78ff87" d="M735.0 784.4 741.8 782.5 736.5 780.0 729.7 781.9z"/><path fill="#18ffe7" d="M551.6 796.7 558.4 792.3 553.1 795.5 546.4 801.1z"/><path fill="#48ffb7" d="M313.4 793.8 320.1 796.8 314.9 794.5 308.1 791.4z"/><path fill="#78ff87" d="M594.4 784.6 601.2 782.7 596.0 780.7 589.2 782.9z"/><path fill="#0038ff" d="M520.8 828.5 527.6 821.3 522.3 830.9 515.5 838.8z"/><path fill="#0000d7" d="M392.3 861.3 399.0 868.0 393.8 862.8 387.0 856.0z"/><path fill="#78ff87" d="M692.1 784.5 698.9 782.7 693.7 780.2 686.9 782.1z"/><path fill="#000087" d="M447.1 872.8 453.9 870.0 448.7 872.1 441.9 874.8z"/><path fill="#78ff87" d="M649.3 784.7 656.1 782.8 650.8 780.4 644.1 782.3z"/><path fill="#000087" d="M404.3 873.3 411.1 875.5 405.8 874.2 399.0 868.0z"/><path fill="#0000b7" d="M490.0 850.4 496.7 848.6 491.5 850.0 484.7 851.8z"/><path fill="#28ffd7" d="M325.4 799.2 332.2 802.3 326.9 799.9 320.1 796.8z"/><path fill="#78ff87" d="M606.5 784.9 613.2 783.0 608.0 780.8 601.2 782.7z"/><path fill="#48ffb7" d="M563.6 790.6 570.4 787.4 565.2 788.2 558.4 792.3z"/><path fill="#78ff87" d="M704.2 785.1 710.9 783.2 705.7 780.8 698.9 782.7z"/><path fill="#000087" d="M459.1 867.9 465.9 862.5 460.7 866.7 453.9 870.0z"/><path fill="#000087" d="M416.3 876.8 423.1 878.5 417.8 877.2 411.1 875.5z"/><path fill="#08fff7" d="M337.4 804.7 344.2 807.8 338.9 805.4 332.2 802.3z"/><path fill="#78ff87" d="M661.3 785.2 668.1 783.4 662.9 781.0 656.1 782.8z"/><path fill="#00a7ff" d="M532.8 813.0 539.6 806.9 534.3 814.2 527.6 821.3z"/><path fill="#0000b7" d="M502.0 847.2 508.8 845.4 503.5 846.8 496.7 848.6z"/><path fill="#78ff87" d="M618.5 785.4 625.3 783.5 620.0 781.2 613.2 783.0z"/><path fill="#78ff87" d="M716.2 785.6 723.0 783.8 717.7 781.3 710.9 783.2z"/><path fill="#68ff97" d="M575.6 787.6 582.4 785.2 577.2 784.4 570.4 787.4z"/><path fill="#00f7ff" d="M349.4 810.1 356.2 813.2 351.0 810.8 344.2 807.8z"/><path fill="#000087" d="M428.3 879.8 435.1 877.6 429.9 879.7 423.1 878.5z"/><path fill="#78ff87" d="M673.3 785.8 680.1 783.9 674.9 781.5 668.1 783.4z"/><path fill="#78ff87" d="M294.6 785.2 301.3 788.3 296.1 785.9 289.3 782.8z"/><path fill="#000087" d="M471.2 858.3 477.9 853.6 472.7 857.0 465.9 862.5z"/><path fill="#00b7ff" d="M361.4 821.4 368.2 828.2 363.0 823.0 356.2 813.2z"/><path fill="#78ff87" d="M630.5 785.9 637.3 784.1 632.0 781.7 625.3 783.5z"/><path fill="#00f7ff" d="M544.8 801.3 551.6 796.7 546.4 801.1 539.6 806.9z"/><path fill="#78ff87" d="M728.2 786.2 735.0 784.4 729.7 781.9 723.0 783.8z"/><path fill="#0008ff" d="M514.0 835.5 520.8 828.5 515.5 838.8 508.8 845.4z"/><path fill="#78ff87" d="M587.7 786.6 594.4 784.6 589.2 782.9 582.4 785.2z"/><path fill="#0068ff" d="M373.5 835.7 380.2 845.9 375.0 838.0 368.2 828.2z"/><path fill="#58ffa7" d="M306.6 790.7 313.4 793.8 308.1 791.4 301.3 788.3z"/><path fill="#78ff87" d="M685.4 786.3 692.1 784.5 686.9 782.1 680.1 783.9z"/><path fill="#000087" d="M440.3 875.5 447.1 872.8 441.9 874.8 435.1 877.6z"/><path fill="#0008ff" d="M385.5 853.7 392.3 861.3 387.0 856.0 380.2 845.9z"/><path fill="#78ff87" d="M642.5 786.5 649.3 784.7 644.1 782.3 637.3 784.1z"/><path fill="#0000a7" d="M483.2 852.2 490.0 850.4 484.7 851.8 477.9 853.6z"/><path fill="#0000a7" d="M397.5 866.5 404.3 873.3 399.0 868.0 392.3 861.3z"/><path fill="#48ffb7" d="M318.6 796.1 325.4 799.2 320.1 796.8 313.4 793.8z"/><path fill="#78ff87" d="M599.7 786.7 606.5 784.9 601.2 782.7 594.4 784.6z"/><path fill="#38ffc7" d="M556.8 793.9 563.6 790.6 558.4 792.3 551.6 796.7z"/><path fill="#78ff87" d="M697.4 786.9 704.2 785.1 698.9 782.7 692.1 784.5z"/><path fill="#000087" d="M452.4 870.7 459.1 867.9 453.9 870.0 447.1 872.8z"/><path fill="#0078ff" d="M526.0 819.1 532.8 813.0 527.6 821.3 520.8 828.5z"/><path fill="#78ff87" d="M654.5 787.0 661.3 785.2 656.1 782.8 649.3 784.7z"/><path fill="#000087" d="M409.5 875.1 416.3 876.8 411.1 875.5 404.3 873.3z"/><path fill="#28ffd7" d="M330.6 801.6 337.4 804.7 332.2 802.3 325.4 799.2z"/><path fill="#0000b7" d="M495.2 849.0 502.0 847.2 496.7 848.6 490.0 850.4z"/><path fill="#78ff87" d="M611.7 787.2 618.5 785.4 613.2 783.0 606.5 784.9z"/><path fill="#78ff87" d="M709.4 787.5 716.2 785.6 710.9 783.2 704.2 785.1z"/><path fill="#68ff97" d="M568.9 789.9 575.6 787.6 570.4 787.4 563.6 790.6z"/><path fill="#000087" d="M421.5 878.1 428.3 879.8 423.1 878.5 416.3 876.8z"/><path fill="#08fff7" d="M342.6 807.1 349.4 810.1 344.2 807.8 337.4 804.7z"/><path fill="#78ff87" d="M666.6 787.6 673.3 785.8 668.1 783.4 661.3 785.2z"/><path fill="#000087" d="M464.4 863.7 471.2 858.3 465.9 862.5 459.1 867.9z"/><path fill="#78ff87" d="M623.7 787.7 630.5 785.9 625.3 783.5 618.5 785.4z"/><path fill="#00e7ff" d="M538.0 806.1 544.8 801.3 539.6 806.9 532.8 813.0z"/><path fill="#0000d7" d="M507.2 842.5 514.0 835.5 508.8 845.4 502.0 847.2z"/><path fill="#78ff87" d="M721.4 788.0 728.2 786.2 723.0 783.8 716.2 785.6z"/><path fill="#00f7ff" d="M354.7 812.5 361.4 821.4 356.2 813.2 349.4 810.1z"/><path fill="#78ff87" d="M580.9 788.5 587.7 786.6 582.4 785.2 575.6 787.6z"/><path fill="#000087" d="M433.6 878.2 440.3 875.5 435.1 877.6 428.3 879.8z"/><path fill="#78ff87" d="M678.6 788.2 685.4 786.3 680.1 783.9 673.3 785.8z"/><path fill="#78ff87" d="M299.8 787.6 306.6 790.7 301.3 788.3 294.6 785.2z"/><path fill="#00a7ff" d="M366.7 826.7 373.5 835.7 368.2 828.2 361.4 821.4z"/><path fill="#78ff87" d="M635.7 788.3 642.5 786.5 637.3 784.1 630.5 785.9z"/><path fill="#000097" d="M476.4 854.0 483.2 852.2 477.9 853.6 471.2 858.3z"/><path fill="#0048ff" d="M378.7 843.5 385.5 853.7 380.2 845.9 373.5 835.7z"/><path fill="#78ff87" d="M592.9 788.5 599.7 786.7 594.4 784.6 587.7 786.6z"/><path fill="#28ffd7" d="M550.1 797.2 556.8 793.9 551.6 796.7 544.8 801.3z"/><path fill="#58ffa7" d="M311.8 793.1 318.6 796.1 313.4 793.8 306.6 790.7z"/><path fill="#78ff87" d="M690.6 788.7 697.4 786.9 692.1 784.5 685.4 786.3z"/><path fill="#0000d7" d="M390.7 859.7 397.5 866.5 392.3 861.3 385.5 853.7z"/><path fill="#0058ff" d="M519.2 825.3 526.0 819.1 520.8 828.5 514.0 835.5z"/><path fill="#000087" d="M445.6 873.4 452.4 870.7 447.1 872.8 440.3 875.5z"/><path fill="#78ff87" d="M647.8 788.9 654.5 787.0 649.3 784.7 642.5 786.5z"/><path fill="#0000a7" d="M488.4 850.8 495.2 849.0 490.0 850.4 483.2 852.2z"/><path fill="#000087" d="M402.7 871.7 409.5 875.1 404.3 873.3 397.5 866.5z"/><path fill="#48ffb7" d="M323.8 798.5 330.6 801.6 325.4 799.2 318.6 796.1z"/><path fill="#78ff87" d="M604.9 789.0 611.7 787.2 606.5 784.9 599.7 786.7z"/><path fill="#78ff87" d="M702.6 789.3 709.4 787.5 704.2 785.1 697.4 786.9z"/><path fill="#58ffa7" d="M562.1 792.1 568.9 789.9 563.6 790.6 556.8 793.9z"/><path fill="#78ff87" d="M659.8 789.4 666.6 787.6 661.3 785.2 654.5 787.0z"/><path fill="#000087" d="M457.6 868.6 464.4 863.7 459.1 867.9 452.4 870.7z"/><path fill="#000087" d="M414.8 876.4 421.5 878.1 416.3 876.8 409.5 875.1z"/><path fill="#28ffd7" d="M335.9 804.0 342.6 807.1 337.4 804.7 330.6 801.6z"/><path fill="#00c7ff" d="M531.3 810.8 538.0 806.1 532.8 813.0 526.0 819.1z"/><path fill="#78ff87" d="M616.9 789.6 623.7 787.7 618.5 785.4 611.7 787.2z"/><path fill="#0000b7" d="M500.4 847.6 507.2 842.5 502.0 847.2 495.2 849.0z"/><path fill="#78ff87" d="M714.6 789.8 721.4 788.0 716.2 785.6 709.4 787.5z"/><path fill="#78ff87" d="M574.1 790.3 580.9 788.5 575.6 787.6 568.9 789.9z"/><path fill="#08fff7" d="M347.9 809.4 354.7 812.5 349.4 810.1 342.6 807.1z"/><path fill="#78ff87" d="M671.8 790.0 678.6 788.2 673.3 785.8 666.6 787.6z"/><path fill="#000087" d="M426.8 879.4 433.6 878.2 428.3 879.8 421.5 878.1z"/><path fill="#000087" d="M469.6 859.5 476.4 854.0 471.2 858.3 464.4 863.7z"/><path fill="#78ff87" d="M629.0 790.1 635.7 788.3 630.5 785.9 623.7 787.7z"/><path fill="#00d7ff" d="M359.9 819.9 366.7 826.7 361.4 821.4 354.7 812.5z"/><path fill="#28ffd7" d="M543.3 800.2 550.1 797.2 544.8 801.3 538.0 806.1z"/><path fill="#78ff87" d="M586.1 790.3 592.9 788.5 587.7 786.6 580.9 788.5z"/><path fill="#0038ff" d="M512.5 831.4 519.2 825.3 514.0 835.5 507.2 842.5z"/><path fill="#78ff87" d="M683.8 790.5 690.6 788.7 685.4 786.3 678.6 788.2z"/><path fill="#0087ff" d="M371.9 833.4 378.7 843.5 373.5 835.7 366.7 826.7z"/><path fill="#78ff87" d="M305.0 790.0 311.8 793.1 306.6 790.7 299.8 787.6z"/><path fill="#000087" d="M438.8 876.1 445.6 873.4 440.3 875.5 433.6 878.2z"/><path fill="#78ff87" d="M641.0 790.7 647.8 788.9 642.5 786.5 635.7 788.3z"/><path fill="#0018ff" d="M383.9 851.4 390.7 859.7 385.5 853.7 378.7 843.5z"/><path fill="#0000a7" d="M481.6 852.6 488.4 850.8 483.2 852.2 476.4 854.0z"/><path fill="#78ff87" d="M598.1 790.8 604.9 789.0 599.7 786.7 592.9 788.5z"/><path fill="#58ffa7" d="M317.1 795.4 323.8 798.5 318.6 796.1 311.8 793.1z"/><path fill="#0000b7" d="M396.0 865.0 402.7 871.7 397.5 866.5 390.7 859.7z"/><path fill="#78ff87" d="M695.8 791.1 702.6 789.3 697.4 786.9 690.6 788.7z"/><path fill="#58ffa7" d="M555.3 794.0 562.1 792.1 556.8 793.9 550.1 797.2z"/><path fill="#000087" d="M450.8 871.3 457.6 868.6 452.4 870.7 445.6 873.4z"/><path fill="#78ff87" d="M653.0 791.2 659.8 789.4 654.5 787.0 647.8 788.9z"/><path fill="#00b7ff" d="M524.5 815.2 531.3 810.8 526.0 819.1 519.2 825.3z"/><path fill="#000087" d="M408.0 874.7 414.8 876.4 409.5 875.1 402.7 871.7z"/><path fill="#48ffb7" d="M329.1 800.9 335.9 804.0 330.6 801.6 323.8 798.5z"/><path fill="#0000b7" d="M493.7 849.4 500.4 847.6 495.2 849.0 488.4 850.8z"/><path fill="#78ff87" d="M610.2 791.4 616.9 789.6 611.7 787.2 604.9 789.0z"/><path fill="#78ff87" d="M707.9 791.7 714.6 789.8 709.4 787.5 702.6 789.3z"/><path fill="#78ff87" d="M567.3 792.0 574.1 790.3 568.9 789.9 562.1 792.1z"/><path fill="#78ff87" d="M665.0 791.8 671.8 790.0 666.6 787.6 659.8 789.4z"/><path fill="#000087" d="M420.0 877.7 426.8 879.4 421.5 878.1 414.8 876.4z"/><path fill="#28ffd7" d="M341.1 806.4 347.9 809.4 342.6 807.1 335.9 804.0z"/><path fill="#000087" d="M462.8 864.9 469.6 859.5 464.4 863.7 457.6 868.6z"/><path fill="#78ff87" d="M622.2 791.9 629.0 790.1 623.7 787.7 616.9 789.6z"/><path fill="#18ffe7" d="M536.5 802.6 543.3 800.2 538.0 806.1 531.3 810.8z"/><path fill="#0008ff" d="M505.7 837.1 512.5 831.4 507.2 842.5 500.4 847.6z"/><path fill="#78ff87" d="M579.3 792.1 586.1 790.3 580.9 788.5 574.1 790.3z"/><path fill="#08fff7" d="M353.1 811.8 359.9 819.9 354.7 812.5 347.9 809.4z"/><path fill="#78ff87" d="M677.0 792.4 683.8 790.5 678.6 788.2 671.8 790.0z"/><path fill="#000087" d="M432.0 878.8 438.8 876.1 433.6 878.2 426.8 879.4z"/><path fill="#78ff87" d="M634.2 792.5 641.0 790.7 635.7 788.3 629.0 790.1z"/><path fill="#00b7ff" d="M365.1 825.1 371.9 833.4 366.7 826.7 359.9 819.9z"/><path fill="#000097" d="M474.9 854.5 481.6 852.6 476.4 854.0 469.6 859.5z"/><path fill="#78ff87" d="M591.4 792.6 598.1 790.8 592.9 788.5 586.1 790.3z"/><path fill="#0058ff" d="M377.2 841.2 383.9 851.4 378.7 843.5 371.9 833.4z"/><path fill="#58ffa7" d="M548.5 795.6 555.3 794.0 550.1 797.2 543.3 800.2z"/><path fill="#78ff87" d="M689.1 792.9 695.8 791.1 690.6 788.7 683.8 790.5z"/><path fill="#78ff87" d="M310.3 792.4 317.1 795.4 311.8 793.1 305.0 790.0z"/><path fill="#0000e7" d="M389.2 858.2 396.0 865.0 390.7 859.7 383.9 851.4z"/><path fill="#000087" d="M444.0 874.0 450.8 871.3 445.6 873.4 438.8 876.1z"/><path fill="#78ff87" d="M646.2 793.1 653.0 791.2 647.8 788.9 641.0 790.7z"/><path fill="#00a7ff" d="M517.7 818.9 524.5 815.2 519.2 825.3 512.5 831.4z"/><path fill="#0000a7" d="M486.9 851.2 493.7 849.4 488.4 850.8 481.6 852.6z"/><path fill="#78ff87" d="M603.4 793.2 610.2 791.4 604.9 789.0 598.1 790.8z"/><path fill="#000087" d="M401.2 870.2 408.0 874.7 402.7 871.7 396.0 865.0z"/><path fill="#58ffa7" d="M322.3 797.8 329.1 800.9 323.8 798.5 317.1 795.4z"/><path fill="#78ff87" d="M701.1 793.5 707.9 791.7 702.6 789.3 695.8 791.1z"/><path fill="#78ff87" d="M560.5 793.8 567.3 792.0 562.1 792.1 555.3 794.0z"/><path fill="#78ff87" d="M658.2 793.6 665.0 791.8 659.8 789.4 653.0 791.2z"/><path fill="#000087" d="M456.1 869.2 462.8 864.9 457.6 868.6 450.8 871.3z"/><path fill="#000087" d="M413.2 876.1 420.0 877.7 414.8 876.4 408.0 874.7z"/><path fill="#38ffc7" d="M334.3 803.3 341.1 806.4 335.9 804.0 329.1 800.9z"/><path fill="#78ff87" d="M615.4 793.8 622.2 791.9 616.9 789.6 610.2 791.4z"/><path fill="#28ffd7" d="M529.7 804.2 536.5 802.6 531.3 810.8 524.5 815.2z"/><path fill="#0000f7" d="M498.9 841.9 505.7 837.1 500.4 847.6 493.7 849.4z"/><path fill="#78ff87" d="M572.6 793.9 579.3 792.1 574.1 790.3 567.3 792.0z"/><path fill="#78ff87" d="M670.3 794.2 677.0 792.4 671.8 790.0 665.0 791.8z"/><path fill="#28ffd7" d="M346.3 808.7 353.1 811.8 347.9 809.4 341.1 806.4z"/><path fill="#000087" d="M425.2 879.1 432.0 878.8 426.8 879.4 420.0 877.7z"/><path fill="#78ff87" d="M627.4 794.3 634.2 792.5 629.0 790.1 622.2 791.9z"/><path fill="#000087" d="M468.1 860.7 474.9 854.5 469.6 859.5 462.8 864.9z"/><path fill="#78ff87" d="M584.6 794.5 591.4 792.6 586.1 790.3 579.3 792.1z"/><path fill="#00e7ff" d="M358.4 818.4 365.1 825.1 359.9 819.9 353.1 811.8z"/><path fill="#68ff97" d="M541.7 796.9 548.5 795.6 543.3 800.2 536.5 802.6z"/><path fill="#78ff87" d="M682.3 794.7 689.1 792.9 683.8 790.5 677.0 792.4z"/><path fill="#000087" d="M437.3 876.7 444.0 874.0 438.8 876.1 432.0 878.8z"/><path fill="#0097ff" d="M370.4 831.1 377.2 841.2 371.9 833.4 365.1 825.1z"/><path fill="#0097ff" d="M510.9 821.1 517.7 818.9 512.5 831.4 505.7 837.1z"/><path fill="#78ff87" d="M639.4 794.9 646.2 793.1 641.0 790.7 634.2 792.5z"/><path fill="#0018ff" d="M382.4 849.1 389.2 858.2 383.9 851.4 377.2 841.2z"/><path fill="#0000a7" d="M480.1 853.0 486.9 851.2 481.6 852.6 474.9 854.5z"/><path fill="#78ff87" d="M596.6 795.0 603.4 793.2 598.1 790.8 591.4 792.6z"/><path fill="#78ff87" d="M694.3 795.3 701.1 793.5 695.8 791.1 689.1 792.9z"/><path fill="#78ff87" d="M315.5 794.7 322.3 797.8 317.1 795.4 310.3 792.4z"/><path fill="#78ff87" d="M553.8 795.5 560.5 793.8 555.3 794.0 548.5 795.6z"/><path fill="#0000b7" d="M394.4 862.9 401.2 870.2 396.0 865.0 389.2 858.2z"/><path fill="#78ff87" d="M651.5 795.4 658.2 793.6 653.0 791.2 646.2 793.1z"/><path fill="#000087" d="M449.3 871.9 456.1 869.2 450.8 871.3 444.0 874.0z"/><path fill="#78ff87" d="M608.6 795.6 615.4 793.8 610.2 791.4 603.4 793.2z"/><path fill="#000087" d="M406.4 870.9 413.2 876.1 408.0 874.7 401.2 870.2z"/><path fill="#58ffa7" d="M327.5 800.2 334.3 803.3 329.1 800.9 322.3 797.8z"/><path fill="#28ffd7" d="M522.9 804.8 529.7 804.2 524.5 815.2 517.7 818.9z"/><path fill="#0000e7" d="M492.1 844.6 498.9 841.9 493.7 849.4 486.9 851.2z"/><path fill="#78ff87" d="M565.8 795.8 572.6 793.9 567.3 792.0 560.5 793.8z"/><path fill="#78ff87" d="M663.5 796.0 670.3 794.2 665.0 791.8 658.2 793.6z"/><path fill="#000087" d="M418.5 877.4 425.2 879.1 420.0 877.7 413.2 876.1z"/><path fill="#000087" d="M461.3 866.2 468.1 860.7 462.8 864.9 456.1 869.2z"/><path fill="#38ffc7" d="M339.6 805.7 346.3 808.7 341.1 806.4 334.3 803.3z"/><path fill="#78ff87" d="M620.6 796.1 627.4 794.3 622.2 791.9 615.4 793.8z"/><path fill="#78ff87" d="M577.8 796.3 584.6 794.5 579.3 792.1 572.6 793.9z"/><path fill="#68ff97" d="M535.0 798.2 541.7 796.9 536.5 802.6 529.7 804.2z"/><path fill="#78ff87" d="M675.5 796.6 682.3 794.7 677.0 792.4 670.3 794.2z"/><path fill="#18ffe7" d="M351.6 811.1 358.4 818.4 353.1 811.8 346.3 808.7z"/><path fill="#00a7ff" d="M504.1 821.2 510.9 821.1 505.7 837.1 498.9 841.9z"/><path fill="#000087" d="M430.5 879.4 437.3 876.7 432.0 878.8 425.2 879.1z"/><path fill="#78ff87" d="M632.7 796.7 639.4 794.9 634.2 792.5 627.4 794.3z"/><path fill="#00c7ff" d="M363.6 823.6 370.4 831.1 365.1 825.1 358.4 818.4z"/><path fill="#000097" d="M473.3 856.5 480.1 853.0 474.9 854.5 468.1 860.7z"/><path fill="#78ff87" d="M589.8 796.8 596.6 795.0 591.4 792.6 584.6 794.5z"/><path fill="#78ff87" d="M687.5 797.1 694.3 795.3 689.1 792.9 682.3 794.7z"/><path fill="#0068ff" d="M375.6 838.9 382.4 849.1 377.2 841.2 370.4 831.1z"/><path fill="#78ff87" d="M547.0 797.2 553.8 795.5 548.5 795.6 541.7 796.9z"/><path fill="#78ff87" d="M644.7 797.3 651.5 795.4 646.2 793.1 639.4 794.9z"/><path fill="#000087" d="M442.5 874.6 449.3 871.9 444.0 874.0 437.3 876.7z"/><path fill="#0008ff" d="M387.6 852.1 394.4 862.9 389.2 858.2 382.4 849.1z"/><path fill="#78ff87" d="M601.8 797.4 608.6 795.6 603.4 793.2 596.6 795.0z"/><path fill="#38ffc7" d="M516.2 804.7 522.9 804.8 517.7 818.9 510.9 821.1z"/><path fill="#0000f7" d="M485.3 844.3 492.1 844.6 486.9 851.2 480.1 853.0z"/><path fill="#78ff87" d="M320.8 797.1 327.5 800.2 322.3 797.8 315.5 794.7z"/><path fill="#0000b7" d="M399.7 860.2 406.4 870.9 401.2 870.2 394.4 862.9z"/><path fill="#78ff87" d="M559.0 797.6 565.8 795.8 560.5 793.8 553.8 795.5z"/><path fill="#78ff87" d="M656.7 797.8 663.5 796.0 658.2 793.6 651.5 795.4z"/><path fill="#000087" d="M454.5 869.8 461.3 866.2 456.1 869.2 449.3 871.9z"/><path fill="#78ff87" d="M613.9 798.0 620.6 796.1 615.4 793.8 608.6 795.6z"/><path fill="#000087" d="M411.7 868.0 418.5 877.4 413.2 876.1 406.4 870.9z"/><path fill="#58ffa7" d="M332.8 802.6 339.6 805.7 334.3 803.3 327.5 800.2z"/><path fill="#78ff87" d="M571.0 798.1 577.8 796.3 572.6 793.9 565.8 795.8z"/><path fill="#68ff97" d="M528.2 799.5 535.0 798.2 529.7 804.2 522.9 804.8z"/><path fill="#78ff87" d="M668.7 798.4 675.5 796.6 670.3 794.2 663.5 796.0z"/><path fill="#00c7ff" d="M497.4 819.1 504.1 821.2 498.9 841.9 492.1 844.6z"/><path fill="#38ffc7" d="M344.8 808.0 351.6 811.1 346.3 808.7 339.6 805.7z"/><path fill="#000087" d="M423.7 874.3 430.5 879.4 425.2 879.1 418.5 877.4z"/><path fill="#78ff87" d="M625.9 798.5 632.7 796.7 627.4 794.3 620.6 796.1z"/><path fill="#000087" d="M466.5 862.0 473.3 856.5 468.1 860.7 461.3 866.2z"/><path fill="#78ff87" d="M583.0 798.7 589.8 796.8 584.6 794.5 577.8 796.3z"/><path fill="#78ff87" d="M680.7 798.9 687.5 797.1 682.3 794.7 675.5 796.6z"/><path fill="#18ffe7" d="M356.8 813.5 363.6 823.6 358.4 818.4 351.6 811.1z"/><path fill="#78ff87" d="M540.2 799.0 547.0 797.2 541.7 796.9 535.0 798.2z"/><path fill="#78ff87" d="M637.9 799.1 644.7 797.3 639.4 794.9 632.7 796.7z"/><path fill="#000087" d="M435.7 877.1 442.5 874.6 437.3 876.7 430.5 879.4z"/><path fill="#00b7ff" d="M368.8 828.8 375.6 838.9 370.4 831.1 363.6 823.6z"/><path fill="#78ff87" d="M595.1 799.2 601.8 797.4 596.6 795.0 589.8 796.8z"/><path fill="#0058ff" d="M380.9 841.9 387.6 852.1 382.4 849.1 375.6 838.9z"/><path fill="#48ffb7" d="M509.4 804.6 516.2 804.7 510.9 821.1 504.1 821.2z"/><path fill="#0028ff" d="M478.6 840.4 485.3 844.3 480.1 853.0 473.3 856.5z"/><path fill="#78ff87" d="M552.2 799.4 559.0 797.6 553.8 795.5 547.0 797.2z"/><path fill="#78ff87" d="M649.9 799.6 656.7 797.8 651.5 795.4 644.7 797.3z"/><path fill="#0008ff" d="M392.9 849.6 399.7 860.2 394.4 862.9 387.6 852.1z"/><path fill="#000087" d="M447.7 872.5 454.5 869.8 449.3 871.9 442.5 874.6z"/><path fill="#78ff87" d="M607.1 799.8 613.9 798.0 608.6 795.6 601.8 797.4z"/><path fill="#78ff87" d="M326.0 799.5 332.8 802.6 327.5 800.2 320.8 797.1z"/><path fill="#78ff87" d="M564.2 799.9 571.0 798.1 565.8 795.8 559.0 797.6z"/><path fill="#0000c7" d="M404.9 857.4 411.7 868.0 406.4 870.9 399.7 860.2z"/><path fill="#78ff87" d="M661.9 800.2 668.7 798.4 663.5 796.0 656.7 797.8z"/><path fill="#68ff97" d="M521.4 800.9 528.2 799.5 522.9 804.8 516.2 804.7z"/><path fill="#00f7ff" d="M490.6 815.8 497.4 819.1 492.1 844.6 485.3 844.3z"/><path fill="#78ff87" d="M619.1 800.3 625.9 798.5 620.6 796.1 613.9 798.0z"/><path fill="#58ffa7" d="M338.0 805.0 344.8 808.0 339.6 805.7 332.8 802.6z"/><path fill="#000097" d="M459.8 859.1 466.5 862.0 461.3 866.2 454.5 869.8z"/><path fill="#000087" d="M416.9 864.2 423.7 874.3 418.5 877.4 411.7 868.0z"/><path fill="#78ff87" d="M576.3 800.5 583.0 798.7 577.8 796.3 571.0 798.1z"/><path fill="#78ff87" d="M674.0 800.8 680.7 798.9 675.5 796.6 668.7 798.4z"/><path fill="#78ff87" d="M533.4 800.7 540.2 799.0 535.0 798.2 528.2 799.5z"/><path fill="#38ffc7" d="M350.0 810.4 356.8 813.5 351.6 811.1 344.8 808.0z"/><path fill="#78ff87" d="M631.1 800.9 637.9 799.1 632.7 796.7 625.9 798.5z"/><path fill="#000087" d="M428.9 868.2 435.7 877.1 430.5 879.4 423.7 874.3z"/><path fill="#78ff87" d="M588.3 801.0 595.1 799.2 589.8 796.8 583.0 798.7z"/><path fill="#00e7ff" d="M362.1 822.1 368.8 828.8 363.6 823.6 356.8 813.5z"/><path fill="#58ffa7" d="M502.6 804.7 509.4 804.6 504.1 821.2 497.4 819.1z"/><path fill="#0068ff" d="M471.8 833.5 478.6 840.4 473.3 856.5 466.5 862.0z"/><path fill="#78ff87" d="M545.4 801.2 552.2 799.4 547.0 797.2 540.2 799.0z"/><path fill="#78ff87" d="M643.1 801.5 649.9 799.6 644.7 797.3 637.9 799.1z"/><path fill="#0097ff" d="M374.1 832.8 380.9 841.9 375.6 838.9 368.8 828.8z"/><path fill="#000087" d="M441.0 865.3 447.7 872.5 442.5 874.6 435.7 877.1z"/><path fill="#78ff87" d="M600.3 801.6 607.1 799.8 601.8 797.4 595.1 799.2z"/><path fill="#0058ff" d="M386.1 839.8 392.9 849.6 387.6 852.1 380.9 841.9z"/><path fill="#78ff87" d="M557.5 801.7 564.2 799.9 559.0 797.6 552.2 799.4z"/><path fill="#78ff87" d="M655.2 802.0 661.9 800.2 656.7 797.8 649.9 799.6z"/><path fill="#78ff87" d="M514.6 802.4 521.4 800.9 516.2 804.7 509.4 804.6z"/><path fill="#78ff87" d="M612.3 802.2 619.1 800.3 613.9 798.0 607.1 799.8z"/><path fill="#0028ff" d="M398.1 847.0 404.9 857.4 399.7 860.2 392.9 849.6z"/><path fill="#28ffd7" d="M483.8 812.6 490.6 815.8 485.3 844.3 478.6 840.4z"/><path fill="#0000f7" d="M453.0 849.8 459.8 859.1 454.5 869.8 447.7 872.5z"/><path fill="#78ff87" d="M331.2 801.9 338.0 805.0 332.8 802.6 326.0 799.5z"/><path fill="#78ff87" d="M569.5 802.3 576.3 800.5 571.0 798.1 564.2 799.9z"/><path fill="#78ff87" d="M667.2 802.6 674.0 800.8 668.7 798.4 661.9 800.2z"/><path fill="#0000e7" d="M410.1 853.8 416.9 864.2 411.7 868.0 404.9 857.4z"/><path fill="#78ff87" d="M526.6 802.5 533.4 800.7 528.2 799.5 521.4 800.9z"/><path fill="#78ff87" d="M624.3 802.7 631.1 800.9 625.9 798.5 619.1 800.3z"/><path fill="#58ffa7" d="M343.3 807.3 350.0 810.4 344.8 808.0 338.0 805.0z"/><path fill="#78ff87" d="M581.5 802.9 588.3 801.0 583.0 798.7 576.3 800.5z"/><path fill="#0000b7" d="M422.2 858.0 428.9 868.2 423.7 874.3 416.9 864.2z"/><path fill="#78ff87" d="M538.7 803.0 545.4 801.2 540.2 799.0 533.4 800.7z"/><path fill="#68ff97" d="M495.8 805.2 502.6 804.7 497.4 819.1 490.6 815.8z"/><path fill="#38ffc7" d="M355.3 812.8 362.1 822.1 356.8 813.5 350.0 810.4z"/><path fill="#00c7ff" d="M465.0 825.6 471.8 833.5 466.5 862.0 459.8 859.1z"/><path fill="#78ff87" d="M636.4 803.3 643.1 801.5 637.9 799.1 631.1 800.9z"/><path fill="#78ff87" d="M593.5 803.4 600.3 801.6 595.1 799.2 588.3 801.0z"/><path fill="#00d7ff" d="M367.3 825.3 374.1 832.8 368.8 828.8 362.1 822.1z"/><path fill="#0000d7" d="M434.2 854.6 441.0 865.3 435.7 877.1 428.9 868.2z"/><path fill="#78ff87" d="M550.7 803.6 557.5 801.7 552.2 799.4 545.4 801.2z"/><path fill="#78ff87" d="M648.4 803.8 655.2 802.0 649.9 799.6 643.1 801.5z"/><path fill="#00a7ff" d="M379.3 831.3 386.1 839.8 380.9 841.9 374.1 832.8z"/><path fill="#78ff87" d="M507.8 804.0 514.6 802.4 509.4 804.6 502.6 804.7z"/><path fill="#78ff87" d="M605.5 804.0 612.3 802.2 607.1 799.8 600.3 801.6z"/><path fill="#48ffb7" d="M477.0 810.5 483.8 812.6 478.6 840.4 471.8 833.5z"/><path fill="#78ff87" d="M562.7 804.1 569.5 802.3 564.2 799.9 557.5 801.7z"/><path fill="#0078ff" d="M391.3 837.7 398.1 847.0 392.9 849.6 386.1 839.8z"/><path fill="#0058ff" d="M446.2 838.5 453.0 849.8 447.7 872.5 441.0 865.3z"/><path fill="#78ff87" d="M660.4 804.4 667.2 802.6 661.9 800.2 655.2 802.0z"/><path fill="#78ff87" d="M519.9 804.3 526.6 802.5 521.4 800.9 514.6 802.4z"/><path fill="#78ff87" d="M617.6 804.5 624.3 802.7 619.1 800.3 612.3 802.2z"/><path fill="#0038ff" d="M403.4 843.8 410.1 853.8 404.9 857.4 398.1 847.0z"/><path fill="#78ff87" d="M336.5 804.3 343.3 807.3 338.0 805.0 331.2 801.9z"/><path fill="#78ff87" d="M574.7 804.7 581.5 802.9 576.3 800.5 569.5 802.3z"/><path fill="#78ff87" d="M531.9 804.8 538.7 803.0 533.4 800.7 526.6 802.5z"/><path fill="#68ff97" d="M489.0 806.2 495.8 805.2 490.6 815.8 483.8 812.6z"/><path fill="#78ff87" d="M629.6 805.1 636.4 803.3 631.1 800.9 624.3 802.7z"/><path fill="#0018ff" d="M415.4 847.4 422.2 858.0 416.9 864.2 410.1 853.8z"/><path fill="#58ffa7" d="M348.5 809.7 355.3 812.8 350.0 810.4 343.3 807.3z"/><path fill="#08fff7" d="M458.2 818.9 465.0 825.6 459.8 859.1 453.0 849.8z"/><path fill="#78ff87" d="M586.7 805.2 593.5 803.4 588.3 801.0 581.5 802.9z"/><path fill="#08fff7" d="M360.5 819.8 367.3 825.3 362.1 822.1 355.3 812.8z"/><path fill="#78ff87" d="M543.9 805.4 550.7 803.6 545.4 801.2 538.7 803.0z"/><path fill="#78ff87" d="M641.6 805.7 648.4 803.8 643.1 801.5 636.4 803.3z"/><path fill="#0048ff" d="M427.4 842.9 434.2 854.6 428.9 868.2 422.2 858.0z"/><path fill="#78ff87" d="M501.1 805.7 507.8 804.0 502.6 804.7 495.8 805.2z"/><path fill="#78ff87" d="M598.8 805.8 605.5 804.0 600.3 801.6 593.5 803.4z"/><path fill="#00e7ff" d="M372.5 824.7 379.3 831.3 374.1 832.8 367.3 825.3z"/><path fill="#78ff87" d="M555.9 805.9 562.7 804.1 557.5 801.7 550.7 803.6z"/><path fill="#78ff87" d="M653.6 806.2 660.4 804.4 655.2 802.0 648.4 803.8z"/><path fill="#58ffa7" d="M470.2 809.6 477.0 810.5 471.8 833.5 465.0 825.6z"/><path fill="#78ff87" d="M513.1 806.1 519.9 804.3 514.6 802.4 507.8 804.0z"/><path fill="#00b7ff" d="M384.6 829.9 391.3 837.7 386.1 839.8 379.3 831.3z"/><path fill="#78ff87" d="M610.8 806.4 617.6 804.5 612.3 802.2 605.5 804.0z"/><path fill="#00c7ff" d="M439.4 827.9 446.2 838.5 441.0 865.3 434.2 854.6z"/><path fill="#78ff87" d="M567.9 806.5 574.7 804.7 569.5 802.3 562.7 804.1z"/><path fill="#0097ff" d="M396.6 834.9 403.4 843.8 398.1 847.0 391.3 837.7z"/><path fill="#78ff87" d="M525.1 806.6 531.9 804.8 526.6 802.5 519.9 804.3z"/><path fill="#78ff87" d="M622.8 806.9 629.6 805.1 624.3 802.7 617.6 804.5z"/><path fill="#68ff97" d="M482.3 807.5 489.0 806.2 483.8 812.6 477.0 810.5z"/><path fill="#78ff87" d="M341.7 806.6 348.5 809.7 343.3 807.3 336.5 804.3z"/><path fill="#78ff87" d="M580.0 807.1 586.7 805.2 581.5 802.9 574.7 804.7z"/><path fill="#0087ff" d="M408.6 837.3 415.4 847.4 410.1 853.8 403.4 843.8z"/><path fill="#38ffc7" d="M451.4 814.8 458.2 818.9 453.0 849.8 446.2 838.5z"/><path fill="#78ff87" d="M537.1 807.2 543.9 805.4 538.7 803.0 531.9 804.8z"/><path fill="#78ff87" d="M634.8 807.5 641.6 805.7 636.4 803.3 629.6 805.1z"/><path fill="#58ffa7" d="M353.7 812.1 360.5 819.8 355.3 812.8 348.5 809.7z"/><path fill="#78ff87" d="M494.3 807.5 501.1 805.7 495.8 805.2 489.0 806.2z"/><path fill="#78ff87" d="M592.0 807.6 598.8 805.8 593.5 803.4 586.7 805.2z"/><path fill="#00b7ff" d="M420.6 831.8 427.4 842.9 422.2 858.0 415.4 847.4z"/><path fill="#18ffe7" d="M365.8 819.9 372.5 824.7 367.3 825.3 360.5 819.8z"/><path fill="#78ff87" d="M549.1 807.8 555.9 805.9 550.7 803.6 543.9 805.4z"/><path fill="#78ff87" d="M646.8 808.0 653.6 806.2 648.4 803.8 641.6 805.7z"/><path fill="#78ff87" d="M506.3 807.9 513.1 806.1 507.8 804.0 501.1 805.7z"/><path fill="#68ff97" d="M463.5 809.8 470.2 809.6 465.0 825.6 458.2 818.9z"/><path fill="#78ff87" d="M604.0 808.2 610.8 806.4 605.5 804.0 598.8 805.8z"/><path fill="#00f7ff" d="M377.8 824.0 384.6 829.9 379.3 831.3 372.5 824.7z"/><path fill="#78ff87" d="M561.2 808.3 567.9 806.5 562.7 804.1 555.9 805.9z"/><path fill="#18ffe7" d="M432.6 820.3 439.4 827.9 434.2 854.6 427.4 842.9z"/><path fill="#78ff87" d="M518.3 808.5 525.1 806.6 519.9 804.3 513.1 806.1z"/><path fill="#78ff87" d="M616.0 808.7 622.8 806.9 617.6 804.5 610.8 806.4z"/><path fill="#00d7ff" d="M389.8 827.7 396.6 834.9 391.3 837.7 384.6 829.9z"/><path fill="#78ff87" d="M475.5 809.0 482.3 807.5 477.0 810.5 470.2 809.6z"/><path fill="#78ff87" d="M573.2 808.9 580.0 807.1 574.7 804.7 567.9 806.5z"/><path fill="#78ff87" d="M530.3 809.0 537.1 807.2 531.9 804.8 525.1 806.6z"/><path fill="#00d7ff" d="M401.8 828.6 408.6 837.3 403.4 843.8 396.6 834.9z"/><path fill="#58ffa7" d="M444.7 812.9 451.4 814.8 446.2 838.5 439.4 827.9z"/><path fill="#78ff87" d="M628.0 809.3 634.8 807.5 629.6 805.1 622.8 806.9z"/><path fill="#78ff87" d="M487.5 809.2 494.3 807.5 489.0 806.2 482.3 807.5z"/><path fill="#78ff87" d="M347.0 809.0 353.7 812.1 348.5 809.7 341.7 806.6z"/><path fill="#78ff87" d="M585.2 809.4 592.0 807.6 586.7 805.2 580.0 807.1z"/><path fill="#78ff87" d="M542.4 809.6 549.1 807.8 543.9 805.4 537.1 807.2z"/><path fill="#08fff7" d="M413.8 823.3 420.6 831.8 415.4 847.4 408.6 837.3z"/><path fill="#78ff87" d="M640.1 809.9 646.8 808.0 641.6 805.7 634.8 807.5z"/><path fill="#38ffc7" d="M359.0 817.0 365.8 819.9 360.5 819.8 353.7 812.1z"/><path fill="#78ff87" d="M499.5 809.7 506.3 807.9 501.1 805.7 494.3 807.5z"/><path fill="#68ff97" d="M456.7 810.8 463.5 809.8 458.2 818.9 451.4 814.8z"/><path fill="#78ff87" d="M597.2 810.0 604.0 808.2 598.8 805.8 592.0 807.6z"/><path fill="#78ff87" d="M554.4 810.1 561.2 808.3 555.9 805.9 549.1 807.8z"/><path fill="#28ffd7" d="M371.0 819.9 377.8 824.0 372.5 824.7 365.8 819.9z"/><path fill="#78ff87" d="M511.5 810.3 518.3 808.5 513.1 806.1 506.3 807.9z"/><path fill="#48ffb7" d="M425.9 816.2 432.6 820.3 427.4 842.9 420.6 831.8z"/><path fill="#78ff87" d="M609.2 810.6 616.0 808.7 610.8 806.4 604.0 808.2z"/><path fill="#78ff87" d="M468.7 810.6 475.5 809.0 470.2 809.6 463.5 809.8z"/><path fill="#18ffe7" d="M383.0 822.4 389.8 827.7 384.6 829.9 377.8 824.0z"/><path fill="#78ff87" d="M566.4 810.7 573.2 808.9 567.9 806.5 561.2 808.3z"/><path fill="#78ff87" d="M523.6 810.8 530.3 809.0 525.1 806.6 518.3 808.5z"/><path fill="#78ff87" d="M621.3 811.1 628.0 809.3 622.8 806.9 616.0 808.7z"/><path fill="#78ff87" d="M480.7 811.0 487.5 809.2 482.3 807.5 475.5 809.0z"/><path fill="#68ff97" d="M437.9 812.8 444.7 812.9 439.4 827.9 432.6 820.3z"/><path fill="#18ffe7" d="M395.0 822.2 401.8 828.6 396.6 834.9 389.8 827.7z"/><path fill="#78ff87" d="M578.4 811.3 585.2 809.4 580.0 807.1 573.2 808.9z"/><path fill="#78ff87" d="M535.6 811.4 542.4 809.6 537.1 807.2 530.3 809.0z"/><path fill="#78ff87" d="M633.3 811.7 640.1 809.9 634.8 807.5 628.0 809.3z"/><path fill="#78ff87" d="M492.7 811.5 499.5 809.7 494.3 807.5 487.5 809.2z"/><path fill="#78ff87" d="M352.2 811.4 359.0 817.0 353.7 812.1 347.0 809.0z"/><path fill="#38ffc7" d="M407.1 818.3 413.8 823.3 408.6 837.3 401.8 828.6z"/><path fill="#78ff87" d="M590.4 811.8 597.2 810.0 592.0 807.6 585.2 809.4z"/><path fill="#78ff87" d="M449.9 812.1 456.7 810.8 451.4 814.8 444.7 812.9z"/><path fill="#78ff87" d="M547.6 812.0 554.4 810.1 549.1 807.8 542.4 809.6z"/><path fill="#48ffb7" d="M364.2 817.7 371.0 819.9 365.8 819.9 359.0 817.0z"/><path fill="#78ff87" d="M504.8 812.1 511.5 810.3 506.3 807.9 499.5 809.7z"/><path fill="#78ff87" d="M602.5 812.4 609.2 810.6 604.0 808.2 597.2 810.0z"/><path fill="#78ff87" d="M461.9 812.3 468.7 810.6 463.5 809.8 456.7 810.8z"/><path fill="#68ff97" d="M419.1 814.8 425.9 816.2 420.6 831.8 413.8 823.3z"/><path fill="#78ff87" d="M559.6 812.5 566.4 810.7 561.2 808.3 554.4 810.1z"/><path fill="#38ffc7" d="M376.2 819.1 383.0 822.4 377.8 824.0 371.0 819.9z"/><path fill="#78ff87" d="M516.8 812.7 523.6 810.8 518.3 808.5 511.5 810.3z"/><path fill="#78ff87" d="M614.5 812.9 621.3 811.1 616.0 808.7 609.2 810.6z"/><path fill="#78ff87" d="M473.9 812.8 480.7 811.0 475.5 809.0 468.7 810.6z"/><path fill="#78ff87" d="M571.6 813.1 578.4 811.3 573.2 808.9 566.4 810.7z"/><path fill="#68ff97" d="M431.1 813.7 437.9 812.8 432.6 820.3 425.9 816.2z"/><path fill="#48ffb7" d="M388.3 818.5 395.0 822.2 389.8 827.7 383.0 822.4z"/><path fill="#78ff87" d="M528.8 813.2 535.6 811.4 530.3 809.0 523.6 810.8z"/><path fill="#78ff87" d="M626.5 813.5 633.3 811.7 628.0 809.3 621.3 811.1z"/><path fill="#78ff87" d="M486.0 813.4 492.7 811.5 487.5 809.2 480.7 811.0z"/><path fill="#78ff87" d="M583.7 813.6 590.4 811.8 585.2 809.4 578.4 811.3z"/><path fill="#78ff87" d="M443.1 813.7 449.9 812.1 444.7 812.9 437.9 812.8z"/><path fill="#58ffa7" d="M400.3 816.4 407.1 818.3 401.8 828.6 395.0 822.2z"/><path fill="#78ff87" d="M540.8 813.8 547.6 812.0 542.4 809.6 535.6 811.4z"/><path fill="#78ff87" d="M498.0 813.9 504.8 812.1 499.5 809.7 492.7 811.5z"/><path fill="#58ffa7" d="M357.4 816.8 364.2 817.7 359.0 817.0 352.2 811.4z"/><path fill="#78ff87" d="M595.7 814.2 602.5 812.4 597.2 810.0 590.4 811.8z"/><path fill="#78ff87" d="M455.1 814.1 461.9 812.3 456.7 810.8 449.9 812.1z"/><path fill="#68ff97" d="M412.3 815.2 419.1 814.8 413.8 823.3 407.1 818.3z"/><path fill="#78ff87" d="M552.8 814.3 559.6 812.5 554.4 810.1 547.6 812.0z"/><path fill="#58ffa7" d="M369.5 817.6 376.2 819.1 371.0 819.9 364.2 817.7z"/><path fill="#78ff87" d="M510.0 814.5 516.8 812.7 511.5 810.3 504.8 812.1z"/><path fill="#78ff87" d="M607.7 814.8 614.5 812.9 609.2 810.6 602.5 812.4z"/><path fill="#78ff87" d="M467.2 814.6 473.9 812.8 468.7 810.6 461.9 812.3z"/><path fill="#78ff87" d="M564.9 814.9 571.6 813.1 566.4 810.7 559.6 812.5z"/><path fill="#78ff87" d="M424.3 815.1 431.1 813.7 425.9 816.2 419.1 814.8z"/><path fill="#68ff97" d="M381.5 817.2 388.3 818.5 383.0 822.4 376.2 819.1z"/><path fill="#78ff87" d="M522.0 815.0 528.8 813.2 523.6 810.8 516.8 812.7z"/><path fill="#78ff87" d="M619.7 815.3 626.5 813.5 621.3 811.1 614.5 812.9z"/><path fill="#78ff87" d="M479.2 815.2 486.0 813.4 480.7 811.0 473.9 812.8z"/><path fill="#78ff87" d="M576.9 815.5 583.7 813.6 578.4 811.3 571.6 813.1z"/><path fill="#78ff87" d="M436.3 815.4 443.1 813.7 437.9 812.8 431.1 813.7z"/><path fill="#78ff87" d="M534.0 815.6 540.8 813.8 535.6 811.4 528.8 813.2z"/><path fill="#68ff97" d="M393.5 816.5 400.3 816.4 395.0 822.2 388.3 818.5z"/><path fill="#78ff87" d="M491.2 815.7 498.0 813.9 492.7 811.5 486.0 813.4z"/><path fill="#78ff87" d="M588.9 816.0 595.7 814.2 590.4 811.8 583.7 813.6z"/><path fill="#78ff87" d="M448.4 815.9 455.1 814.1 449.9 812.1 443.1 813.7z"/><path fill="#78ff87" d="M546.1 816.2 552.8 814.3 547.6 812.0 540.8 813.8z"/><path fill="#78ff87" d="M405.5 816.4 412.3 815.2 407.1 818.3 400.3 816.4z"/><path fill="#78ff87" d="M503.2 816.3 510.0 814.5 504.8 812.1 498.0 813.9z"/><path fill="#68ff97" d="M362.7 817.6 369.5 817.6 364.2 817.7 357.4 816.8z"/><path fill="#78ff87" d="M600.9 816.6 607.7 814.8 602.5 812.4 595.7 814.2z"/><path fill="#78ff87" d="M460.4 816.4 467.2 814.6 461.9 812.3 455.1 814.1z"/><path fill="#78ff87" d="M558.1 816.7 564.9 814.9 559.6 812.5 552.8 814.3z"/><path fill="#78ff87" d="M417.5 816.7 424.3 815.1 419.1 814.8 412.3 815.2z"/><path fill="#78ff87" d="M515.2 816.9 522.0 815.0 516.8 812.7 510.0 814.5z"/><path fill="#68ff97" d="M374.7 817.6 381.5 817.2 376.2 819.1 369.5 817.6z"/><path fill="#78ff87" d="M612.9 817.1 619.7 815.3 614.5 812.9 607.7 814.8z"/><path fill="#78ff87" d="M472.4 817.0 479.2 815.2 473.9 812.8 467.2 814.6z"/><path fill="#78ff87" d="M570.1 817.3 576.9 815.5 571.6 813.1 564.9 814.9z"/><path fill="#78ff87" d="M429.6 817.2 436.3 815.4 431.1 813.7 424.3 815.1z"/><path fill="#78ff87" d="M527.3 817.4 534.0 815.6 528.8 813.2 522.0 815.0z"/><path fill="#78ff87" d="M386.7 817.6 393.5 816.5 388.3 818.5 381.5 817.2z"/><path fill="#78ff87" d="M484.4 817.6 491.2 815.7 486.0 813.4 479.2 815.2z"/><path fill="#78ff87" d="M582.1 817.8 588.9 816.0 583.7 813.6 576.9 815.5z"/><path fill="#78ff87" d="M441.6 817.7 448.4 815.9 443.1 813.7 436.3 815.4z"/><path fill="#78ff87" d="M539.3 818.0 546.1 816.2 540.8 813.8 534.0 815.6z"/><path fill="#78ff87" d="M398.7 818.0 405.5 816.4 400.3 816.4 393.5 816.5z"/><path fill="#78ff87" d="M496.4 818.1 503.2 816.3 498.0 813.9 491.2 815.7z"/><path fill="#78ff87" d="M594.1 818.4 600.9 816.6 595.7 814.2 588.9 816.0z"/><path fill="#78ff87" d="M453.6 818.3 460.4 816.4 455.1 814.1 448.4 815.9z"/><path fill="#78ff87" d="M551.3 818.5 558.1 816.7 552.8 814.3 546.1 816.2z"/><path fill="#78ff87" d="M410.8 818.4 417.5 816.7 412.3 815.2 405.5 816.4z"/><path fill="#78ff87" d="M508.5 818.7 515.2 816.9 510.0 814.5 503.2 816.3z"/><path fill="#78ff87" d="M367.9 818.8 374.7 817.6 369.5 817.6 362.7 817.6z"/><path fill="#78ff87" d="M606.2 819.0 612.9 817.1 607.7 814.8 600.9 816.6z"/><path fill="#78ff87" d="M465.6 818.8 472.4 817.0 467.2 814.6 460.4 816.4z"/><path fill="#78ff87" d="M563.3 819.1 570.1 817.3 564.9 814.9 558.1 816.7z"/><path fill="#78ff87" d="M422.8 819.0 429.6 817.2 424.3 815.1 417.5 816.7z"/><path fill="#78ff87" d="M520.5 819.2 527.3 817.4 522.0 815.0 515.2 816.9z"/><path fill="#78ff87" d="M379.9 819.2 386.7 817.6 381.5 817.2 374.7 817.6z"/><path fill="#78ff87" d="M477.6 819.4 484.4 817.6 479.2 815.2 472.4 817.0z"/><path fill="#78ff87" d="M575.3 819.7 582.1 817.8 576.9 815.5 570.1 817.3z"/><path fill="#78ff87" d="M434.8 819.5 441.6 817.7 436.3 815.4 429.6 817.2z"/><path fill="#78ff87" d="M532.5 819.8 539.3 818.0 534.0 815.6 527.3 817.4z"/><path fill="#78ff87" d="M392.0 819.7 398.7 818.0 393.5 816.5 386.7 817.6z"/><path fill="#78ff87" d="M489.7 819.9 496.4 818.1 491.2 815.7 484.4 817.6z"/><path fill="#78ff87" d="M587.4 820.2 594.1 818.4 588.9 816.0 582.1 817.8z"/><path fill="#78ff87" d="M446.8 820.1 453.6 818.3 448.4 815.9 441.6 817.7z"/><path fill="#78ff87" d="M544.5 820.4 551.3 818.5 546.1 816.2 539.3 818.0z"/><path fill="#78ff87" d="M404.0 820.2 410.8 818.4 405.5 816.4 398.7 818.0z"/><path fill="#78ff87" d="M501.7 820.5 508.5 818.7 503.2 816.3 496.4 818.1z"/><path fill="#78ff87" d="M599.4 820.8 606.2 819.0 600.9 816.6 594.1 818.4z"/><path fill="#78ff87" d="M458.8 820.6 465.6 818.8 460.4 816.4 453.6 818.3z"/><path fill="#78ff87" d="M556.5 820.9 563.3 819.1 558.1 816.7 551.3 818.5z"/><path fill="#78ff87" d="M416.0 820.8 422.8 819.0 417.5 816.7 410.8 818.4z"/><path fill="#78ff87" d="M513.7 821.1 520.5 819.2 515.2 816.9 508.5 818.7z"/><path fill="#78ff87" d="M373.2 821.0 379.9 819.2 374.7 817.6 367.9 818.8z"/><path fill="#78ff87" d="M470.9 821.2 477.6 819.4 472.4 817.0 465.6 818.8z"/><path fill="#78ff87" d="M568.6 821.5 575.3 819.7 570.1 817.3 563.3 819.1z"/><path fill="#78ff87" d="M428.0 821.3 434.8 819.5 429.6 817.2 422.8 819.0z"/><path fill="#78ff87" d="M525.7 821.6 532.5 819.8 527.3 817.4 520.5 819.2z"/><path fill="#78ff87" d="M385.2 821.5 392.0 819.7 386.7 817.6 379.9 819.2z"/><path fill="#78ff87" d="M482.9 821.8 489.7 819.9 484.4 817.6 477.6 819.4z"/><path fill="#78ff87" d="M580.6 822.0 587.4 820.2 582.1 817.8 575.3 819.7z"/><path fill="#78ff87" d="M440.0 821.9 446.8 820.1 441.6 817.7 434.8 819.5z"/><path fill="#78ff87" d="M537.7 822.2 544.5 820.4 539.3 818.0 532.5 819.8z"/><path fill="#78ff87" d="M397.2 822.0 404.0 820.2 398.7 818.0 392.0 819.7z"/><path fill="#78ff87" d="M494.9 822.3 501.7 820.5 496.4 818.1 489.7 819.9z"/><path fill="#78ff87" d="M592.6 822.6 599.4 820.8 594.1 818.4 587.4 820.2z"/><path fill="#78ff87" d="M452.1 822.5 458.8 820.6 453.6 818.3 446.8 820.1z"/><path fill="#78ff87" d="M549.8 822.7 556.5 820.9 551.3 818.5 544.5 820.4z"/><path fill="#78ff87" d="M409.2 822.6 416.0 820.8 410.8 818.4 404.0 820.2z"/><path fill="#78ff87" d="M506.9 822.9 513.7 821.1 508.5 818.7 501.7 820.5z"/><path fill="#78ff87" d="M464.1 823.0 470.9 821.2 465.6 818.8 458.8 820.6z"/><path fill="#78ff87" d="M561.8 823.3 568.6 821.5 563.3 819.1 556.5 820.9z"/><path fill="#78ff87" d="M421.2 823.2 428.0 821.3 422.8 819.0 416.0 820.8z"/><path fill="#78ff87" d="M518.9 823.4 525.7 821.6 520.5 819.2 513.7 821.1z"/><path fill="#78ff87" d="M378.4 823.3 385.2 821.5 379.9 819.2 373.2 821.0z"/><path fill="#78ff87" d="M476.1 823.6 482.9 821.8 477.6 819.4 470.9 821.2z"/><path fill="#78ff87" d="M573.8 823.9 580.6 822.0 575.3 819.7 568.6 821.5z"/><path fill="#78ff87" d="M433.3 823.7 440.0 821.9 434.8 819.5 428.0 821.3z"/><path fill="#78ff87" d="M531.0 824.0 537.7 822.2 532.5 819.8 525.7 821.6z"/><path fill="#78ff87" d="M390.4 823.9 397.2 822.0 392.0 819.7 385.2 821.5z"/><path fill="#78ff87" d="M488.1 824.1 494.9 822.3 489.7 819.9 482.9 821.8z"/><path fill="#78ff87" d="M585.8 824.4 592.6 822.6 587.4 820.2 580.6 822.0z"/><path fill="#78ff87" d="M445.3 824.3 452.1 822.5 446.8 820.1 440.0 821.9z"/><path fill="#78ff87" d="M543.0 824.6 549.8 822.7 544.5 820.4 537.7 822.2z"/><path fill="#78ff87" d="M402.4 824.4 409.2 822.6 404.0 820.2 397.2 822.0z"/><path fill="#78ff87" d="M500.1 824.7 506.9 822.9 501.7 820.5 494.9 822.3z"/><path fill="#78ff87" d="M457.3 824.8 464.1 823.0 458.8 820.6 452.1 822.5z"/><path fill="#78ff87" d="M555.0 825.1 561.8 823.3 556.5 820.9 549.8 822.7z"/><path fill="#78ff87" d="M414.5 825.0 421.2 823.2 416.0 820.8 409.2 822.6z"/><path fill="#78ff87" d="M512.2 825.3 518.9 823.4 513.7 821.1 506.9 822.9z"/><path fill="#78ff87" d="M469.3 825.4 476.1 823.6 470.9 821.2 464.1 823.0z"/><path fill="#78ff87" d="M567.0 825.7 573.8 823.9 568.6 821.5 561.8 823.3z"/><path fill="#78ff87" d="M426.5 825.5 433.3 823.7 428.0 821.3 421.2 823.2z"/><path fill="#78ff87" d="M524.2 825.8 531.0 824.0 525.7 821.6 518.9 823.4z"/><path fill="#78ff87" d="M383.6 825.7 390.4 823.9 385.2 821.5 378.4 823.3z"/><path fill="#78ff87" d="M481.3 826.0 488.1 824.1 482.9 821.8 476.1 823.6z"/><path fill="#78ff87" d="M579.0 826.2 585.8 824.4 580.6 822.0 573.8 823.9z"/><path fill="#78ff87" d="M438.5 826.1 445.3 824.3 440.0 821.9 433.3 823.7z"/><path fill="#78ff87" d="M536.2 826.4 543.0 824.6 537.7 822.2 531.0 824.0z"/><path fill="#78ff87" d="M395.7 826.2 402.4 824.4 397.2 822.0 390.4 823.9z"/><path fill="#78ff87" d="M493.4 826.5 500.1 824.7 494.9 822.3 488.1 824.1z"/><path fill="#78ff87" d="M450.5 826.7 457.3 824.8 452.1 822.5 445.3 824.3z"/><path fill="#78ff87" d="M548.2 826.9 555.0 825.1 549.8 822.7 543.0 824.6z"/><path fill="#78ff87" d="M407.7 826.8 414.5 825.0 409.2 822.6 402.4 824.4z"/><path fill="#78ff87" d="M505.4 827.1 512.2 825.3 506.9 822.9 500.1 824.7z"/><path fill="#78ff87" d="M462.5 827.2 469.3 825.4 464.1 823.0 457.3 824.8z"/><path fill="#78ff87" d="M560.2 827.5 567.0 825.7 561.8 823.3 555.0 825.1z"/><path fill="#78ff87" d="M419.7 827.4 426.5 825.5 421.2 823.2 414.5 825.0z"/><path fill="#78ff87" d="M517.4 827.6 524.2 825.8 518.9 823.4 512.2 825.3z"/><path fill="#78ff87" d="M474.6 827.8 481.3 826.0 476.1 823.6 469.3 825.4z"/><path fill="#78ff87" d="M572.3 828.1 579.0 826.2 573.8 823.9 567.0 825.7z"/><path fill="#78ff87" d="M431.7 827.9 438.5 826.1 433.3 823.7 426.5 825.5z"/><path fill="#78ff87" d="M529.4 828.2 536.2 826.4 531.0 824.0 524.2 825.8z"/><path fill="#78ff87" d="M388.9 828.1 395.7 826.2 390.4 823.9 383.6 825.7z"/><path fill="#78ff87" d="M486.6 828.3 493.4 826.5 488.1 824.1 481.3 826.0z"/><path fill="#78ff87" d="M443.7 828.5 450.5 826.7 445.3 824.3 438.5 826.1z"/><path fill="#78ff87" d="M541.4 828.8 548.2 826.9 543.0 824.6 536.2 826.4z"/><path fill="#78ff87" d="M400.9 828.6 407.7 826.8 402.4 824.4 395.7 826.2z"/><path fill="#78ff87" d="M498.6 828.9 505.4 827.1 500.1 824.7 493.4 826.5z"/><path fill="#78ff87" d="M455.8 829.0 462.5 827.2 457.3 824.8 450.5 826.7z"/><path fill="#78ff87" d="M553.5 829.3 560.2 827.5 555.0 825.1 548.2 826.9z"/><path fill="#78ff87" d="M412.9 829.2 419.7 827.4 414.5 825.0 407.7 826.8z"/><path fill="#78ff87" d="M510.6 829.5 517.4 827.6 512.2 825.3 505.4 827.1z"/><path fill="#78ff87" d="M467.8 829.6 474.6 827.8 469.3 825.4 462.5 827.2z"/><path fill="#78ff87" d="M565.5 829.9 572.3 828.1 567.0 825.7 560.2 827.5z"/><path fill="#78ff87" d="M424.9 829.7 431.7 827.9 426.5 825.5 419.7 827.4z"/><path fill="#78ff87" d="M522.6 830.0 529.4 828.2 524.2 825.8 517.4 827.6z"/><path fill="#78ff87" d="M479.8 830.2 486.6 828.3 481.3 826.0 474.6 827.8z"/><path fill="#78ff87" d="M437.0 830.3 443.7 828.5 438.5 826.1 431.7 827.9z"/><path fill="#78ff87" d="M534.7 830.6 541.4 828.8 536.2 826.4 529.4 828.2z"/><path fill="#78ff87" d="M394.1 830.4 400.9 828.6 395.7 826.2 388.9 828.1z"/><path fill="#78ff87" d="M491.8 830.7 498.6 828.9 493.4 826.5 486.6 828.3z"/><path fill="#78ff87" d="M449.0 830.9 455.8 829.0 450.5 826.7 443.7 828.5z"/><path fill="#78ff87" d="M546.7 831.1 553.5 829.3 548.2 826.9 541.4 828.8z"/><path fill="#78ff87" d="M406.1 831.0 412.9 829.2 407.7 826.8 400.9 828.6z"/><path fill="#78ff87" d="M503.8 831.3 510.6 829.5 505.4 827.1 498.6 828.9z"/><path fill="#78ff87" d="M461.0 831.4 467.8 829.6 462.5 827.2 455.8 829.0z"/><path fill="#78ff87" d="M558.7 831.7 565.5 829.9 560.2 827.5 553.5 829.3z"/><path fill="#78ff87" d="M418.2 831.6 424.9 829.7 419.7 827.4 412.9 829.2z"/><path fill="#78ff87" d="M515.9 831.8 522.6 830.0 517.4 827.6 510.6 829.5z"/><path fill="#78ff87" d="M473.0 832.0 479.8 830.2 474.6 827.8 467.8 829.6z"/><path fill="#78ff87" d="M430.2 832.1 437.0 830.3 431.7 827.9 424.9 829.7z"/><path fill="#78ff87" d="M527.9 832.4 534.7 830.6 529.4 828.2 522.6 830.0z"/><path fill="#78ff87" d="M485.0 832.5 491.8 830.7 486.6 828.3 479.8 830.2z"/><path fill="#78ff87" d="M442.2 832.7 449.0 830.9 443.7 828.5 437.0 830.3z"/><path fill="#78ff87" d="M539.9 833.0 546.7 831.1 541.4 828.8 534.7 830.6z"/><path fill="#78ff87" d="M399.4 832.8 406.1 831.0 400.9 828.6 394.1 830.4z"/><path fill="#78ff87" d="M497.1 833.1 503.8 831.3 498.6 828.9 491.8 830.7z"/><path fill="#78ff87" d="M454.2 833.2 461.0 831.4 455.8 829.0 449.0 830.9z"/><path fill="#78ff87" d="M551.9 833.5 558.7 831.7 553.5 829.3 546.7 831.1z"/><path fill="#78ff87" d="M411.4 833.4 418.2 831.6 412.9 829.2 406.1 831.0z"/><path fill="#78ff87" d="M509.1 833.7 515.9 831.8 510.6 829.5 503.8 831.3z"/><path fill="#78ff87" d="M466.2 833.8 473.0 832.0 467.8 829.6 461.0 831.4z"/><path fill="#78ff87" d="M423.4 833.9 430.2 832.1 424.9 829.7 418.2 831.6z"/><path fill="#78ff87" d="M521.1 834.2 527.9 832.4 522.6 830.0 515.9 831.8z"/><path fill="#78ff87" d="M478.3 834.4 485.0 832.5 479.8 830.2 473.0 832.0z"/><path fill="#78ff87" d="M435.4 834.5 442.2 832.7 437.0 830.3 430.2 832.1z"/><path fill="#78ff87" d="M533.1 834.8 539.9 833.0 534.7 830.6 527.9 832.4z"/><path fill="#78ff87" d="M490.3 834.9 497.1 833.1 491.8 830.7 485.0 832.5z"/><path fill="#78ff87" d="M447.4 835.1 454.2 833.2 449.0 830.9 442.2 832.7z"/><path fill="#78ff87" d="M545.1 835.3 551.9 833.5 546.7 831.1 539.9 833.0z"/><path fill="#78ff87" d="M404.6 835.2 411.4 833.4 406.1 831.0 399.4 832.8z"/><path fill="#78ff87" d="M502.3 835.5 509.1 833.7 503.8 831.3 497.1 833.1z"/><path fill="#78ff87" d="M459.5 835.6 466.2 833.8 461.0 831.4 454.2 833.2z"/><path fill="#78ff87" d="M416.6 835.8 423.4 833.9 418.2 831.6 411.4 833.4z"/><path fill="#78ff87" d="M514.3 836.0 521.1 834.2 515.9 831.8 509.1 833.7z"/><path fill="#78ff87" d="M471.5 836.2 478.3 834.4 473.0 832.0 466.2 833.8z"/><path fill="#78ff87" d="M428.6 836.3 435.4 834.5 430.2 832.1 423.4 833.9z"/><path fill="#78ff87" d="M526.3 836.6 533.1 834.8 527.9 832.4 521.1 834.2z"/><path fill="#78ff87" d="M483.5 836.7 490.3 834.9 485.0 832.5 478.3 834.4z"/><path fill="#78ff87" d="M440.7 836.9 447.4 835.1 442.2 832.7 435.4 834.5z"/><path fill="#78ff87" d="M538.4 837.2 545.1 835.3 539.9 833.0 533.1 834.8z"/><path fill="#78ff87" d="M495.5 837.3 502.3 835.5 497.1 833.1 490.3 834.9z"/><path fill="#78ff87" d="M452.7 837.4 459.5 835.6 454.2 833.2 447.4 835.1z"/><path fill="#78ff87" d="M409.8 837.6 416.6 835.8 411.4 833.4 404.6 835.2z"/><path fill="#78ff87" d="M507.5 837.9 514.3 836.0 509.1 833.7 502.3 835.5z"/><path fill="#78ff87" d="M464.7 838.0 471.5 836.2 466.2 833.8 459.5 835.6z"/><path fill="#78ff87" d="M421.9 838.1 428.6 836.3 423.4 833.9 416.6 835.8z"/><path fill="#78ff87" d="M519.6 838.4 526.3 836.6 521.1 834.2 514.3 836.0z"/><path fill="#78ff87" d="M476.7 838.6 483.5 836.7 478.3 834.4 471.5 836.2z"/><path fill="#78ff87" d="M433.9 838.7 440.7 836.9 435.4 834.5 428.6 836.3z"/><path fill="#78ff87" d="M531.6 839.0 538.4 837.2 533.1 834.8 526.3 836.6z"/><path fill="#78ff87" d="M488.7 839.1 495.5 837.3 490.3 834.9 483.5 836.7z"/><path fill="#78ff87" d="M445.9 839.3 452.7 837.4 447.4 835.1 440.7 836.9z"/><path fill="#78ff87" d="M500.8 839.7 507.5 837.9 502.3 835.5 495.5 837.3z"/><path fill="#78ff87" d="M457.9 839.8 464.7 838.0 459.5 835.6 452.7 837.4z"/><path fill="#78ff87" d="M415.1 840.0 421.9 838.1 416.6 835.8 409.8 837.6z"/><path fill="#78ff87" d="M512.8 840.2 519.6 838.4 514.3 836.0 507.5 837.9z"/><path fill="#78ff87" d="M469.9 840.4 476.7 838.6 471.5 836.2 464.7 838.0z"/><path fill="#78ff87" d="M427.1 840.5 433.9 838.7 428.6 836.3 421.9 838.1z"/><path fill="#78ff87" d="M524.8 840.8 531.6 839.0 526.3 836.6 519.6 838.4z"/><path fill="#78ff87" d="M482.0 840.9 488.7 839.1 483.5 836.7 476.7 838.6z"/><path fill="#78ff87" d="M439.1 841.1 445.9 839.3 440.7 836.9 433.9 838.7z"/><path fill="#78ff87" d="M494.0 841.5 500.8 839.7 495.5 837.3 488.7 839.1z"/><path fill="#78ff87" d="M451.1 841.6 457.9 839.8 452.7 837.4 445.9 839.3z"/><path fill="#78ff87" d="M506.0 842.1 512.8 840.2 507.5 837.9 500.8 839.7z"/><path fill="#78ff87" d="M463.2 842.2 469.9 840.4 464.7 838.0 457.9 839.8z"/><path fill="#78ff87" d="M420.3 842.3 427.1 840.5 421.9 838.1 415.1 840.0z"/><path fill="#78ff87" d="M518.0 842.6 524.8 840.8 519.6 838.4 512.8 840.2z"/><path fill="#78ff87" d="M475.2 842.8 482.0 840.9 476.7 838.6 469.9 840.4z"/><path fill="#78ff87" d="M432.3 842.9 439.1 841.1 433.9 838.7 427.1 840.5z"/><path fill="#78ff87" d="M487.2 843.3 494.0 841.5 488.7 839.1 482.0 840.9z"/><path fill="#78ff87" d="M444.4 843.5 451.1 841.6 445.9 839.3 439.1 841.1z"/><path fill="#78ff87" d="M499.2 843.9 506.0 842.1 500.8 839.7 494.0 841.5z"/><path fill="#78ff87" d="M456.4 844.0 463.2 842.2 457.9 839.8 451.1 841.6z"/><path fill="#78ff87" d="M511.2 844.4 518.0 842.6 512.8 840.2 506.0 842.1z"/><path fill="#78ff87" d="M468.4 844.6 475.2 842.8 469.9 840.4 463.2 842.2z"/><path fill="#78ff87" d="M425.6 844.7 432.3 842.9 427.1 840.5 420.3 842.3z"/><path fill="#78ff87" d="M480.4 845.1 487.2 843.3 482.0 840.9 475.2 842.8z"/><path fill="#78ff87" d="M437.6 845.3 444.4 843.5 439.1 841.1 432.3 842.9z"/><path fill="#78ff87" d="M492.4 845.7 499.2 843.9 494.0 841.5 487.2 843.3z"/><path fill="#78ff87" d="M449.6 845.8 456.4 844.0 451.1 841.6 444.4 843.5z"/><path fill="#78ff87" d="M504.5 846.3 511.2 844.4 506.0 842.1 499.2 843.9z"/><path fill="#78ff87" d="M461.6 846.4 468.4 844.6 463.2 842.2 456.4 844.0z"/><path fill="#78ff87" d="M473.6 847.0 480.4 845.1 475.2 842.8 468.4 844.6z"/><path fill="#78ff87" d="M430.8 847.1 437.6 845.3 432.3 842.9 425.6 844.7z"/><path fill="#78ff87" d="M485.7 847.5 492.4 845.7 487.2 843.3 480.4 845.1z"/><path fill="#78ff87" d="M442.8 847.7 449.6 845.8 444.4 843.5 437.6 845.3z"/><path fill="#78ff87" d="M497.7 848.1 504.5 846.3 499.2 843.9 492.4 845.7z"/><path fill="#78ff87" d="M454.8 848.2 461.6 846.4 456.4 844.0 449.6 845.8z"/><path fill="#78ff87" d="M466.9 848.8 473.6 847.0 468.4 844.6 461.6 846.4z"/><path fill="#78ff87" d="M478.9 849.3 485.7 847.5 480.4 845.1 473.6 847.0z"/><path fill="#78ff87" d="M436.0 849.5 442.8 847.7 437.6 845.3 430.8 847.1z"/><path fill="#78ff87" d="M490.9 849.9 497.7 848.1 492.4 845.7 485.7 847.5z"/><path fill="#78ff87" d="M448.1 850.0 454.8 848.2 449.6 845.8 442.8 847.7z"/><path fill="#78ff87" d="M460.1 850.6 466.9 848.8 461.6 846.4 454.8 848.2z"/><path fill="#78ff87" d="M472.1 851.2 478.9 849.3 473.6 847.0 466.9 848.8z"/><path fill="#78ff87" d="M484.1 851.7 490.9 849.9 485.7 847.5 478.9 849.3z"/><path fill="#78ff87" d="M441.3 851.9 448.1 850.0 442.8 847.7 436.0 849.5z"/><path fill="#78ff87" d="M453.3 852.4 460.1 850.6 454.8 848.2 448.1 850.0z"/><path fill="#78ff87" d="M465.3 853.0 472.1 851.2 466.9 848.8 460.1 850.6z"/><path fill="#78ff87" d="M477.3 853.5 484.1 851.7 478.9 849.3 472.1 851.2z"/><path fill="#78ff87" d="M446.5 854.2 453.3 852.4 448.1 850.0 441.3 851.9z"/><path fill="#78ff87" d="M458.5 854.8 465.3 853.0 460.1 850.6 453.3 852.4z"/><path fill="#78ff87" d="M470.6 855.4 477.3 853.5 472.1 851.2 465.3 853.0z"/><path fill="#78ff87" d="M451.8 856.6 458.5 854.8 453.3 852.4 446.5 854.2z"/><path fill="#78ff87" d="M463.8 857.2 470.6 855.4 465.3 853.0 458.5 854.8z"/><path fill="#78ff87" d="M457.0 859.0 463.8 857.2 458.5 854.8 451.8 856.6z"/></g><path d="M195.0 871.0L195.0 609.0M195.0 871.0L457.0 990.0M457.0 990.0L796.0 899.0M195.0 871.0l-7.3 -3.3M195.0 740.0l-7.3 -3.3M195.0 609.0l-7.3 -3.3M457.0 990.0l-7.7 2.1M391.5 960.2l-7.7 2.1M326.0 930.5l-7.7 2.1M260.5 900.8l-7.7 2.1M195.0 871.0l-7.7 2.1M457.0 990.0l7.3 3.3M541.8 967.2l7.3 3.3M626.5 944.5l7.3 3.3M711.2 921.8l7.3 3.3M796.0 899.0l7.3 3.3" fill="none" stroke="#2a2a2a" stroke-width="1.25"/><text x="169.0" y="610.0" text-anchor="middle" font-family="Liberation Sans" font-size="20" fill="#3a3a3a">0.5</text><text x="177.1" y="740.8" text-anchor="middle" font-family="Liberation Sans" font-size="20" fill="#3a3a3a">0</text><text x="167.0" y="871.0" text-anchor="middle" font-family="Liberation Sans" font-size="20" fill="#3a3a3a">-0.5</text><text x="176.0" y="892.0" text-anchor="middle" font-family="Liberation Sans" font-size="20" fill="#3a3a3a">2</text><text x="241.0" y="922.0" text-anchor="middle" font-family="Liberation Sans" font-size="20" fill="#3a3a3a">1</text><text x="306.0" y="951.0" text-anchor="middle" font-family="Liberation Sans" font-size="20" fill="#3a3a3a">0</text><text x="367.0" y="982.0" text-anchor="middle" font-family="Liberation Sans" font-size="20" fill="#3a3a3a">-1</text><text x="433.5" y="1013.0" text-anchor="middle" font-family="Liberation Sans" font-size="20" fill="#3a3a3a">-2</text><text x="475.5" y="1014.0" text-anchor="middle" font-family="Liberation Sans" font-size="20" fill="#3a3a3a">-2</text><text x="560.0" y="991.0" text-anchor="middle" font-family="Liberation Sans" font-size="20" fill="#3a3a3a">-1</text><text x="643.0" y="970.0" text-anchor="middle" font-family="Liberation Sans" font-size="20" fill="#3a3a3a">0</text><text x="728.0" y="946.0" text-anchor="middle" font-family="Liberation Sans" font-size="20" fill="#3a3a3a">1</text><text x="812.0" y="923.0" text-anchor="middle" font-family="Liberation Sans" font-size="20" fill="#3a3a3a">2</text><text x="292.5" y="1019.5" text-anchor="middle" font-family="Liberation Sans" font-size="19" fill="#3a3a3a">asse y</text><text x="636.0" y="1027.3" text-anchor="middle" font-family="Liberation Sans" font-size="19" fill="#3a3a3a">asse x</text><text x="0" y="0" text-anchor="middle" font-family="Liberation Sans" font-size="19" fill="#3a3a3a" transform="translate(143.0,741.0) rotate(-90)">asse z</text></svg>
</body></html>
